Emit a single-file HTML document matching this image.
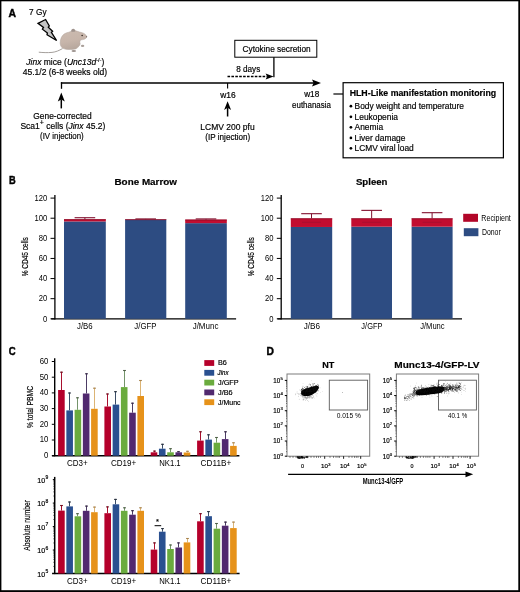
<!DOCTYPE html>
<html><head><meta charset="utf-8"><style>
html,body{margin:0;padding:0;background:#fff;width:520px;height:592px;overflow:hidden;}
svg{display:block;will-change:transform;}
text{stroke:#000;stroke-width:0.18px;font-family:"Liberation Sans", sans-serif;}
</style></head><body>
<svg width="520" height="592" viewBox="0 0 520 592">
<rect width="520" height="592" fill="#fff"/>
<rect x="0.00" y="0.00" width="520.00" height="1.30" fill="#000" />
<rect x="0.00" y="0.00" width="1.40" height="592.00" fill="#000" />
<rect x="518.30" y="0.00" width="1.70" height="592.00" fill="#000" />
<rect x="0.00" y="590.20" width="520.00" height="1.80" fill="#000" />
<text x="8.40" y="17.40" font-size="11.5" font-weight="bold" font-style="normal" fill="#000" textLength="7.50" lengthAdjust="spacingAndGlyphs" style="stroke-width:0.45px">A</text>
<text x="29.10" y="14.60" font-size="8.7" font-weight="normal" font-style="normal" fill="#000" textLength="17.45" lengthAdjust="spacingAndGlyphs" >7 Gy</text>
<polygon points="38,23.3 45.6,19.5 49.3,26 48.3,27.1 52.6,31.3 51.4,32.3 56.6,40.5 47,34.8 47.4,33 42.4,29.2 43.5,27.4" fill="#c4c4c4" stroke="#000" stroke-width="1.3" stroke-linejoin="miter"/>
<defs><linearGradient id="mg" x1="0" y1="0" x2="0.3" y2="1"><stop offset="0" stop-color="#cbbbb0"/><stop offset="0.6" stop-color="#c7b5aa"/><stop offset="1" stop-color="#b8a89e"/></linearGradient></defs>
<path d="M62.5,48.6 C59,50.5 56,52 52,52.4 C47,52.8 43,52.6 38.8,52.2" fill="none" stroke="#9a9490" stroke-width="0.9"/>
<path d="M69,32.2 C71,31 73.5,30.5 75,30.6 C78,31.5 81,32.5 83.5,33.2 C85.2,34 86.3,35.3 86.8,36.6 C86.5,37.8 85.8,38.7 84.8,39.1 C83.5,39.6 82,39.8 80.8,39.9 C79.8,41 79.6,42.3 80.2,43.6 C80,45 79.5,45.8 78.9,46.3 C77.8,47.6 76.8,48.4 75.6,48.9 C72,49.6 68.5,49.6 65.8,49.2 C64,48.8 62.6,48.3 61.9,47.6 C60.6,46 60,44 60.2,42.3 C60.3,40.6 60.6,39.2 61.2,37.8 C62,36 63,34.8 64.5,33.8 C66,32.9 67.5,32.4 69,32.2 Z" fill="url(#mg)" stroke="#b0a39b" stroke-width="0.5"/>
<ellipse cx="82.6" cy="45.9" rx="1.7" ry="1.1" fill="#aaa09a"/>
<ellipse cx="73.8" cy="51.0" rx="2.3" ry="1.1" fill="#9e9490"/>
<path d="M71.2,31.6 C71,29.8 72,28.8 73.3,28.8 C74.6,28.9 75.3,30 75.2,31.4 C74,31.9 72.4,32 71.2,31.6 Z" fill="#9f938d"/>
<circle cx="82.1" cy="35.5" r="0.75" fill="#2a1f1a"/>
<circle cx="86.5" cy="36.8" r="0.55" fill="#5a4a45"/>
<text x="26.3" y="65" font-size="8.4" textLength="78" lengthAdjust="spacingAndGlyphs"><tspan font-style="italic">Jinx</tspan> mice (<tspan font-style="italic">Unc13d</tspan><tspan font-size="5.5" dy="-3">-/-</tspan><tspan dy="3">)</tspan></text>
<text x="22.65" y="75.40" font-size="8.5" font-weight="normal" font-style="normal" fill="#000" textLength="84.50" lengthAdjust="spacingAndGlyphs" >45.1/2 (6-8 weeks old)</text>
<line x1="60.9" y1="83.0" x2="314" y2="83.0" stroke="#000" stroke-width="1.6" />
<polygon points="312,79.4 321,83.0 312,86.6 313.6,83.0" fill="#000"/>
<line x1="61.5" y1="82.2" x2="61.5" y2="88.8" stroke="#000" stroke-width="1.3" />
<line x1="227.6" y1="83.0" x2="227.6" y2="88.6" stroke="#000" stroke-width="1.1" />
<line x1="61.3" y1="99.3" x2="61.3" y2="108.4" stroke="#000" stroke-width="1.5" />
<polygon points="61.3,92.5 64.8,101.5 61.3,99.39999999999999 57.8,101.5" fill="#000"/>
<line x1="227.6" y1="107.7" x2="227.6" y2="116.5" stroke="#000" stroke-width="1.5" />
<polygon points="227.6,101.2 231.1,109.9 227.6,107.8 224.1,109.9" fill="#000"/>
<text x="33.35" y="118.70" font-size="8.5" font-weight="normal" font-style="normal" fill="#000" textLength="58.30" lengthAdjust="spacingAndGlyphs" >Gene-corrected</text>
<text x="20.4" y="128.5" font-size="8.5" textLength="85" lengthAdjust="spacingAndGlyphs">Sca1<tspan font-size="7" dy="-3.2">+</tspan><tspan dy="3.2"> cells (</tspan><tspan font-style="italic">Jinx</tspan> 45.2)</text>
<text x="40.05" y="139.00" font-size="8.7" font-weight="normal" font-style="normal" fill="#000" textLength="43.70" lengthAdjust="spacingAndGlyphs" >(IV injection)</text>
<text x="220.17" y="98.40" font-size="8.5" font-weight="normal" font-style="normal" fill="#000" textLength="15.49" lengthAdjust="spacingAndGlyphs" >w16</text>
<text x="200.35" y="129.60" font-size="8.5" font-weight="normal" font-style="normal" fill="#000" textLength="54.30" lengthAdjust="spacingAndGlyphs" >LCMV 200 pfu</text>
<text x="205.35" y="139.80" font-size="8.5" font-weight="normal" font-style="normal" fill="#000" textLength="44.90" lengthAdjust="spacingAndGlyphs" >(IP injection)</text>
<rect x="234.8" y="40.3" width="82" height="16.9" fill="none" stroke="#000" stroke-width="1"/>
<text x="242.55" y="52.40" font-size="8.4" font-weight="normal" font-style="normal" fill="#000" textLength="68.10" lengthAdjust="spacingAndGlyphs" >Cytokine secretion</text>
<line x1="273.9" y1="57.2" x2="273.9" y2="77.2" stroke="#000" stroke-width="1.3" />
<line x1="227.5" y1="76.6" x2="267" y2="76.6" stroke="#000" stroke-width="1.5" stroke-dasharray="2.6,1.3"/>
<polygon points="265.6,73.6 273.6,76.6 265.6,79.6 267.2,76.6" fill="#000"/>
<text x="236.25" y="71.80" font-size="8.4" font-weight="normal" font-style="normal" fill="#000" textLength="24.00" lengthAdjust="spacingAndGlyphs" >8 days</text>
<text x="304.17" y="96.80" font-size="8.5" font-weight="normal" font-style="normal" fill="#000" textLength="15.09" lengthAdjust="spacingAndGlyphs" >w18</text>
<text x="292.05" y="108.10" font-size="8.5" font-weight="normal" font-style="normal" fill="#000" textLength="38.89" lengthAdjust="spacingAndGlyphs" >euthanasia</text>
<line x1="333.4" y1="94" x2="343" y2="94" stroke="#000" stroke-width="1.2" />
<rect x="343.1" y="82.7" width="160.3" height="75.1" fill="none" stroke="#000" stroke-width="1.2"/>
<text x="349.65" y="95.80" font-size="8.9" font-weight="bold" font-style="normal" fill="#000" textLength="146.50" lengthAdjust="spacingAndGlyphs" >HLH-Like manifestation monitoring</text>
<circle cx="350.9" cy="106.20" r="1.35" fill="#000"/>
<text x="354.55" y="108.90" font-size="8.4" font-weight="normal" font-style="normal" fill="#000" textLength="109.30" lengthAdjust="spacingAndGlyphs" >Body weight and temperature</text>
<circle cx="350.9" cy="116.80" r="1.35" fill="#000"/>
<text x="354.55" y="119.50" font-size="8.4" font-weight="normal" font-style="normal" fill="#000" textLength="43.45" lengthAdjust="spacingAndGlyphs" >Leukopenia</text>
<circle cx="350.9" cy="127.30" r="1.35" fill="#000"/>
<text x="354.55" y="130.00" font-size="8.4" font-weight="normal" font-style="normal" fill="#000" textLength="28.59" lengthAdjust="spacingAndGlyphs" >Anemia</text>
<circle cx="350.9" cy="137.90" r="1.35" fill="#000"/>
<text x="354.55" y="140.60" font-size="8.4" font-weight="normal" font-style="normal" fill="#000" textLength="50.85" lengthAdjust="spacingAndGlyphs" >Liver damage</text>
<circle cx="350.9" cy="148.30" r="1.35" fill="#000"/>
<text x="354.55" y="151.00" font-size="8.4" font-weight="normal" font-style="normal" fill="#000" textLength="59.19" lengthAdjust="spacingAndGlyphs" >LCMV viral load</text>
<text x="9.00" y="184.20" font-size="11.5" font-weight="bold" font-style="normal" fill="#000" textLength="6.70" lengthAdjust="spacingAndGlyphs" style="stroke-width:0.45px">B</text>
<text x="114.50" y="184.90" font-size="9.4" font-weight="bold" font-style="normal" fill="#000" textLength="62.48" lengthAdjust="spacingAndGlyphs" >Bone Marrow</text>
<text x="355.90" y="184.70" font-size="9.4" font-weight="bold" font-style="normal" fill="#000" textLength="31.60" lengthAdjust="spacingAndGlyphs" >Spleen</text>
<line x1="54.9" y1="195.1" x2="54.9" y2="319.40000000000003" stroke="#000" stroke-width="1.3" />
<line x1="51.199999999999996" y1="318.8" x2="236.1" y2="318.8" stroke="#000" stroke-width="1.2" />
<line x1="50.5" y1="318.8" x2="54.9" y2="318.8" stroke="#000" stroke-width="1.0" />
<text x="43.05" y="321.55" font-size="8.3" font-weight="normal" font-style="normal" fill="#000" textLength="4.25" lengthAdjust="spacingAndGlyphs" style="stroke-width:0">0</text>
<line x1="50.5" y1="298.68333333333334" x2="54.9" y2="298.68333333333334" stroke="#000" stroke-width="1.0" />
<text x="38.81" y="301.43" font-size="8.3" font-weight="normal" font-style="normal" fill="#000" textLength="8.49" lengthAdjust="spacingAndGlyphs" style="stroke-width:0">20</text>
<line x1="50.5" y1="278.56666666666666" x2="54.9" y2="278.56666666666666" stroke="#000" stroke-width="1.0" />
<text x="38.81" y="281.32" font-size="8.3" font-weight="normal" font-style="normal" fill="#000" textLength="8.49" lengthAdjust="spacingAndGlyphs" style="stroke-width:0">40</text>
<line x1="50.5" y1="258.45" x2="54.9" y2="258.45" stroke="#000" stroke-width="1.0" />
<text x="38.81" y="261.20" font-size="8.3" font-weight="normal" font-style="normal" fill="#000" textLength="8.49" lengthAdjust="spacingAndGlyphs" style="stroke-width:0">60</text>
<line x1="50.5" y1="238.33333333333331" x2="54.9" y2="238.33333333333331" stroke="#000" stroke-width="1.0" />
<text x="38.81" y="241.08" font-size="8.3" font-weight="normal" font-style="normal" fill="#000" textLength="8.49" lengthAdjust="spacingAndGlyphs" style="stroke-width:0">80</text>
<line x1="50.5" y1="218.21666666666664" x2="54.9" y2="218.21666666666664" stroke="#000" stroke-width="1.0" />
<text x="34.56" y="220.97" font-size="8.3" font-weight="normal" font-style="normal" fill="#000" textLength="12.74" lengthAdjust="spacingAndGlyphs" style="stroke-width:0">100</text>
<line x1="50.5" y1="198.09999999999997" x2="54.9" y2="198.09999999999997" stroke="#000" stroke-width="1.0" />
<text x="34.56" y="200.85" font-size="8.3" font-weight="normal" font-style="normal" fill="#000" textLength="12.74" lengthAdjust="spacingAndGlyphs" style="stroke-width:0">120</text>
<g transform="translate(27.90,256.75) rotate(-90)"><text x="-19.60" y="0" font-size="8.2" textLength="39.20" lengthAdjust="spacingAndGlyphs">% CD45 cells</text></g>
<rect x="64.00" y="221.44" width="41.80" height="97.36" fill="#2d4c82" />
<rect x="64.00" y="219.32" width="41.80" height="2.11" fill="#c20d30" />
<rect x="64.00" y="219.32" width="41.80" height="0.80" fill="#8a0a25" />
<line x1="84.9" y1="217.71375" x2="84.9" y2="219.32308333333333" stroke="#80102e" stroke-width="1.0" />
<line x1="74.60000000000001" y1="217.71375" x2="95.2" y2="217.71375" stroke="#80102e" stroke-width="1.1" />
<text x="77.05" y="329.00" font-size="8.7" font-weight="normal" font-style="normal" fill="#000" textLength="15.60" lengthAdjust="spacingAndGlyphs" style="stroke-width:0">J/B6</text>
<rect x="125.10" y="219.62" width="41.20" height="99.18" fill="#2d4c82" />
<rect x="125.10" y="219.32" width="41.20" height="0.30" fill="#c20d30" />
<rect x="125.10" y="219.32" width="41.20" height="0.80" fill="#8a0a25" />
<line x1="145.7" y1="218.92075" x2="145.7" y2="219.32308333333333" stroke="#80102e" stroke-width="1.0" />
<line x1="135.39999999999998" y1="218.92075" x2="156.0" y2="218.92075" stroke="#80102e" stroke-width="1.1" />
<text x="134.35" y="329.00" font-size="8.7" font-weight="normal" font-style="normal" fill="#000" textLength="22.10" lengthAdjust="spacingAndGlyphs" style="stroke-width:0">J/GFP</text>
<rect x="185.20" y="223.15" width="41.60" height="95.65" fill="#2d4c82" />
<rect x="185.20" y="219.62" width="41.60" height="3.52" fill="#c20d30" />
<rect x="185.20" y="219.62" width="41.60" height="0.80" fill="#8a0a25" />
<line x1="206.0" y1="218.92075" x2="206.0" y2="219.62483333333333" stroke="#80102e" stroke-width="1.0" />
<line x1="195.7" y1="218.92075" x2="216.3" y2="218.92075" stroke="#80102e" stroke-width="1.1" />
<text x="192.65" y="329.00" font-size="8.7" font-weight="normal" font-style="normal" fill="#000" textLength="25.80" lengthAdjust="spacingAndGlyphs" style="stroke-width:0">J/Munc</text>
<line x1="281.2" y1="195.1" x2="281.2" y2="319.40000000000003" stroke="#000" stroke-width="1.3" />
<line x1="277.5" y1="318.8" x2="462" y2="318.8" stroke="#000" stroke-width="1.2" />
<line x1="276.8" y1="318.8" x2="281.2" y2="318.8" stroke="#000" stroke-width="1.0" />
<text x="269.35" y="321.55" font-size="8.3" font-weight="normal" font-style="normal" fill="#000" textLength="4.25" lengthAdjust="spacingAndGlyphs" style="stroke-width:0">0</text>
<line x1="276.8" y1="298.68333333333334" x2="281.2" y2="298.68333333333334" stroke="#000" stroke-width="1.0" />
<text x="265.11" y="301.43" font-size="8.3" font-weight="normal" font-style="normal" fill="#000" textLength="8.49" lengthAdjust="spacingAndGlyphs" style="stroke-width:0">20</text>
<line x1="276.8" y1="278.56666666666666" x2="281.2" y2="278.56666666666666" stroke="#000" stroke-width="1.0" />
<text x="265.11" y="281.32" font-size="8.3" font-weight="normal" font-style="normal" fill="#000" textLength="8.49" lengthAdjust="spacingAndGlyphs" style="stroke-width:0">40</text>
<line x1="276.8" y1="258.45" x2="281.2" y2="258.45" stroke="#000" stroke-width="1.0" />
<text x="265.11" y="261.20" font-size="8.3" font-weight="normal" font-style="normal" fill="#000" textLength="8.49" lengthAdjust="spacingAndGlyphs" style="stroke-width:0">60</text>
<line x1="276.8" y1="238.33333333333331" x2="281.2" y2="238.33333333333331" stroke="#000" stroke-width="1.0" />
<text x="265.11" y="241.08" font-size="8.3" font-weight="normal" font-style="normal" fill="#000" textLength="8.49" lengthAdjust="spacingAndGlyphs" style="stroke-width:0">80</text>
<line x1="276.8" y1="218.21666666666664" x2="281.2" y2="218.21666666666664" stroke="#000" stroke-width="1.0" />
<text x="260.86" y="220.97" font-size="8.3" font-weight="normal" font-style="normal" fill="#000" textLength="12.74" lengthAdjust="spacingAndGlyphs" style="stroke-width:0">100</text>
<line x1="276.8" y1="198.09999999999997" x2="281.2" y2="198.09999999999997" stroke="#000" stroke-width="1.0" />
<text x="260.86" y="200.85" font-size="8.3" font-weight="normal" font-style="normal" fill="#000" textLength="12.74" lengthAdjust="spacingAndGlyphs" style="stroke-width:0">120</text>
<g transform="translate(254.20,256.75) rotate(-90)"><text x="-19.60" y="0" font-size="8.2" textLength="39.20" lengthAdjust="spacingAndGlyphs">% CD45 cells</text></g>
<rect x="290.80" y="226.97" width="41.40" height="91.83" fill="#2d4c82" />
<rect x="290.80" y="218.42" width="41.40" height="8.55" fill="#c20d30" />
<rect x="290.80" y="218.42" width="41.40" height="0.80" fill="#8a0a25" />
<line x1="311.5" y1="213.69041666666664" x2="311.5" y2="218.4178333333333" stroke="#80102e" stroke-width="1.0" />
<line x1="301.2" y1="213.69041666666664" x2="321.8" y2="213.69041666666664" stroke="#80102e" stroke-width="1.1" />
<text x="303.75" y="329.00" font-size="8.7" font-weight="normal" font-style="normal" fill="#000" textLength="16.40" lengthAdjust="spacingAndGlyphs" style="stroke-width:0">J/B6</text>
<rect x="351.30" y="226.67" width="40.70" height="92.13" fill="#2d4c82" />
<rect x="351.30" y="218.42" width="40.70" height="8.25" fill="#c20d30" />
<rect x="351.30" y="218.42" width="40.70" height="0.80" fill="#8a0a25" />
<line x1="371.65" y1="210.37116666666665" x2="371.65" y2="218.4178333333333" stroke="#80102e" stroke-width="1.0" />
<line x1="361.34999999999997" y1="210.37116666666665" x2="381.95" y2="210.37116666666665" stroke="#80102e" stroke-width="1.1" />
<text x="361.35" y="329.00" font-size="8.7" font-weight="normal" font-style="normal" fill="#000" textLength="21.10" lengthAdjust="spacingAndGlyphs" style="stroke-width:0">J/GFP</text>
<rect x="411.60" y="226.67" width="41.00" height="92.13" fill="#2d4c82" />
<rect x="411.60" y="218.42" width="41.00" height="8.25" fill="#c20d30" />
<rect x="411.60" y="218.42" width="41.00" height="0.80" fill="#8a0a25" />
<line x1="432.1" y1="212.6845833333333" x2="432.1" y2="218.4178333333333" stroke="#80102e" stroke-width="1.0" />
<line x1="421.8" y1="212.6845833333333" x2="442.40000000000003" y2="212.6845833333333" stroke="#80102e" stroke-width="1.1" />
<text x="420.15" y="329.00" font-size="8.7" font-weight="normal" font-style="normal" fill="#000" textLength="24.50" lengthAdjust="spacingAndGlyphs" style="stroke-width:0">J/Munc</text>
<line x1="302.0" y1="222.3" x2="321.0" y2="222.3" stroke="#8e1030" stroke-width="0.8" opacity="0.6"/>
<line x1="362.2" y1="222.3" x2="381.2" y2="222.3" stroke="#8e1030" stroke-width="0.8" opacity="0.6"/>
<line x1="422.6" y1="222.3" x2="441.6" y2="222.3" stroke="#8e1030" stroke-width="0.8" opacity="0.6"/>
<rect x="463.20" y="213.80" width="14.80" height="8.00" fill="#b20628" />
<rect x="463.80" y="228.20" width="14.60" height="8.00" fill="#2d4c82" />
<text x="481.35" y="220.70" font-size="8.8" font-weight="normal" font-style="normal" fill="#000" textLength="29.50" lengthAdjust="spacingAndGlyphs" style="stroke-width:0">Recipient</text>
<text x="481.95" y="234.70" font-size="8.8" font-weight="normal" font-style="normal" fill="#000" textLength="18.80" lengthAdjust="spacingAndGlyphs" style="stroke-width:0">Donor</text>
<text x="8.70" y="355.30" font-size="11.5" font-weight="bold" font-style="normal" fill="#000" textLength="6.90" lengthAdjust="spacingAndGlyphs" style="stroke-width:0.45px">C</text>
<line x1="54.7" y1="358.3" x2="54.7" y2="456.3" stroke="#000" stroke-width="1.4" />
<line x1="52.1" y1="455.7" x2="239.4" y2="455.7" stroke="#000" stroke-width="1.4" />
<line x1="51.8" y1="455.7" x2="54.7" y2="455.7" stroke="#000" stroke-width="1.0" />
<text x="44.07" y="458.00" font-size="8.2" font-weight="normal" font-style="normal" fill="#000" textLength="4.33" lengthAdjust="spacingAndGlyphs" style="stroke-width:0">0</text>
<line x1="51.8" y1="440.0" x2="54.7" y2="440.0" stroke="#000" stroke-width="1.0" />
<text x="39.74" y="442.30" font-size="8.2" font-weight="normal" font-style="normal" fill="#000" textLength="8.66" lengthAdjust="spacingAndGlyphs" style="stroke-width:0">10</text>
<line x1="51.8" y1="424.3" x2="54.7" y2="424.3" stroke="#000" stroke-width="1.0" />
<text x="39.74" y="426.60" font-size="8.2" font-weight="normal" font-style="normal" fill="#000" textLength="8.66" lengthAdjust="spacingAndGlyphs" style="stroke-width:0">20</text>
<line x1="51.8" y1="408.6" x2="54.7" y2="408.6" stroke="#000" stroke-width="1.0" />
<text x="39.74" y="410.90" font-size="8.2" font-weight="normal" font-style="normal" fill="#000" textLength="8.66" lengthAdjust="spacingAndGlyphs" style="stroke-width:0">30</text>
<line x1="51.8" y1="392.9" x2="54.7" y2="392.9" stroke="#000" stroke-width="1.0" />
<text x="39.74" y="395.20" font-size="8.2" font-weight="normal" font-style="normal" fill="#000" textLength="8.66" lengthAdjust="spacingAndGlyphs" style="stroke-width:0">40</text>
<line x1="51.8" y1="377.2" x2="54.7" y2="377.2" stroke="#000" stroke-width="1.0" />
<text x="39.74" y="379.50" font-size="8.2" font-weight="normal" font-style="normal" fill="#000" textLength="8.66" lengthAdjust="spacingAndGlyphs" style="stroke-width:0">50</text>
<line x1="51.8" y1="361.5" x2="54.7" y2="361.5" stroke="#000" stroke-width="1.0" />
<text x="39.74" y="363.80" font-size="8.2" font-weight="normal" font-style="normal" fill="#000" textLength="8.66" lengthAdjust="spacingAndGlyphs" style="stroke-width:0">60</text>
<line x1="61.5" y1="371.7" x2="61.5" y2="390.0" stroke="#a8102e" stroke-width="1.0" />
<line x1="60.1" y1="372.2" x2="62.9" y2="372.2" stroke="#701020" stroke-width="1.1" />
<rect x="58.10" y="390.00" width="6.60" height="65.70" fill="#b5002b" />
<line x1="69.5" y1="392.5" x2="69.5" y2="410.4" stroke="#3a4c66" stroke-width="1.0" />
<line x1="68.1" y1="393.0" x2="70.9" y2="393.0" stroke="#28303e" stroke-width="1.1" />
<rect x="66.35" y="410.40" width="6.60" height="45.30" fill="#2a5090" />
<line x1="77.5" y1="397.3" x2="77.5" y2="409.8" stroke="#74946a" stroke-width="1.0" />
<line x1="76.1" y1="397.8" x2="78.9" y2="397.8" stroke="#4e5e46" stroke-width="1.1" />
<rect x="74.60" y="409.80" width="6.60" height="45.90" fill="#6aab3e" />
<line x1="86.5" y1="373.3" x2="86.5" y2="393.5" stroke="#4c3c64" stroke-width="1.0" />
<line x1="85.1" y1="373.8" x2="87.9" y2="373.8" stroke="#342644" stroke-width="1.1" />
<rect x="82.85" y="393.50" width="6.60" height="62.20" fill="#51296f" />
<line x1="94.5" y1="387.7" x2="94.5" y2="408.8" stroke="#dcb474" stroke-width="1.0" />
<line x1="93.1" y1="388.2" x2="95.9" y2="388.2" stroke="#a88450" stroke-width="1.1" />
<rect x="91.10" y="408.80" width="6.60" height="46.90" fill="#e6921a" />
<line x1="107.5" y1="393.5" x2="107.5" y2="406.5" stroke="#a8102e" stroke-width="1.0" />
<line x1="106.1" y1="394.0" x2="108.9" y2="394.0" stroke="#701020" stroke-width="1.1" />
<rect x="104.40" y="406.50" width="6.60" height="49.20" fill="#b5002b" />
<line x1="115.5" y1="391.2" x2="115.5" y2="404.6" stroke="#3a4c66" stroke-width="1.0" />
<line x1="114.1" y1="391.7" x2="116.9" y2="391.7" stroke="#28303e" stroke-width="1.1" />
<rect x="112.65" y="404.60" width="6.60" height="51.10" fill="#2a5090" />
<line x1="124.5" y1="370.0" x2="124.5" y2="387.1" stroke="#74946a" stroke-width="1.0" />
<line x1="123.1" y1="370.5" x2="125.9" y2="370.5" stroke="#4e5e46" stroke-width="1.1" />
<rect x="120.90" y="387.10" width="6.60" height="68.60" fill="#6aab3e" />
<line x1="132.5" y1="402.7" x2="132.5" y2="412.7" stroke="#4c3c64" stroke-width="1.0" />
<line x1="131.1" y1="403.2" x2="133.9" y2="403.2" stroke="#342644" stroke-width="1.1" />
<rect x="129.15" y="412.70" width="6.60" height="43.00" fill="#51296f" />
<line x1="140.5" y1="380.0" x2="140.5" y2="396.0" stroke="#dcb474" stroke-width="1.0" />
<line x1="139.1" y1="380.5" x2="141.9" y2="380.5" stroke="#a88450" stroke-width="1.1" />
<rect x="137.40" y="396.00" width="6.60" height="59.70" fill="#e6921a" />
<line x1="154.5" y1="450.6" x2="154.5" y2="452.3" stroke="#a8102e" stroke-width="1.0" />
<line x1="153.1" y1="451.1" x2="155.9" y2="451.1" stroke="#701020" stroke-width="1.1" />
<rect x="150.70" y="452.30" width="6.60" height="3.40" fill="#b5002b" />
<line x1="162.5" y1="443.8" x2="162.5" y2="448.7" stroke="#3a4c66" stroke-width="1.0" />
<line x1="161.1" y1="444.3" x2="163.9" y2="444.3" stroke="#28303e" stroke-width="1.1" />
<rect x="158.95" y="448.70" width="6.60" height="7.00" fill="#2a5090" />
<line x1="170.5" y1="448.2" x2="170.5" y2="452.3" stroke="#74946a" stroke-width="1.0" />
<line x1="169.1" y1="448.7" x2="171.9" y2="448.7" stroke="#4e5e46" stroke-width="1.1" />
<rect x="167.20" y="452.30" width="6.60" height="3.40" fill="#6aab3e" />
<line x1="178.5" y1="451.2" x2="178.5" y2="452.3" stroke="#4c3c64" stroke-width="1.0" />
<line x1="177.1" y1="451.7" x2="179.9" y2="451.7" stroke="#342644" stroke-width="1.1" />
<rect x="175.45" y="452.30" width="6.60" height="3.40" fill="#51296f" />
<line x1="187.5" y1="450.8" x2="187.5" y2="452.5" stroke="#dcb474" stroke-width="1.0" />
<line x1="186.1" y1="451.3" x2="188.9" y2="451.3" stroke="#a88450" stroke-width="1.1" />
<rect x="183.70" y="452.50" width="6.60" height="3.20" fill="#e6921a" />
<line x1="200.5" y1="431.3" x2="200.5" y2="440.6" stroke="#a8102e" stroke-width="1.0" />
<line x1="199.1" y1="431.8" x2="201.9" y2="431.8" stroke="#701020" stroke-width="1.1" />
<rect x="197.10" y="440.60" width="6.60" height="15.10" fill="#b5002b" />
<line x1="208.5" y1="434.3" x2="208.5" y2="439.6" stroke="#3a4c66" stroke-width="1.0" />
<line x1="207.1" y1="434.8" x2="209.9" y2="434.8" stroke="#28303e" stroke-width="1.1" />
<rect x="205.35" y="439.60" width="6.60" height="16.10" fill="#2a5090" />
<line x1="216.5" y1="437.0" x2="216.5" y2="442.7" stroke="#74946a" stroke-width="1.0" />
<line x1="215.1" y1="437.5" x2="217.9" y2="437.5" stroke="#4e5e46" stroke-width="1.1" />
<rect x="213.60" y="442.70" width="6.60" height="13.00" fill="#6aab3e" />
<line x1="225.5" y1="431.3" x2="225.5" y2="439.1" stroke="#4c3c64" stroke-width="1.0" />
<line x1="224.1" y1="431.8" x2="226.9" y2="431.8" stroke="#342644" stroke-width="1.1" />
<rect x="221.85" y="439.10" width="6.60" height="16.60" fill="#51296f" />
<line x1="233.5" y1="442.3" x2="233.5" y2="445.9" stroke="#dcb474" stroke-width="1.0" />
<line x1="232.1" y1="442.8" x2="234.9" y2="442.8" stroke="#a88450" stroke-width="1.1" />
<rect x="230.10" y="445.90" width="6.60" height="9.80" fill="#e6921a" />
<g transform="translate(33.10,407.00) rotate(-90)"><text x="-21.05" y="0" font-size="8.6" textLength="42.10" lengthAdjust="spacingAndGlyphs">% total PBMC</text></g>
<text x="67.05" y="466.00" font-size="9.2" font-weight="normal" font-style="normal" fill="#000" textLength="20.70" lengthAdjust="spacingAndGlyphs" style="stroke-width:0">CD3+</text>
<text x="110.95" y="466.00" font-size="9.2" font-weight="normal" font-style="normal" fill="#000" textLength="25.30" lengthAdjust="spacingAndGlyphs" style="stroke-width:0">CD19+</text>
<text x="159.15" y="466.00" font-size="9.2" font-weight="normal" font-style="normal" fill="#000" textLength="21.50" lengthAdjust="spacingAndGlyphs" style="stroke-width:0">NK1.1</text>
<text x="200.55" y="466.00" font-size="9.2" font-weight="normal" font-style="normal" fill="#000" textLength="30.70" lengthAdjust="spacingAndGlyphs" style="stroke-width:0">CD11B+</text>
<rect x="204.30" y="360.10" width="9.90" height="5.80" fill="#b5002b" />
<text x="218.00" y="365.30" font-size="7.0" font-weight="normal" font-style="normal" fill="#000" textLength="8.90" lengthAdjust="spacingAndGlyphs" >B6</text>
<rect x="204.30" y="369.90" width="9.90" height="5.80" fill="#2a5090" />
<text x="217.62" y="375.10" font-size="7.0" font-weight="normal" font-style="italic" fill="#000" textLength="10.90" lengthAdjust="spacingAndGlyphs" >Jinx</text>
<rect x="204.30" y="379.70" width="9.90" height="5.80" fill="#6aab3e" />
<text x="218.00" y="384.90" font-size="7.0" font-weight="normal" font-style="normal" fill="#000" textLength="20.70" lengthAdjust="spacingAndGlyphs" >J/GFP</text>
<rect x="204.30" y="389.50" width="9.90" height="5.80" fill="#51296f" />
<text x="218.00" y="394.70" font-size="7.0" font-weight="normal" font-style="normal" fill="#000" textLength="14.60" lengthAdjust="spacingAndGlyphs" >J/B6</text>
<rect x="204.30" y="399.30" width="9.90" height="5.80" fill="#e6921a" />
<text x="218.00" y="404.50" font-size="7.0" font-weight="normal" font-style="normal" fill="#000" textLength="22.50" lengthAdjust="spacingAndGlyphs" >J/Munc</text>
<line x1="54.7" y1="476.9" x2="54.7" y2="574.1" stroke="#000" stroke-width="1.5" />
<line x1="52.1" y1="573.5" x2="239.6" y2="573.5" stroke="#000" stroke-width="1.4" />
<line x1="52.8" y1="573.5" x2="54.7" y2="573.5" stroke="#000" stroke-width="1.0" />
<text x="37.3" y="576.60" font-size="7.3" textLength="7.9" lengthAdjust="spacingAndGlyphs">10</text>
<text x="45.6" y="573.10" font-size="5">5</text>
<line x1="53.4" y1="566.433320851788" x2="54.7" y2="566.433320851788" stroke="#000" stroke-width="0.7" />
<line x1="53.4" y1="562.2995785454559" x2="54.7" y2="562.2995785454559" stroke="#000" stroke-width="0.7" />
<line x1="53.4" y1="559.3666417035761" x2="54.7" y2="559.3666417035761" stroke="#000" stroke-width="0.7" />
<line x1="53.4" y1="557.0916791482119" x2="54.7" y2="557.0916791482119" stroke="#000" stroke-width="0.7" />
<line x1="53.4" y1="555.232899397244" x2="54.7" y2="555.232899397244" stroke="#000" stroke-width="0.7" />
<line x1="53.4" y1="553.6613235106653" x2="54.7" y2="553.6613235106653" stroke="#000" stroke-width="0.7" />
<line x1="53.4" y1="552.2999625553641" x2="54.7" y2="552.2999625553641" stroke="#000" stroke-width="0.7" />
<line x1="53.4" y1="551.0991570909118" x2="54.7" y2="551.0991570909118" stroke="#000" stroke-width="0.7" />
<line x1="52.8" y1="550.025" x2="54.7" y2="550.025" stroke="#000" stroke-width="1.0" />
<text x="37.3" y="553.12" font-size="7.3" textLength="7.9" lengthAdjust="spacingAndGlyphs">10</text>
<text x="45.6" y="549.62" font-size="5">6</text>
<line x1="53.4" y1="542.958320851788" x2="54.7" y2="542.958320851788" stroke="#000" stroke-width="0.7" />
<line x1="53.4" y1="538.8245785454559" x2="54.7" y2="538.8245785454559" stroke="#000" stroke-width="0.7" />
<line x1="53.4" y1="535.891641703576" x2="54.7" y2="535.891641703576" stroke="#000" stroke-width="0.7" />
<line x1="53.4" y1="533.6166791482119" x2="54.7" y2="533.6166791482119" stroke="#000" stroke-width="0.7" />
<line x1="53.4" y1="531.7578993972439" x2="54.7" y2="531.7578993972439" stroke="#000" stroke-width="0.7" />
<line x1="53.4" y1="530.1863235106653" x2="54.7" y2="530.1863235106653" stroke="#000" stroke-width="0.7" />
<line x1="53.4" y1="528.8249625553641" x2="54.7" y2="528.8249625553641" stroke="#000" stroke-width="0.7" />
<line x1="53.4" y1="527.6241570909118" x2="54.7" y2="527.6241570909118" stroke="#000" stroke-width="0.7" />
<line x1="52.8" y1="526.55" x2="54.7" y2="526.55" stroke="#000" stroke-width="1.0" />
<text x="37.3" y="529.65" font-size="7.3" textLength="7.9" lengthAdjust="spacingAndGlyphs">10</text>
<text x="45.6" y="526.15" font-size="5">7</text>
<line x1="53.4" y1="519.483320851788" x2="54.7" y2="519.483320851788" stroke="#000" stroke-width="0.7" />
<line x1="53.4" y1="515.3495785454559" x2="54.7" y2="515.3495785454559" stroke="#000" stroke-width="0.7" />
<line x1="53.4" y1="512.416641703576" x2="54.7" y2="512.416641703576" stroke="#000" stroke-width="0.7" />
<line x1="53.4" y1="510.1416791482119" x2="54.7" y2="510.1416791482119" stroke="#000" stroke-width="0.7" />
<line x1="53.4" y1="508.2828993972439" x2="54.7" y2="508.2828993972439" stroke="#000" stroke-width="0.7" />
<line x1="53.4" y1="506.7113235106653" x2="54.7" y2="506.7113235106653" stroke="#000" stroke-width="0.7" />
<line x1="53.4" y1="505.3499625553641" x2="54.7" y2="505.3499625553641" stroke="#000" stroke-width="0.7" />
<line x1="53.4" y1="504.1491570909118" x2="54.7" y2="504.1491570909118" stroke="#000" stroke-width="0.7" />
<line x1="52.8" y1="503.07500000000005" x2="54.7" y2="503.07500000000005" stroke="#000" stroke-width="1.0" />
<text x="37.3" y="506.18" font-size="7.3" textLength="7.9" lengthAdjust="spacingAndGlyphs">10</text>
<text x="45.6" y="502.68" font-size="5">8</text>
<line x1="53.4" y1="496.0083208517881" x2="54.7" y2="496.0083208517881" stroke="#000" stroke-width="0.7" />
<line x1="53.4" y1="491.87457854545596" x2="54.7" y2="491.87457854545596" stroke="#000" stroke-width="0.7" />
<line x1="53.4" y1="488.9416417035761" x2="54.7" y2="488.9416417035761" stroke="#000" stroke-width="0.7" />
<line x1="53.4" y1="486.666679148212" x2="54.7" y2="486.666679148212" stroke="#000" stroke-width="0.7" />
<line x1="53.4" y1="484.807899397244" x2="54.7" y2="484.807899397244" stroke="#000" stroke-width="0.7" />
<line x1="53.4" y1="483.2363235106654" x2="54.7" y2="483.2363235106654" stroke="#000" stroke-width="0.7" />
<line x1="53.4" y1="481.87496255536416" x2="54.7" y2="481.87496255536416" stroke="#000" stroke-width="0.7" />
<line x1="53.4" y1="480.6741570909119" x2="54.7" y2="480.6741570909119" stroke="#000" stroke-width="0.7" />
<line x1="52.8" y1="479.6" x2="54.7" y2="479.6" stroke="#000" stroke-width="1.0" />
<text x="37.3" y="482.70" font-size="7.3" textLength="7.9" lengthAdjust="spacingAndGlyphs">10</text>
<text x="45.6" y="479.20" font-size="5">9</text>
<line x1="61.5" y1="505.0" x2="61.5" y2="510.6" stroke="#a8102e" stroke-width="1.0" />
<line x1="60.1" y1="505.5" x2="62.9" y2="505.5" stroke="#701020" stroke-width="1.1" />
<rect x="58.10" y="510.60" width="6.60" height="62.90" fill="#b5002b" />
<line x1="69.5" y1="501.5" x2="69.5" y2="506.4" stroke="#3a4c66" stroke-width="1.0" />
<line x1="68.1" y1="502.0" x2="70.9" y2="502.0" stroke="#28303e" stroke-width="1.1" />
<rect x="66.35" y="506.40" width="6.60" height="67.10" fill="#2a5090" />
<line x1="77.5" y1="513.2" x2="77.5" y2="516.3" stroke="#74946a" stroke-width="1.0" />
<line x1="76.1" y1="513.7" x2="78.9" y2="513.7" stroke="#4e5e46" stroke-width="1.1" />
<rect x="74.60" y="516.30" width="6.60" height="57.20" fill="#6aab3e" />
<line x1="86.5" y1="505.6" x2="86.5" y2="510.8" stroke="#4c3c64" stroke-width="1.0" />
<line x1="85.1" y1="506.1" x2="87.9" y2="506.1" stroke="#342644" stroke-width="1.1" />
<rect x="82.85" y="510.80" width="6.60" height="62.70" fill="#51296f" />
<line x1="94.5" y1="506.6" x2="94.5" y2="512.2" stroke="#dcb474" stroke-width="1.0" />
<line x1="93.1" y1="507.1" x2="95.9" y2="507.1" stroke="#a88450" stroke-width="1.1" />
<rect x="91.10" y="512.20" width="6.60" height="61.30" fill="#e6921a" />
<line x1="107.5" y1="506.4" x2="107.5" y2="513.2" stroke="#a8102e" stroke-width="1.0" />
<line x1="106.1" y1="506.9" x2="108.9" y2="506.9" stroke="#701020" stroke-width="1.1" />
<rect x="104.40" y="513.20" width="6.60" height="60.30" fill="#b5002b" />
<line x1="115.5" y1="498.9" x2="115.5" y2="504.3" stroke="#3a4c66" stroke-width="1.0" />
<line x1="114.1" y1="499.4" x2="116.9" y2="499.4" stroke="#28303e" stroke-width="1.1" />
<rect x="112.65" y="504.30" width="6.60" height="69.20" fill="#2a5090" />
<line x1="124.5" y1="507.3" x2="124.5" y2="510.8" stroke="#74946a" stroke-width="1.0" />
<line x1="123.1" y1="507.8" x2="125.9" y2="507.8" stroke="#4e5e46" stroke-width="1.1" />
<rect x="120.90" y="510.80" width="6.60" height="62.70" fill="#6aab3e" />
<line x1="132.5" y1="510.2" x2="132.5" y2="514.7" stroke="#4c3c64" stroke-width="1.0" />
<line x1="131.1" y1="510.7" x2="133.9" y2="510.7" stroke="#342644" stroke-width="1.1" />
<rect x="129.15" y="514.70" width="6.60" height="58.80" fill="#51296f" />
<line x1="140.5" y1="507.3" x2="140.5" y2="510.8" stroke="#dcb474" stroke-width="1.0" />
<line x1="139.1" y1="507.8" x2="141.9" y2="507.8" stroke="#a88450" stroke-width="1.1" />
<rect x="137.40" y="510.80" width="6.60" height="62.70" fill="#e6921a" />
<line x1="154.5" y1="542.4" x2="154.5" y2="549.6" stroke="#a8102e" stroke-width="1.0" />
<line x1="153.1" y1="542.9" x2="155.9" y2="542.9" stroke="#701020" stroke-width="1.1" />
<rect x="150.70" y="549.60" width="6.60" height="23.90" fill="#b5002b" />
<line x1="162.5" y1="528.1" x2="162.5" y2="531.7" stroke="#3a4c66" stroke-width="1.0" />
<line x1="161.1" y1="528.6" x2="163.9" y2="528.6" stroke="#28303e" stroke-width="1.1" />
<rect x="158.95" y="531.70" width="6.60" height="41.80" fill="#2a5090" />
<line x1="170.5" y1="544.5" x2="170.5" y2="549.0" stroke="#74946a" stroke-width="1.0" />
<line x1="169.1" y1="545.0" x2="171.9" y2="545.0" stroke="#4e5e46" stroke-width="1.1" />
<rect x="167.20" y="549.00" width="6.60" height="24.50" fill="#6aab3e" />
<line x1="178.5" y1="542.4" x2="178.5" y2="547.5" stroke="#4c3c64" stroke-width="1.0" />
<line x1="177.1" y1="542.9" x2="179.9" y2="542.9" stroke="#342644" stroke-width="1.1" />
<rect x="175.45" y="547.50" width="6.60" height="26.00" fill="#51296f" />
<line x1="187.5" y1="538.0" x2="187.5" y2="542.4" stroke="#dcb474" stroke-width="1.0" />
<line x1="186.1" y1="538.5" x2="188.9" y2="538.5" stroke="#a88450" stroke-width="1.1" />
<rect x="183.70" y="542.40" width="6.60" height="31.10" fill="#e6921a" />
<line x1="200.5" y1="513.2" x2="200.5" y2="521.3" stroke="#a8102e" stroke-width="1.0" />
<line x1="199.1" y1="513.7" x2="201.9" y2="513.7" stroke="#701020" stroke-width="1.1" />
<rect x="197.10" y="521.30" width="6.60" height="52.20" fill="#b5002b" />
<line x1="208.5" y1="511.1" x2="208.5" y2="516.2" stroke="#3a4c66" stroke-width="1.0" />
<line x1="207.1" y1="511.6" x2="209.9" y2="511.6" stroke="#28303e" stroke-width="1.1" />
<rect x="205.35" y="516.20" width="6.60" height="57.30" fill="#2a5090" />
<line x1="216.5" y1="523.0" x2="216.5" y2="528.7" stroke="#74946a" stroke-width="1.0" />
<line x1="215.1" y1="523.5" x2="217.9" y2="523.5" stroke="#4e5e46" stroke-width="1.1" />
<rect x="213.60" y="528.70" width="6.60" height="44.80" fill="#6aab3e" />
<line x1="225.5" y1="521.6" x2="225.5" y2="525.7" stroke="#4c3c64" stroke-width="1.0" />
<line x1="224.1" y1="522.1" x2="226.9" y2="522.1" stroke="#342644" stroke-width="1.1" />
<rect x="221.85" y="525.70" width="6.60" height="47.80" fill="#51296f" />
<line x1="233.5" y1="521.6" x2="233.5" y2="528.1" stroke="#dcb474" stroke-width="1.0" />
<line x1="232.1" y1="522.1" x2="234.9" y2="522.1" stroke="#a88450" stroke-width="1.1" />
<rect x="230.10" y="528.10" width="6.60" height="45.40" fill="#e6921a" />
<line x1="154.6" y1="525.7" x2="161.2" y2="525.7" stroke="#000" stroke-width="1.0" />
<text x="155.9" y="523.6" font-size="7.5">*</text>
<g transform="translate(30.00,525.40) rotate(-90)"><text x="-25.45" y="0" font-size="8.9" textLength="50.90" lengthAdjust="spacingAndGlyphs">Absolute number</text></g>
<text x="67.05" y="583.80" font-size="9.2" font-weight="normal" font-style="normal" fill="#000" textLength="20.70" lengthAdjust="spacingAndGlyphs" style="stroke-width:0">CD3+</text>
<text x="110.95" y="583.80" font-size="9.2" font-weight="normal" font-style="normal" fill="#000" textLength="25.30" lengthAdjust="spacingAndGlyphs" style="stroke-width:0">CD19+</text>
<text x="159.15" y="583.80" font-size="9.2" font-weight="normal" font-style="normal" fill="#000" textLength="21.50" lengthAdjust="spacingAndGlyphs" style="stroke-width:0">NK1.1</text>
<text x="200.55" y="583.80" font-size="9.2" font-weight="normal" font-style="normal" fill="#000" textLength="30.70" lengthAdjust="spacingAndGlyphs" style="stroke-width:0">CD11B+</text>
<text x="266.40" y="355.10" font-size="11.5" font-weight="bold" font-style="normal" fill="#000" textLength="7.40" lengthAdjust="spacingAndGlyphs" style="stroke-width:0.45px">D</text>
<text x="322.15" y="367.80" font-size="9.5" font-weight="bold" font-style="normal" fill="#000" textLength="12.10" lengthAdjust="spacingAndGlyphs" >NT</text>
<text x="394.35" y="368.40" font-size="9.5" font-weight="bold" font-style="normal" fill="#000" textLength="85.20" lengthAdjust="spacingAndGlyphs" >Munc13-4/GFP-LV</text>
<rect x="287.00" y="374.00" width="82.70" height="82.20" fill="none" stroke="#7c7c7c" stroke-width="1"/>
<line x1="284.8" y1="456.2" x2="287.0" y2="456.2" stroke="#000" stroke-width="1.0" />
<text x="273.30" y="458.60" font-size="6.3" textLength="6.9" lengthAdjust="spacingAndGlyphs">10</text>
<text x="280.40" y="455.60" font-size="4.3">0</text>
<line x1="286.0" y1="451.636385265734" x2="287.0" y2="451.636385265734" stroke="#333" stroke-width="0.6" />
<line x1="286.0" y1="448.9668417784499" x2="287.0" y2="448.9668417784499" stroke="#333" stroke-width="0.6" />
<line x1="286.0" y1="447.07277053146805" x2="287.0" y2="447.07277053146805" stroke="#333" stroke-width="0.6" />
<line x1="286.0" y1="445.60361473426593" x2="287.0" y2="445.60361473426593" stroke="#333" stroke-width="0.6" />
<line x1="286.0" y1="444.40322704418395" x2="287.0" y2="444.40322704418395" stroke="#333" stroke-width="0.6" />
<line x1="286.0" y1="443.38831371338387" x2="287.0" y2="443.38831371338387" stroke="#333" stroke-width="0.6" />
<line x1="286.0" y1="442.50915579720214" x2="287.0" y2="442.50915579720214" stroke="#333" stroke-width="0.6" />
<line x1="286.0" y1="441.73368355689985" x2="287.0" y2="441.73368355689985" stroke="#333" stroke-width="0.6" />
<line x1="284.8" y1="441.03999999999996" x2="287.0" y2="441.03999999999996" stroke="#000" stroke-width="1.0" />
<text x="273.30" y="443.44" font-size="6.3" textLength="6.9" lengthAdjust="spacingAndGlyphs">10</text>
<text x="280.40" y="440.44" font-size="4.3">1</text>
<line x1="286.0" y1="436.476385265734" x2="287.0" y2="436.476385265734" stroke="#333" stroke-width="0.6" />
<line x1="286.0" y1="433.8068417784499" x2="287.0" y2="433.8068417784499" stroke="#333" stroke-width="0.6" />
<line x1="286.0" y1="431.912770531468" x2="287.0" y2="431.912770531468" stroke="#333" stroke-width="0.6" />
<line x1="286.0" y1="430.4436147342659" x2="287.0" y2="430.4436147342659" stroke="#333" stroke-width="0.6" />
<line x1="286.0" y1="429.2432270441839" x2="287.0" y2="429.2432270441839" stroke="#333" stroke-width="0.6" />
<line x1="286.0" y1="428.22831371338384" x2="287.0" y2="428.22831371338384" stroke="#333" stroke-width="0.6" />
<line x1="286.0" y1="427.3491557972021" x2="287.0" y2="427.3491557972021" stroke="#333" stroke-width="0.6" />
<line x1="286.0" y1="426.5736835568998" x2="287.0" y2="426.5736835568998" stroke="#333" stroke-width="0.6" />
<line x1="284.8" y1="425.88" x2="287.0" y2="425.88" stroke="#000" stroke-width="1.0" />
<text x="273.30" y="428.28" font-size="6.3" textLength="6.9" lengthAdjust="spacingAndGlyphs">10</text>
<text x="280.40" y="425.28" font-size="4.3">2</text>
<line x1="286.0" y1="421.316385265734" x2="287.0" y2="421.316385265734" stroke="#333" stroke-width="0.6" />
<line x1="286.0" y1="418.6468417784499" x2="287.0" y2="418.6468417784499" stroke="#333" stroke-width="0.6" />
<line x1="286.0" y1="416.75277053146806" x2="287.0" y2="416.75277053146806" stroke="#333" stroke-width="0.6" />
<line x1="286.0" y1="415.28361473426594" x2="287.0" y2="415.28361473426594" stroke="#333" stroke-width="0.6" />
<line x1="286.0" y1="414.08322704418396" x2="287.0" y2="414.08322704418396" stroke="#333" stroke-width="0.6" />
<line x1="286.0" y1="413.0683137133839" x2="287.0" y2="413.0683137133839" stroke="#333" stroke-width="0.6" />
<line x1="286.0" y1="412.18915579720215" x2="287.0" y2="412.18915579720215" stroke="#333" stroke-width="0.6" />
<line x1="286.0" y1="411.41368355689985" x2="287.0" y2="411.41368355689985" stroke="#333" stroke-width="0.6" />
<line x1="284.8" y1="410.71999999999997" x2="287.0" y2="410.71999999999997" stroke="#000" stroke-width="1.0" />
<text x="273.30" y="413.12" font-size="6.3" textLength="6.9" lengthAdjust="spacingAndGlyphs">10</text>
<text x="280.40" y="410.12" font-size="4.3">3</text>
<line x1="286.0" y1="406.156385265734" x2="287.0" y2="406.156385265734" stroke="#333" stroke-width="0.6" />
<line x1="286.0" y1="403.4868417784499" x2="287.0" y2="403.4868417784499" stroke="#333" stroke-width="0.6" />
<line x1="286.0" y1="401.59277053146803" x2="287.0" y2="401.59277053146803" stroke="#333" stroke-width="0.6" />
<line x1="286.0" y1="400.1236147342659" x2="287.0" y2="400.1236147342659" stroke="#333" stroke-width="0.6" />
<line x1="286.0" y1="398.92322704418393" x2="287.0" y2="398.92322704418393" stroke="#333" stroke-width="0.6" />
<line x1="286.0" y1="397.90831371338385" x2="287.0" y2="397.90831371338385" stroke="#333" stroke-width="0.6" />
<line x1="286.0" y1="397.0291557972021" x2="287.0" y2="397.0291557972021" stroke="#333" stroke-width="0.6" />
<line x1="286.0" y1="396.25368355689983" x2="287.0" y2="396.25368355689983" stroke="#333" stroke-width="0.6" />
<line x1="284.8" y1="395.56" x2="287.0" y2="395.56" stroke="#000" stroke-width="1.0" />
<text x="273.30" y="397.96" font-size="6.3" textLength="6.9" lengthAdjust="spacingAndGlyphs">10</text>
<text x="280.40" y="394.96" font-size="4.3">4</text>
<line x1="286.0" y1="390.99638526573403" x2="287.0" y2="390.99638526573403" stroke="#333" stroke-width="0.6" />
<line x1="286.0" y1="388.32684177844993" x2="287.0" y2="388.32684177844993" stroke="#333" stroke-width="0.6" />
<line x1="286.0" y1="386.43277053146807" x2="287.0" y2="386.43277053146807" stroke="#333" stroke-width="0.6" />
<line x1="286.0" y1="384.96361473426595" x2="287.0" y2="384.96361473426595" stroke="#333" stroke-width="0.6" />
<line x1="286.0" y1="383.76322704418396" x2="287.0" y2="383.76322704418396" stroke="#333" stroke-width="0.6" />
<line x1="286.0" y1="382.7483137133839" x2="287.0" y2="382.7483137133839" stroke="#333" stroke-width="0.6" />
<line x1="286.0" y1="381.86915579720215" x2="287.0" y2="381.86915579720215" stroke="#333" stroke-width="0.6" />
<line x1="286.0" y1="381.09368355689986" x2="287.0" y2="381.09368355689986" stroke="#333" stroke-width="0.6" />
<line x1="284.8" y1="380.4" x2="287.0" y2="380.4" stroke="#000" stroke-width="1.0" />
<text x="273.30" y="382.80" font-size="6.3" textLength="6.9" lengthAdjust="spacingAndGlyphs">10</text>
<text x="280.40" y="379.80" font-size="4.3">5</text>
<rect x="329.30" y="380.20" width="38.30" height="29.80" fill="none" stroke="#5a5a5a" stroke-width="0.9"/>
<text x="336.65" y="417.80" font-size="7.0" font-weight="normal" font-style="normal" fill="#000" textLength="24.30" lengthAdjust="spacingAndGlyphs" style="stroke-width:0">0.015 %</text>
<text x="301.00" y="467.9" font-size="5.9" textLength="3.0" lengthAdjust="spacingAndGlyphs">0</text>
<text x="321.05" y="467.9" font-size="5.9" textLength="6.9" lengthAdjust="spacingAndGlyphs">10</text>
<text x="328.30" y="465.6" font-size="4.0">3</text>
<line x1="324.7" y1="456.2" x2="324.7" y2="458.8" stroke="#000" stroke-width="0.9" />
<text x="339.95" y="467.9" font-size="5.9" textLength="6.9" lengthAdjust="spacingAndGlyphs">10</text>
<text x="347.20" y="465.6" font-size="4.0">4</text>
<line x1="343.6" y1="456.2" x2="343.6" y2="458.8" stroke="#000" stroke-width="0.9" />
<text x="357.05" y="467.9" font-size="5.9" textLength="6.9" lengthAdjust="spacingAndGlyphs">10</text>
<text x="364.30" y="465.6" font-size="4.0">5</text>
<line x1="360.7" y1="456.2" x2="360.7" y2="458.8" stroke="#000" stroke-width="0.9" />
<line x1="302.6" y1="456.2" x2="302.6" y2="458.59999999999997" stroke="#000" stroke-width="0.9" />
<line x1="290.0" y1="456.2" x2="290.0" y2="457.8" stroke="#333" stroke-width="0.7" />
<line x1="293.0" y1="456.2" x2="293.0" y2="457.8" stroke="#333" stroke-width="0.7" />
<line x1="296.0" y1="456.2" x2="296.0" y2="457.8" stroke="#333" stroke-width="0.7" />
<line x1="308.0" y1="456.2" x2="308.0" y2="457.8" stroke="#333" stroke-width="0.7" />
<line x1="311.0" y1="456.2" x2="311.0" y2="457.8" stroke="#333" stroke-width="0.7" />
<line x1="314.0" y1="456.2" x2="314.0" y2="457.8" stroke="#333" stroke-width="0.7" />
<line x1="316.5" y1="456.2" x2="316.5" y2="457.8" stroke="#333" stroke-width="0.7" />
<line x1="318.5" y1="456.2" x2="318.5" y2="457.8" stroke="#333" stroke-width="0.7" />
<line x1="320.5" y1="456.2" x2="320.5" y2="457.8" stroke="#333" stroke-width="0.7" />
<line x1="330.0" y1="456.2" x2="330.0" y2="457.8" stroke="#333" stroke-width="0.7" />
<line x1="333.5" y1="456.2" x2="333.5" y2="457.8" stroke="#333" stroke-width="0.7" />
<line x1="336.0" y1="456.2" x2="336.0" y2="457.8" stroke="#333" stroke-width="0.7" />
<line x1="338.0" y1="456.2" x2="338.0" y2="457.8" stroke="#333" stroke-width="0.7" />
<line x1="339.5" y1="456.2" x2="339.5" y2="457.8" stroke="#333" stroke-width="0.7" />
<line x1="349.0" y1="456.2" x2="349.0" y2="457.8" stroke="#333" stroke-width="0.7" />
<line x1="352.0" y1="456.2" x2="352.0" y2="457.8" stroke="#333" stroke-width="0.7" />
<line x1="354.5" y1="456.2" x2="354.5" y2="457.8" stroke="#333" stroke-width="0.7" />
<line x1="356.3" y1="456.2" x2="356.3" y2="457.8" stroke="#333" stroke-width="0.7" />
<line x1="358.0" y1="456.2" x2="358.0" y2="457.8" stroke="#333" stroke-width="0.7" />
<circle cx="299.38" cy="458.23" r="0.45" fill="#000"/>
<circle cx="298.33" cy="457.77" r="0.45" fill="#000"/>
<circle cx="297.89" cy="456.95" r="0.45" fill="#000"/>
<circle cx="307.49" cy="456.88" r="0.45" fill="#000"/>
<circle cx="303.74" cy="457.33" r="0.45" fill="#000"/>
<circle cx="301.76" cy="457.39" r="0.45" fill="#000"/>
<circle cx="299.02" cy="457.99" r="0.45" fill="#000"/>
<circle cx="297.94" cy="456.92" r="0.45" fill="#000"/>
<circle cx="297.21" cy="456.98" r="0.45" fill="#000"/>
<circle cx="301.28" cy="458.12" r="0.45" fill="#000"/>
<circle cx="300.98" cy="456.70" r="0.45" fill="#000"/>
<circle cx="299.71" cy="458.28" r="0.45" fill="#000"/>
<circle cx="297.66" cy="457.62" r="0.45" fill="#000"/>
<circle cx="300.96" cy="457.69" r="0.45" fill="#000"/>
<circle cx="300.55" cy="457.74" r="0.45" fill="#000"/>
<circle cx="302.22" cy="457.67" r="0.45" fill="#000"/>
<circle cx="306.46" cy="457.55" r="0.45" fill="#000"/>
<circle cx="298.49" cy="456.62" r="0.45" fill="#000"/>
<circle cx="306.93" cy="457.38" r="0.45" fill="#000"/>
<circle cx="299.04" cy="458.20" r="0.45" fill="#000"/>
<circle cx="303.08" cy="457.81" r="0.45" fill="#000"/>
<circle cx="306.25" cy="457.01" r="0.45" fill="#000"/>
<circle cx="300.75" cy="458.08" r="0.45" fill="#000"/>
<circle cx="298.42" cy="457.88" r="0.45" fill="#000"/>
<circle cx="298.02" cy="457.74" r="0.45" fill="#000"/>
<circle cx="304.37" cy="458.21" r="0.45" fill="#000"/>
<circle cx="305.86" cy="457.41" r="0.45" fill="#000"/>
<circle cx="299.08" cy="456.77" r="0.45" fill="#000"/>
<circle cx="302.55" cy="457.42" r="0.45" fill="#000"/>
<circle cx="297.75" cy="458.13" r="0.45" fill="#000"/>
<circle cx="302.33" cy="457.76" r="0.45" fill="#000"/>
<circle cx="299.31" cy="456.94" r="0.45" fill="#000"/>
<circle cx="297.13" cy="457.12" r="0.45" fill="#000"/>
<circle cx="299.80" cy="457.26" r="0.45" fill="#000"/>
<circle cx="300.96" cy="458.00" r="0.45" fill="#000"/>
<circle cx="306.36" cy="456.82" r="0.45" fill="#000"/>
<circle cx="301.16" cy="456.80" r="0.45" fill="#000"/>
<circle cx="303.96" cy="458.25" r="0.45" fill="#000"/>
<circle cx="299.12" cy="457.88" r="0.45" fill="#000"/>
<circle cx="300.15" cy="456.52" r="0.45" fill="#000"/>
<circle cx="305.03" cy="457.12" r="0.45" fill="#000"/>
<circle cx="298.79" cy="457.28" r="0.45" fill="#000"/>
<circle cx="299.43" cy="457.24" r="0.45" fill="#000"/>
<circle cx="301.68" cy="457.25" r="0.45" fill="#000"/>
<circle cx="303.18" cy="457.02" r="0.45" fill="#000"/>
<circle cx="298.00" cy="456.65" r="0.45" fill="#000"/>
<circle cx="298.12" cy="457.44" r="0.45" fill="#000"/>
<circle cx="300.78" cy="457.95" r="0.45" fill="#000"/>
<circle cx="302.30" cy="457.77" r="0.45" fill="#000"/>
<circle cx="307.29" cy="456.61" r="0.45" fill="#000"/>
<circle cx="297.18" cy="456.75" r="0.45" fill="#000"/>
<circle cx="301.06" cy="457.53" r="0.45" fill="#000"/>
<circle cx="304.81" cy="457.13" r="0.45" fill="#000"/>
<circle cx="307.13" cy="456.51" r="0.45" fill="#000"/>
<circle cx="305.77" cy="456.88" r="0.45" fill="#000"/>
<circle cx="306.19" cy="456.56" r="0.45" fill="#000"/>
<circle cx="307.13" cy="457.87" r="0.45" fill="#000"/>
<circle cx="307.40" cy="457.54" r="0.45" fill="#000"/>
<circle cx="298.87" cy="458.25" r="0.45" fill="#000"/>
<circle cx="301.64" cy="456.65" r="0.45" fill="#000"/>
<circle cx="303.36" cy="457.39" r="0.45" fill="#000"/>
<circle cx="301.97" cy="456.78" r="0.45" fill="#000"/>
<circle cx="298.28" cy="457.55" r="0.45" fill="#000"/>
<circle cx="301.75" cy="456.73" r="0.45" fill="#000"/>
<circle cx="301.61" cy="457.81" r="0.45" fill="#000"/>
<circle cx="304.51" cy="457.35" r="0.45" fill="#000"/>
<circle cx="301.13" cy="457.15" r="0.45" fill="#000"/>
<circle cx="299.37" cy="456.86" r="0.45" fill="#000"/>
<circle cx="301.69" cy="456.69" r="0.45" fill="#000"/>
<circle cx="304.61" cy="457.77" r="0.45" fill="#000"/>
<circle cx="311.40" cy="398.06" r="0.35" fill="#666" opacity="0.7"/>
<circle cx="306.75" cy="391.86" r="0.35" fill="#666" opacity="0.7"/>
<circle cx="302.35" cy="394.09" r="0.35" fill="#666" opacity="0.7"/>
<circle cx="302.62" cy="389.98" r="0.35" fill="#666" opacity="0.7"/>
<circle cx="307.26" cy="394.37" r="0.35" fill="#666" opacity="0.7"/>
<circle cx="308.58" cy="391.44" r="0.35" fill="#666" opacity="0.7"/>
<circle cx="306.52" cy="393.82" r="0.35" fill="#666" opacity="0.7"/>
<circle cx="300.78" cy="395.51" r="0.35" fill="#666" opacity="0.7"/>
<circle cx="307.72" cy="400.69" r="0.35" fill="#666" opacity="0.7"/>
<circle cx="307.27" cy="393.59" r="0.35" fill="#666" opacity="0.7"/>
<circle cx="311.18" cy="394.56" r="0.35" fill="#666" opacity="0.7"/>
<circle cx="309.95" cy="392.98" r="0.35" fill="#666" opacity="0.7"/>
<circle cx="307.33" cy="396.87" r="0.35" fill="#666" opacity="0.7"/>
<circle cx="309.15" cy="394.36" r="0.35" fill="#666" opacity="0.7"/>
<circle cx="302.39" cy="395.25" r="0.35" fill="#666" opacity="0.7"/>
<circle cx="306.79" cy="396.02" r="0.35" fill="#666" opacity="0.7"/>
<circle cx="307.32" cy="397.05" r="0.35" fill="#666" opacity="0.7"/>
<circle cx="306.30" cy="394.57" r="0.35" fill="#666" opacity="0.7"/>
<circle cx="309.03" cy="390.96" r="0.35" fill="#666" opacity="0.7"/>
<circle cx="304.97" cy="392.60" r="0.35" fill="#666" opacity="0.7"/>
<circle cx="314.03" cy="393.74" r="0.35" fill="#666" opacity="0.7"/>
<circle cx="308.98" cy="395.73" r="0.35" fill="#666" opacity="0.7"/>
<circle cx="305.43" cy="389.66" r="0.35" fill="#666" opacity="0.7"/>
<circle cx="310.17" cy="392.86" r="0.35" fill="#666" opacity="0.7"/>
<circle cx="309.23" cy="390.35" r="0.35" fill="#666" opacity="0.7"/>
<circle cx="304.84" cy="397.52" r="0.35" fill="#666" opacity="0.7"/>
<circle cx="311.94" cy="390.35" r="0.35" fill="#666" opacity="0.7"/>
<circle cx="301.44" cy="393.88" r="0.35" fill="#666" opacity="0.7"/>
<circle cx="309.27" cy="394.45" r="0.35" fill="#666" opacity="0.7"/>
<circle cx="307.65" cy="391.23" r="0.35" fill="#666" opacity="0.7"/>
<circle cx="308.73" cy="397.13" r="0.35" fill="#666" opacity="0.7"/>
<circle cx="304.84" cy="389.99" r="0.35" fill="#666" opacity="0.7"/>
<circle cx="303.62" cy="396.13" r="0.35" fill="#666" opacity="0.7"/>
<circle cx="299.91" cy="393.74" r="0.35" fill="#666" opacity="0.7"/>
<circle cx="302.73" cy="393.63" r="0.35" fill="#666" opacity="0.7"/>
<circle cx="305.57" cy="394.04" r="0.35" fill="#666" opacity="0.7"/>
<circle cx="312.20" cy="395.18" r="0.35" fill="#666" opacity="0.7"/>
<circle cx="311.57" cy="393.60" r="0.35" fill="#666" opacity="0.7"/>
<circle cx="304.68" cy="395.06" r="0.35" fill="#666" opacity="0.7"/>
<circle cx="295.72" cy="393.89" r="0.35" fill="#666" opacity="0.7"/>
<circle cx="307.11" cy="390.54" r="0.35" fill="#666" opacity="0.7"/>
<circle cx="308.26" cy="392.43" r="0.35" fill="#666" opacity="0.7"/>
<circle cx="297.16" cy="393.40" r="0.35" fill="#666" opacity="0.7"/>
<circle cx="302.78" cy="392.54" r="0.35" fill="#666" opacity="0.7"/>
<circle cx="305.92" cy="397.50" r="0.35" fill="#666" opacity="0.7"/>
<circle cx="306.89" cy="393.92" r="0.35" fill="#666" opacity="0.7"/>
<circle cx="307.98" cy="388.93" r="0.35" fill="#666" opacity="0.7"/>
<circle cx="311.21" cy="390.98" r="0.35" fill="#666" opacity="0.7"/>
<circle cx="308.17" cy="390.85" r="0.35" fill="#666" opacity="0.7"/>
<circle cx="302.79" cy="392.89" r="0.35" fill="#666" opacity="0.7"/>
<circle cx="313.70" cy="395.95" r="0.35" fill="#666" opacity="0.7"/>
<circle cx="304.20" cy="393.20" r="0.35" fill="#666" opacity="0.7"/>
<circle cx="302.12" cy="393.90" r="0.35" fill="#666" opacity="0.7"/>
<circle cx="304.32" cy="396.02" r="0.35" fill="#666" opacity="0.7"/>
<circle cx="301.34" cy="393.06" r="0.35" fill="#666" opacity="0.7"/>
<circle cx="303.30" cy="391.99" r="0.35" fill="#666" opacity="0.7"/>
<circle cx="309.20" cy="394.35" r="0.35" fill="#666" opacity="0.7"/>
<circle cx="308.72" cy="397.33" r="0.35" fill="#666" opacity="0.7"/>
<circle cx="310.87" cy="390.16" r="0.35" fill="#666" opacity="0.7"/>
<circle cx="308.54" cy="389.07" r="0.35" fill="#666" opacity="0.7"/>
<circle cx="306.26" cy="399.37" r="0.35" fill="#666" opacity="0.7"/>
<circle cx="305.76" cy="392.97" r="0.35" fill="#666" opacity="0.7"/>
<circle cx="307.15" cy="394.05" r="0.35" fill="#666" opacity="0.7"/>
<circle cx="306.60" cy="391.88" r="0.35" fill="#666" opacity="0.7"/>
<circle cx="310.61" cy="396.49" r="0.35" fill="#666" opacity="0.7"/>
<circle cx="305.69" cy="394.88" r="0.35" fill="#666" opacity="0.7"/>
<circle cx="309.00" cy="396.89" r="0.35" fill="#666" opacity="0.7"/>
<circle cx="307.99" cy="395.95" r="0.35" fill="#666" opacity="0.7"/>
<circle cx="305.50" cy="391.01" r="0.35" fill="#666" opacity="0.7"/>
<circle cx="304.62" cy="396.85" r="0.35" fill="#666" opacity="0.7"/>
<circle cx="310.22" cy="394.41" r="0.35" fill="#666" opacity="0.7"/>
<circle cx="304.34" cy="394.86" r="0.35" fill="#666" opacity="0.7"/>
<circle cx="312.82" cy="397.79" r="0.35" fill="#666" opacity="0.7"/>
<circle cx="303.90" cy="393.88" r="0.35" fill="#666" opacity="0.7"/>
<circle cx="300.98" cy="390.82" r="0.35" fill="#666" opacity="0.7"/>
<circle cx="307.22" cy="394.07" r="0.35" fill="#666" opacity="0.7"/>
<circle cx="310.17" cy="397.55" r="0.35" fill="#666" opacity="0.7"/>
<circle cx="309.67" cy="397.70" r="0.35" fill="#666" opacity="0.7"/>
<circle cx="304.42" cy="390.84" r="0.35" fill="#666" opacity="0.7"/>
<circle cx="308.40" cy="401.50" r="0.35" fill="#666" opacity="0.7"/>
<circle cx="307.86" cy="390.78" r="0.35" fill="#666" opacity="0.7"/>
<circle cx="307.42" cy="397.99" r="0.35" fill="#666" opacity="0.7"/>
<circle cx="302.57" cy="396.25" r="0.35" fill="#666" opacity="0.7"/>
<circle cx="304.18" cy="397.56" r="0.35" fill="#666" opacity="0.7"/>
<circle cx="309.48" cy="394.85" r="0.35" fill="#666" opacity="0.7"/>
<circle cx="314.10" cy="392.86" r="0.35" fill="#666" opacity="0.7"/>
<circle cx="303.89" cy="399.19" r="0.35" fill="#666" opacity="0.7"/>
<circle cx="303.17" cy="400.16" r="0.35" fill="#666" opacity="0.7"/>
<circle cx="306.35" cy="391.10" r="0.35" fill="#666" opacity="0.7"/>
<circle cx="306.49" cy="394.37" r="0.35" fill="#666" opacity="0.7"/>
<circle cx="307.26" cy="393.46" r="0.35" fill="#666" opacity="0.7"/>
<circle cx="310.61" cy="387.50" r="0.35" fill="#666" opacity="0.7"/>
<circle cx="304.39" cy="393.27" r="0.35" fill="#666" opacity="0.7"/>
<circle cx="313.41" cy="388.42" r="0.35" fill="#666" opacity="0.7"/>
<circle cx="305.21" cy="390.80" r="0.35" fill="#666" opacity="0.7"/>
<circle cx="303.97" cy="395.79" r="0.35" fill="#666" opacity="0.7"/>
<circle cx="308.06" cy="398.03" r="0.35" fill="#666" opacity="0.7"/>
<circle cx="304.22" cy="394.75" r="0.35" fill="#666" opacity="0.7"/>
<circle cx="310.96" cy="396.53" r="0.35" fill="#666" opacity="0.7"/>
<circle cx="305.22" cy="397.16" r="0.35" fill="#666" opacity="0.7"/>
<circle cx="302.99" cy="399.05" r="0.35" fill="#666" opacity="0.7"/>
<circle cx="307.09" cy="393.68" r="0.35" fill="#666" opacity="0.7"/>
<circle cx="307.53" cy="396.38" r="0.35" fill="#666" opacity="0.7"/>
<circle cx="313.12" cy="393.60" r="0.35" fill="#666" opacity="0.7"/>
<circle cx="305.10" cy="395.64" r="0.35" fill="#666" opacity="0.7"/>
<circle cx="303.19" cy="389.25" r="0.35" fill="#666" opacity="0.7"/>
<circle cx="309.68" cy="392.94" r="0.35" fill="#666" opacity="0.7"/>
<circle cx="310.78" cy="391.13" r="0.35" fill="#666" opacity="0.7"/>
<circle cx="295.49" cy="394.79" r="0.35" fill="#666" opacity="0.7"/>
<circle cx="307.09" cy="398.48" r="0.35" fill="#666" opacity="0.7"/>
<circle cx="308.50" cy="394.87" r="0.35" fill="#666" opacity="0.7"/>
<circle cx="308.73" cy="392.97" r="0.35" fill="#666" opacity="0.7"/>
<circle cx="306.79" cy="390.21" r="0.35" fill="#666" opacity="0.7"/>
<circle cx="308.47" cy="391.75" r="0.35" fill="#666" opacity="0.7"/>
<circle cx="304.81" cy="395.96" r="0.35" fill="#666" opacity="0.7"/>
<circle cx="309.98" cy="391.18" r="0.35" fill="#666" opacity="0.7"/>
<circle cx="314.11" cy="392.34" r="0.35" fill="#666" opacity="0.7"/>
<circle cx="309.67" cy="396.66" r="0.35" fill="#666" opacity="0.7"/>
<circle cx="307.35" cy="394.48" r="0.35" fill="#666" opacity="0.7"/>
<circle cx="313.33" cy="396.49" r="0.35" fill="#666" opacity="0.7"/>
<circle cx="308.19" cy="388.89" r="0.35" fill="#666" opacity="0.7"/>
<circle cx="303.66" cy="397.26" r="0.35" fill="#666" opacity="0.7"/>
<circle cx="307.24" cy="391.33" r="0.35" fill="#666" opacity="0.7"/>
<circle cx="304.06" cy="393.14" r="0.35" fill="#666" opacity="0.7"/>
<circle cx="309.11" cy="395.08" r="0.35" fill="#666" opacity="0.7"/>
<circle cx="310.29" cy="391.71" r="0.35" fill="#666" opacity="0.7"/>
<circle cx="310.25" cy="392.59" r="0.35" fill="#666" opacity="0.7"/>
<circle cx="305.36" cy="398.85" r="0.35" fill="#666" opacity="0.7"/>
<circle cx="306.78" cy="393.61" r="0.35" fill="#666" opacity="0.7"/>
<circle cx="305.70" cy="392.92" r="0.35" fill="#666" opacity="0.7"/>
<circle cx="312.43" cy="397.85" r="0.35" fill="#666" opacity="0.7"/>
<circle cx="309.22" cy="394.52" r="0.35" fill="#666" opacity="0.7"/>
<circle cx="310.46" cy="393.78" r="0.35" fill="#666" opacity="0.7"/>
<circle cx="308.22" cy="395.13" r="0.35" fill="#666" opacity="0.7"/>
<circle cx="306.84" cy="398.62" r="0.35" fill="#666" opacity="0.7"/>
<circle cx="313.17" cy="397.71" r="0.35" fill="#666" opacity="0.7"/>
<circle cx="299.23" cy="399.14" r="0.35" fill="#666" opacity="0.7"/>
<circle cx="309.17" cy="392.74" r="0.35" fill="#666" opacity="0.7"/>
<circle cx="306.41" cy="397.19" r="0.35" fill="#666" opacity="0.7"/>
<circle cx="310.96" cy="396.39" r="0.35" fill="#666" opacity="0.7"/>
<circle cx="307.04" cy="394.10" r="0.35" fill="#666" opacity="0.7"/>
<circle cx="309.66" cy="393.74" r="0.35" fill="#666" opacity="0.7"/>
<circle cx="303.09" cy="392.25" r="0.35" fill="#666" opacity="0.7"/>
<circle cx="305.97" cy="394.93" r="0.35" fill="#666" opacity="0.7"/>
<circle cx="315.10" cy="390.16" r="0.35" fill="#666" opacity="0.7"/>
<circle cx="308.31" cy="393.74" r="0.35" fill="#666" opacity="0.7"/>
<circle cx="307.64" cy="397.79" r="0.35" fill="#666" opacity="0.7"/>
<circle cx="311.22" cy="393.56" r="0.35" fill="#666" opacity="0.7"/>
<circle cx="304.38" cy="390.18" r="0.35" fill="#666" opacity="0.7"/>
<circle cx="306.23" cy="397.49" r="0.35" fill="#666" opacity="0.7"/>
<circle cx="305.49" cy="395.97" r="0.35" fill="#666" opacity="0.7"/>
<circle cx="309.19" cy="395.11" r="0.35" fill="#666" opacity="0.7"/>
<circle cx="310.62" cy="393.68" r="0.35" fill="#666" opacity="0.7"/>
<circle cx="303.35" cy="390.72" r="0.35" fill="#666" opacity="0.7"/>
<circle cx="310.02" cy="392.99" r="0.35" fill="#666" opacity="0.7"/>
<circle cx="305.32" cy="396.34" r="0.35" fill="#666" opacity="0.7"/>
<circle cx="303.50" cy="398.96" r="0.35" fill="#666" opacity="0.7"/>
<circle cx="309.03" cy="392.52" r="0.35" fill="#666" opacity="0.7"/>
<circle cx="304.09" cy="397.03" r="0.35" fill="#666" opacity="0.7"/>
<circle cx="302.00" cy="392.21" r="0.35" fill="#666" opacity="0.7"/>
<circle cx="306.52" cy="394.57" r="0.35" fill="#666" opacity="0.7"/>
<circle cx="306.56" cy="395.08" r="0.35" fill="#666" opacity="0.7"/>
<circle cx="305.12" cy="393.66" r="0.35" fill="#666" opacity="0.7"/>
<circle cx="311.31" cy="395.81" r="0.35" fill="#666" opacity="0.7"/>
<circle cx="304.79" cy="398.80" r="0.35" fill="#666" opacity="0.7"/>
<circle cx="298.93" cy="394.24" r="0.35" fill="#666" opacity="0.7"/>
<circle cx="309.04" cy="396.72" r="0.35" fill="#666" opacity="0.7"/>
<circle cx="306.92" cy="392.92" r="0.35" fill="#666" opacity="0.7"/>
<circle cx="308.73" cy="393.46" r="0.35" fill="#666" opacity="0.7"/>
<circle cx="308.30" cy="386.00" r="0.35" fill="#666" opacity="0.7"/>
<circle cx="307.95" cy="391.79" r="0.35" fill="#666" opacity="0.7"/>
<circle cx="310.08" cy="396.09" r="0.35" fill="#666" opacity="0.7"/>
<circle cx="309.27" cy="392.87" r="0.35" fill="#666" opacity="0.7"/>
<circle cx="308.15" cy="393.04" r="0.35" fill="#666" opacity="0.7"/>
<circle cx="307.32" cy="393.62" r="0.35" fill="#666" opacity="0.7"/>
<circle cx="303.19" cy="399.54" r="0.35" fill="#666" opacity="0.7"/>
<circle cx="309.25" cy="388.24" r="0.35" fill="#666" opacity="0.7"/>
<circle cx="309.90" cy="390.10" r="0.35" fill="#666" opacity="0.7"/>
<circle cx="305.62" cy="392.37" r="0.35" fill="#666" opacity="0.7"/>
<circle cx="304.47" cy="394.67" r="0.35" fill="#666" opacity="0.7"/>
<circle cx="305.26" cy="389.94" r="0.35" fill="#666" opacity="0.7"/>
<circle cx="306.48" cy="395.02" r="0.35" fill="#666" opacity="0.7"/>
<circle cx="313.22" cy="392.84" r="0.35" fill="#666" opacity="0.7"/>
<circle cx="301.98" cy="392.93" r="0.35" fill="#666" opacity="0.7"/>
<circle cx="308.98" cy="391.53" r="0.35" fill="#666" opacity="0.7"/>
<circle cx="303.76" cy="395.55" r="0.35" fill="#666" opacity="0.7"/>
<circle cx="306.46" cy="394.62" r="0.35" fill="#666" opacity="0.7"/>
<circle cx="304.11" cy="391.69" r="0.35" fill="#666" opacity="0.7"/>
<circle cx="305.27" cy="393.57" r="0.35" fill="#666" opacity="0.7"/>
<circle cx="305.23" cy="395.21" r="0.35" fill="#666" opacity="0.7"/>
<circle cx="308.58" cy="395.53" r="0.35" fill="#666" opacity="0.7"/>
<circle cx="308.32" cy="391.52" r="0.35" fill="#666" opacity="0.7"/>
<circle cx="302.25" cy="396.24" r="0.35" fill="#666" opacity="0.7"/>
<circle cx="306.55" cy="394.34" r="0.35" fill="#666" opacity="0.7"/>
<circle cx="302.09" cy="393.41" r="0.35" fill="#666" opacity="0.7"/>
<circle cx="304.08" cy="391.58" r="0.35" fill="#666" opacity="0.7"/>
<circle cx="304.11" cy="389.82" r="0.35" fill="#666" opacity="0.7"/>
<circle cx="306.82" cy="397.26" r="0.35" fill="#666" opacity="0.7"/>
<circle cx="303.81" cy="394.27" r="0.35" fill="#666" opacity="0.7"/>
<circle cx="302.35" cy="395.88" r="0.35" fill="#666" opacity="0.7"/>
<circle cx="313.58" cy="390.55" r="0.35" fill="#666" opacity="0.7"/>
<circle cx="305.64" cy="397.99" r="0.35" fill="#666" opacity="0.7"/>
<circle cx="307.90" cy="394.32" r="0.35" fill="#666" opacity="0.7"/>
<circle cx="298.74" cy="393.58" r="0.35" fill="#666" opacity="0.7"/>
<circle cx="309.99" cy="398.02" r="0.35" fill="#666" opacity="0.7"/>
<circle cx="308.94" cy="392.38" r="0.35" fill="#666" opacity="0.7"/>
<circle cx="303.89" cy="388.91" r="0.35" fill="#666" opacity="0.7"/>
<circle cx="302.41" cy="397.14" r="0.35" fill="#666" opacity="0.7"/>
<circle cx="306.06" cy="390.25" r="0.35" fill="#666" opacity="0.7"/>
<circle cx="311.51" cy="389.32" r="0.35" fill="#666" opacity="0.7"/>
<circle cx="311.29" cy="393.10" r="0.35" fill="#666" opacity="0.7"/>
<circle cx="307.79" cy="395.90" r="0.35" fill="#666" opacity="0.7"/>
<circle cx="307.50" cy="397.56" r="0.35" fill="#666" opacity="0.7"/>
<circle cx="306.56" cy="393.08" r="0.35" fill="#666" opacity="0.7"/>
<circle cx="303.98" cy="389.95" r="0.35" fill="#666" opacity="0.7"/>
<circle cx="303.86" cy="396.75" r="0.35" fill="#666" opacity="0.7"/>
<circle cx="309.64" cy="397.90" r="0.35" fill="#666" opacity="0.7"/>
<circle cx="316.87" cy="396.00" r="0.35" fill="#666" opacity="0.7"/>
<circle cx="308.40" cy="390.32" r="0.35" fill="#666" opacity="0.7"/>
<circle cx="305.58" cy="400.15" r="0.35" fill="#666" opacity="0.7"/>
<circle cx="308.51" cy="393.61" r="0.35" fill="#666" opacity="0.7"/>
<circle cx="307.68" cy="388.69" r="0.35" fill="#666" opacity="0.7"/>
<circle cx="303.33" cy="390.33" r="0.35" fill="#666" opacity="0.7"/>
<circle cx="298.38" cy="396.15" r="0.35" fill="#666" opacity="0.7"/>
<circle cx="310.17" cy="393.51" r="0.35" fill="#666" opacity="0.7"/>
<circle cx="307.82" cy="391.18" r="0.35" fill="#666" opacity="0.7"/>
<circle cx="308.22" cy="396.14" r="0.35" fill="#666" opacity="0.7"/>
<circle cx="312.33" cy="398.37" r="0.35" fill="#666" opacity="0.7"/>
<circle cx="308.35" cy="393.64" r="0.35" fill="#666" opacity="0.7"/>
<circle cx="303.36" cy="392.30" r="0.35" fill="#666" opacity="0.7"/>
<circle cx="308.84" cy="395.58" r="0.35" fill="#666" opacity="0.7"/>
<circle cx="306.57" cy="398.66" r="0.35" fill="#666" opacity="0.7"/>
<circle cx="308.96" cy="394.05" r="0.35" fill="#666" opacity="0.7"/>
<circle cx="305.77" cy="394.22" r="0.35" fill="#666" opacity="0.7"/>
<circle cx="302.89" cy="391.26" r="0.35" fill="#666" opacity="0.7"/>
<circle cx="307.82" cy="392.36" r="0.35" fill="#666" opacity="0.7"/>
<circle cx="305.47" cy="397.42" r="0.35" fill="#666" opacity="0.7"/>
<circle cx="305.77" cy="397.68" r="0.35" fill="#666" opacity="0.7"/>
<circle cx="306.47" cy="398.25" r="0.35" fill="#666" opacity="0.7"/>
<circle cx="308.26" cy="389.08" r="0.35" fill="#666" opacity="0.7"/>
<circle cx="311.21" cy="393.42" r="0.35" fill="#666" opacity="0.7"/>
<circle cx="299.04" cy="394.32" r="0.35" fill="#666" opacity="0.7"/>
<circle cx="307.09" cy="390.39" r="0.35" fill="#666" opacity="0.7"/>
<circle cx="304.19" cy="395.53" r="0.35" fill="#666" opacity="0.7"/>
<circle cx="311.87" cy="397.19" r="0.35" fill="#666" opacity="0.7"/>
<circle cx="311.15" cy="397.14" r="0.35" fill="#666" opacity="0.7"/>
<circle cx="297.06" cy="391.97" r="0.35" fill="#666" opacity="0.7"/>
<circle cx="307.21" cy="386.47" r="0.35" fill="#666" opacity="0.7"/>
<circle cx="309.43" cy="396.50" r="0.35" fill="#666" opacity="0.7"/>
<circle cx="303.55" cy="392.94" r="0.35" fill="#666" opacity="0.7"/>
<circle cx="302.93" cy="393.95" r="0.35" fill="#666" opacity="0.7"/>
<circle cx="306.35" cy="393.98" r="0.35" fill="#666" opacity="0.7"/>
<circle cx="302.62" cy="395.08" r="0.35" fill="#666" opacity="0.7"/>
<circle cx="305.20" cy="396.66" r="0.35" fill="#666" opacity="0.7"/>
<circle cx="307.69" cy="389.84" r="0.35" fill="#666" opacity="0.7"/>
<circle cx="301.02" cy="394.20" r="0.35" fill="#666" opacity="0.7"/>
<circle cx="304.66" cy="395.32" r="0.35" fill="#666" opacity="0.7"/>
<circle cx="309.56" cy="394.05" r="0.35" fill="#666" opacity="0.7"/>
<circle cx="300.10" cy="390.65" r="0.35" fill="#666" opacity="0.7"/>
<circle cx="308.68" cy="391.06" r="0.35" fill="#666" opacity="0.7"/>
<circle cx="317.55" cy="389.71" r="0.3" fill="#888" opacity="0.7"/>
<circle cx="314.60" cy="387.17" r="0.3" fill="#888" opacity="0.7"/>
<circle cx="311.50" cy="380.52" r="0.3" fill="#888" opacity="0.7"/>
<circle cx="310.96" cy="391.84" r="0.3" fill="#888" opacity="0.7"/>
<circle cx="307.52" cy="387.30" r="0.3" fill="#888" opacity="0.7"/>
<circle cx="311.73" cy="390.21" r="0.3" fill="#888" opacity="0.7"/>
<circle cx="307.96" cy="392.16" r="0.3" fill="#888" opacity="0.7"/>
<circle cx="303.77" cy="393.57" r="0.3" fill="#888" opacity="0.7"/>
<circle cx="304.98" cy="387.37" r="0.3" fill="#888" opacity="0.7"/>
<circle cx="318.66" cy="386.82" r="0.3" fill="#888" opacity="0.7"/>
<circle cx="303.73" cy="390.24" r="0.3" fill="#888" opacity="0.7"/>
<circle cx="307.40" cy="386.43" r="0.3" fill="#888" opacity="0.7"/>
<circle cx="308.49" cy="387.62" r="0.3" fill="#888" opacity="0.7"/>
<circle cx="307.13" cy="386.71" r="0.3" fill="#888" opacity="0.7"/>
<circle cx="320.06" cy="387.85" r="0.3" fill="#888" opacity="0.7"/>
<circle cx="316.86" cy="385.50" r="0.3" fill="#888" opacity="0.7"/>
<circle cx="314.72" cy="386.00" r="0.3" fill="#888" opacity="0.7"/>
<circle cx="309.71" cy="392.03" r="0.3" fill="#888" opacity="0.7"/>
<circle cx="309.35" cy="383.71" r="0.3" fill="#888" opacity="0.7"/>
<circle cx="309.24" cy="389.50" r="0.3" fill="#888" opacity="0.7"/>
<circle cx="314.87" cy="386.81" r="0.3" fill="#888" opacity="0.7"/>
<circle cx="310.51" cy="390.20" r="0.3" fill="#888" opacity="0.7"/>
<circle cx="303.75" cy="389.66" r="0.3" fill="#888" opacity="0.7"/>
<circle cx="307.86" cy="391.40" r="0.3" fill="#888" opacity="0.7"/>
<circle cx="311.45" cy="389.47" r="0.3" fill="#888" opacity="0.7"/>
<circle cx="299.93" cy="389.65" r="0.3" fill="#888" opacity="0.7"/>
<circle cx="310.15" cy="386.98" r="0.3" fill="#888" opacity="0.7"/>
<circle cx="309.45" cy="385.96" r="0.3" fill="#888" opacity="0.7"/>
<circle cx="312.87" cy="392.11" r="0.3" fill="#888" opacity="0.7"/>
<circle cx="314.99" cy="388.34" r="0.3" fill="#888" opacity="0.7"/>
<circle cx="320.40" cy="392.73" r="0.3" fill="#888" opacity="0.7"/>
<circle cx="307.26" cy="389.55" r="0.3" fill="#888" opacity="0.7"/>
<circle cx="303.85" cy="389.62" r="0.3" fill="#888" opacity="0.7"/>
<circle cx="315.56" cy="394.06" r="0.3" fill="#888" opacity="0.7"/>
<circle cx="309.91" cy="384.28" r="0.3" fill="#888" opacity="0.7"/>
<circle cx="311.15" cy="394.36" r="0.3" fill="#888" opacity="0.7"/>
<circle cx="312.72" cy="394.08" r="0.3" fill="#888" opacity="0.7"/>
<circle cx="316.14" cy="394.99" r="0.3" fill="#888" opacity="0.7"/>
<circle cx="314.99" cy="387.87" r="0.3" fill="#888" opacity="0.7"/>
<circle cx="314.23" cy="398.12" r="0.3" fill="#888" opacity="0.7"/>
<circle cx="309.41" cy="384.06" r="0.3" fill="#888" opacity="0.7"/>
<circle cx="322.52" cy="391.31" r="0.3" fill="#888" opacity="0.7"/>
<circle cx="308.87" cy="388.06" r="0.3" fill="#888" opacity="0.7"/>
<circle cx="304.30" cy="392.25" r="0.3" fill="#888" opacity="0.7"/>
<circle cx="312.72" cy="387.97" r="0.3" fill="#888" opacity="0.7"/>
<circle cx="309.88" cy="388.63" r="0.3" fill="#888" opacity="0.7"/>
<circle cx="317.34" cy="389.42" r="0.3" fill="#888" opacity="0.7"/>
<circle cx="318.90" cy="387.32" r="0.3" fill="#888" opacity="0.7"/>
<circle cx="308.94" cy="388.46" r="0.3" fill="#888" opacity="0.7"/>
<circle cx="309.31" cy="389.71" r="0.3" fill="#888" opacity="0.7"/>
<circle cx="317.13" cy="393.87" r="0.3" fill="#888" opacity="0.7"/>
<circle cx="306.64" cy="394.09" r="0.3" fill="#888" opacity="0.7"/>
<circle cx="312.48" cy="395.08" r="0.3" fill="#888" opacity="0.7"/>
<circle cx="311.16" cy="387.32" r="0.3" fill="#888" opacity="0.7"/>
<circle cx="315.95" cy="391.99" r="0.3" fill="#888" opacity="0.7"/>
<circle cx="309.71" cy="390.07" r="0.3" fill="#888" opacity="0.7"/>
<circle cx="312.65" cy="391.00" r="0.3" fill="#888" opacity="0.7"/>
<circle cx="303.43" cy="386.14" r="0.3" fill="#888" opacity="0.7"/>
<circle cx="312.28" cy="390.83" r="0.3" fill="#888" opacity="0.7"/>
<circle cx="309.38" cy="384.37" r="0.3" fill="#888" opacity="0.7"/>
<circle cx="318.72" cy="389.01" r="0.3" fill="#888" opacity="0.7"/>
<circle cx="306.77" cy="395.10" r="0.3" fill="#888" opacity="0.7"/>
<circle cx="317.66" cy="393.32" r="0.3" fill="#888" opacity="0.7"/>
<circle cx="316.17" cy="391.82" r="0.3" fill="#888" opacity="0.7"/>
<circle cx="307.13" cy="390.10" r="0.3" fill="#888" opacity="0.7"/>
<circle cx="313.78" cy="392.03" r="0.3" fill="#888" opacity="0.7"/>
<circle cx="314.38" cy="386.77" r="0.3" fill="#888" opacity="0.7"/>
<circle cx="308.98" cy="388.94" r="0.3" fill="#888" opacity="0.7"/>
<circle cx="311.02" cy="387.20" r="0.3" fill="#888" opacity="0.7"/>
<circle cx="302.88" cy="386.11" r="0.3" fill="#888" opacity="0.7"/>
<circle cx="313.54" cy="389.97" r="0.3" fill="#888" opacity="0.7"/>
<circle cx="314.90" cy="383.96" r="0.3" fill="#888" opacity="0.7"/>
<circle cx="309.92" cy="392.85" r="0.3" fill="#888" opacity="0.7"/>
<circle cx="302.19" cy="386.54" r="0.3" fill="#888" opacity="0.7"/>
<circle cx="303.67" cy="393.88" r="0.3" fill="#888" opacity="0.7"/>
<circle cx="312.15" cy="388.16" r="0.3" fill="#888" opacity="0.7"/>
<circle cx="312.75" cy="389.71" r="0.3" fill="#888" opacity="0.7"/>
<circle cx="316.52" cy="393.74" r="0.3" fill="#888" opacity="0.7"/>
<circle cx="316.57" cy="391.10" r="0.3" fill="#888" opacity="0.7"/>
<circle cx="315.82" cy="392.60" r="0.3" fill="#888" opacity="0.7"/>
<circle cx="317.83" cy="384.12" r="0.3" fill="#888" opacity="0.7"/>
<circle cx="313.73" cy="390.25" r="0.3" fill="#888" opacity="0.7"/>
<circle cx="312.80" cy="389.20" r="0.3" fill="#888" opacity="0.7"/>
<circle cx="311.63" cy="391.58" r="0.3" fill="#888" opacity="0.7"/>
<circle cx="313.00" cy="390.41" r="0.3" fill="#888" opacity="0.7"/>
<circle cx="306.64" cy="385.98" r="0.3" fill="#888" opacity="0.7"/>
<circle cx="308.26" cy="384.30" r="0.3" fill="#888" opacity="0.7"/>
<circle cx="309.42" cy="387.28" r="0.3" fill="#888" opacity="0.7"/>
<circle cx="303.02" cy="383.80" r="0.3" fill="#888" opacity="0.7"/>
<circle cx="309.65" cy="388.14" r="0.3" fill="#888" opacity="0.7"/>
<path d="M301.8,391 C304,389.3 307,388.2 310.5,387.3 C313.5,386.5 316,385.8 317.8,386.1 C319.2,386.8 318.8,388.8 317.3,390.6 C315.5,392.8 313.5,394.4 310.5,395.4 C307.5,396.2 304.5,396.3 302.6,395.4 C301,394.5 300.8,392.3 301.8,391 Z" fill="#000"/>
<circle cx="302.05" cy="393.90" r="0.4" fill="#111"/>
<circle cx="307.12" cy="389.45" r="0.4" fill="#111"/>
<circle cx="311.59" cy="387.32" r="0.4" fill="#111"/>
<circle cx="302.06" cy="390.71" r="0.4" fill="#111"/>
<circle cx="307.18" cy="389.36" r="0.4" fill="#111"/>
<circle cx="316.40" cy="389.07" r="0.4" fill="#111"/>
<circle cx="308.42" cy="388.60" r="0.4" fill="#111"/>
<circle cx="314.01" cy="386.38" r="0.4" fill="#111"/>
<circle cx="313.62" cy="389.04" r="0.4" fill="#111"/>
<circle cx="318.09" cy="386.59" r="0.4" fill="#111"/>
<circle cx="303.64" cy="394.47" r="0.4" fill="#111"/>
<circle cx="315.91" cy="386.69" r="0.4" fill="#111"/>
<circle cx="301.92" cy="394.52" r="0.4" fill="#111"/>
<circle cx="309.21" cy="391.88" r="0.4" fill="#111"/>
<circle cx="307.48" cy="390.92" r="0.4" fill="#111"/>
<circle cx="310.30" cy="389.70" r="0.4" fill="#111"/>
<circle cx="308.76" cy="391.41" r="0.4" fill="#111"/>
<circle cx="313.38" cy="390.45" r="0.4" fill="#111"/>
<circle cx="316.44" cy="390.69" r="0.4" fill="#111"/>
<circle cx="302.58" cy="391.81" r="0.4" fill="#111"/>
<circle cx="315.01" cy="389.15" r="0.4" fill="#111"/>
<circle cx="307.72" cy="390.58" r="0.4" fill="#111"/>
<circle cx="313.82" cy="388.59" r="0.4" fill="#111"/>
<circle cx="314.91" cy="389.67" r="0.4" fill="#111"/>
<circle cx="315.12" cy="389.69" r="0.4" fill="#111"/>
<circle cx="308.43" cy="388.89" r="0.4" fill="#111"/>
<circle cx="305.29" cy="389.26" r="0.4" fill="#111"/>
<circle cx="306.93" cy="389.90" r="0.4" fill="#111"/>
<circle cx="314.71" cy="391.21" r="0.4" fill="#111"/>
<circle cx="302.83" cy="390.71" r="0.4" fill="#111"/>
<circle cx="312.42" cy="383.93" r="0.4" fill="#111"/>
<circle cx="313.59" cy="390.82" r="0.4" fill="#111"/>
<circle cx="315.61" cy="387.88" r="0.4" fill="#111"/>
<circle cx="316.69" cy="386.10" r="0.4" fill="#111"/>
<circle cx="315.55" cy="388.31" r="0.4" fill="#111"/>
<circle cx="307.48" cy="391.45" r="0.4" fill="#111"/>
<circle cx="310.12" cy="391.23" r="0.4" fill="#111"/>
<circle cx="311.06" cy="390.59" r="0.4" fill="#111"/>
<circle cx="301.76" cy="392.73" r="0.4" fill="#111"/>
<circle cx="306.49" cy="388.06" r="0.4" fill="#111"/>
<circle cx="306.22" cy="389.64" r="0.4" fill="#111"/>
<circle cx="314.10" cy="390.27" r="0.4" fill="#111"/>
<circle cx="309.77" cy="388.81" r="0.4" fill="#111"/>
<circle cx="317.00" cy="388.10" r="0.4" fill="#111"/>
<circle cx="306.70" cy="390.21" r="0.4" fill="#111"/>
<circle cx="318.14" cy="388.66" r="0.4" fill="#111"/>
<circle cx="309.39" cy="393.67" r="0.4" fill="#111"/>
<circle cx="317.97" cy="385.80" r="0.4" fill="#111"/>
<circle cx="315.27" cy="392.49" r="0.4" fill="#111"/>
<circle cx="315.02" cy="386.78" r="0.4" fill="#111"/>
<circle cx="303.36" cy="388.82" r="0.4" fill="#111"/>
<circle cx="318.37" cy="387.61" r="0.4" fill="#111"/>
<circle cx="314.72" cy="387.86" r="0.4" fill="#111"/>
<circle cx="307.33" cy="387.40" r="0.4" fill="#111"/>
<circle cx="317.49" cy="386.98" r="0.4" fill="#111"/>
<circle cx="309.13" cy="388.50" r="0.4" fill="#111"/>
<circle cx="318.15" cy="386.90" r="0.4" fill="#111"/>
<circle cx="303.60" cy="391.00" r="0.4" fill="#111"/>
<circle cx="313.03" cy="385.33" r="0.4" fill="#111"/>
<circle cx="304.23" cy="389.50" r="0.4" fill="#111"/>
<circle cx="308.19" cy="390.13" r="0.4" fill="#111"/>
<circle cx="302.74" cy="390.81" r="0.4" fill="#111"/>
<circle cx="310.55" cy="389.61" r="0.4" fill="#111"/>
<circle cx="305.58" cy="391.69" r="0.4" fill="#111"/>
<circle cx="312.06" cy="388.61" r="0.4" fill="#111"/>
<circle cx="302.27" cy="391.39" r="0.4" fill="#111"/>
<circle cx="315.89" cy="387.80" r="0.4" fill="#111"/>
<circle cx="316.08" cy="387.56" r="0.4" fill="#111"/>
<circle cx="301.38" cy="389.23" r="0.4" fill="#111"/>
<circle cx="313.43" cy="391.78" r="0.4" fill="#111"/>
<circle cx="305.97" cy="392.70" r="0.4" fill="#111"/>
<circle cx="316.15" cy="386.85" r="0.4" fill="#111"/>
<circle cx="316.62" cy="385.82" r="0.4" fill="#111"/>
<circle cx="310.53" cy="390.99" r="0.4" fill="#111"/>
<circle cx="317.53" cy="389.07" r="0.4" fill="#111"/>
<circle cx="315.25" cy="385.75" r="0.4" fill="#111"/>
<circle cx="318.47" cy="387.90" r="0.4" fill="#111"/>
<circle cx="314.07" cy="390.20" r="0.4" fill="#111"/>
<circle cx="314.48" cy="386.65" r="0.4" fill="#111"/>
<circle cx="308.07" cy="390.05" r="0.4" fill="#111"/>
<circle cx="316.45" cy="389.12" r="0.4" fill="#111"/>
<circle cx="301.70" cy="389.23" r="0.4" fill="#111"/>
<circle cx="315.89" cy="387.33" r="0.4" fill="#111"/>
<circle cx="306.24" cy="390.97" r="0.4" fill="#111"/>
<circle cx="313.10" cy="390.10" r="0.4" fill="#111"/>
<circle cx="306.30" cy="390.67" r="0.4" fill="#111"/>
<circle cx="316.53" cy="388.28" r="0.4" fill="#111"/>
<circle cx="310.50" cy="384.66" r="0.4" fill="#111"/>
<circle cx="311.01" cy="387.40" r="0.4" fill="#111"/>
<circle cx="310.49" cy="388.98" r="0.4" fill="#111"/>
<circle cx="315.32" cy="390.51" r="0.4" fill="#111"/>
<circle cx="312.02" cy="388.81" r="0.4" fill="#111"/>
<circle cx="306.39" cy="389.89" r="0.4" fill="#111"/>
<circle cx="311.26" cy="391.68" r="0.4" fill="#111"/>
<circle cx="310.62" cy="390.80" r="0.4" fill="#111"/>
<circle cx="312.14" cy="389.18" r="0.4" fill="#111"/>
<circle cx="318.40" cy="387.76" r="0.4" fill="#111"/>
<circle cx="307.45" cy="387.94" r="0.4" fill="#111"/>
<circle cx="308.04" cy="393.97" r="0.4" fill="#111"/>
<circle cx="312.72" cy="387.65" r="0.4" fill="#111"/>
<circle cx="316.73" cy="391.62" r="0.4" fill="#111"/>
<circle cx="307.71" cy="388.66" r="0.4" fill="#111"/>
<circle cx="309.13" cy="390.53" r="0.4" fill="#111"/>
<circle cx="314.11" cy="387.16" r="0.4" fill="#111"/>
<circle cx="309.42" cy="388.86" r="0.4" fill="#111"/>
<circle cx="303.04" cy="393.15" r="0.4" fill="#111"/>
<circle cx="307.20" cy="390.12" r="0.4" fill="#111"/>
<circle cx="304.01" cy="391.32" r="0.4" fill="#111"/>
<circle cx="305.55" cy="392.39" r="0.4" fill="#111"/>
<circle cx="306.03" cy="388.72" r="0.4" fill="#111"/>
<circle cx="318.46" cy="387.85" r="0.4" fill="#111"/>
<circle cx="313.94" cy="391.23" r="0.4" fill="#111"/>
<circle cx="313.10" cy="386.13" r="0.4" fill="#111"/>
<circle cx="309.50" cy="391.27" r="0.4" fill="#111"/>
<circle cx="313.52" cy="383.98" r="0.4" fill="#111"/>
<circle cx="313.53" cy="389.32" r="0.4" fill="#111"/>
<circle cx="302.60" cy="394.85" r="0.4" fill="#111"/>
<circle cx="305.01" cy="394.52" r="0.4" fill="#111"/>
<circle cx="301.46" cy="391.66" r="0.4" fill="#111"/>
<circle cx="317.66" cy="390.31" r="0.4" fill="#111"/>
<circle cx="307.98" cy="389.67" r="0.4" fill="#111"/>
<circle cx="302.56" cy="387.90" r="0.4" fill="#111"/>
<circle cx="311.71" cy="391.84" r="0.4" fill="#111"/>
<circle cx="310.35" cy="389.68" r="0.4" fill="#111"/>
<circle cx="307.07" cy="395.20" r="0.4" fill="#111"/>
<circle cx="302.81" cy="389.73" r="0.4" fill="#111"/>
<circle cx="310.67" cy="387.19" r="0.4" fill="#111"/>
<circle cx="303.08" cy="392.72" r="0.4" fill="#111"/>
<circle cx="305.64" cy="390.39" r="0.4" fill="#111"/>
<circle cx="314.88" cy="390.88" r="0.4" fill="#111"/>
<circle cx="316.01" cy="389.15" r="0.4" fill="#111"/>
<circle cx="302.53" cy="388.68" r="0.4" fill="#111"/>
<circle cx="307.82" cy="389.52" r="0.4" fill="#111"/>
<circle cx="309.89" cy="388.46" r="0.4" fill="#111"/>
<circle cx="316.84" cy="391.09" r="0.4" fill="#111"/>
<circle cx="302.85" cy="393.88" r="0.4" fill="#111"/>
<circle cx="307.76" cy="391.37" r="0.4" fill="#111"/>
<circle cx="310.11" cy="389.08" r="0.4" fill="#111"/>
<circle cx="308.29" cy="394.70" r="0.4" fill="#111"/>
<circle cx="306.05" cy="386.86" r="0.4" fill="#111"/>
<circle cx="309.62" cy="391.79" r="0.4" fill="#111"/>
<circle cx="304.76" cy="389.51" r="0.4" fill="#111"/>
<circle cx="314.29" cy="387.73" r="0.4" fill="#111"/>
<circle cx="301.15" cy="393.64" r="0.4" fill="#111"/>
<circle cx="318.31" cy="385.61" r="0.4" fill="#111"/>
<circle cx="317.95" cy="384.45" r="0.4" fill="#111"/>
<circle cx="305.68" cy="388.79" r="0.4" fill="#111"/>
<circle cx="314.30" cy="388.36" r="0.4" fill="#111"/>
<circle cx="315.74" cy="388.76" r="0.4" fill="#111"/>
<circle cx="313.36" cy="390.59" r="0.4" fill="#111"/>
<circle cx="308.20" cy="391.07" r="0.4" fill="#111"/>
<circle cx="310.81" cy="390.55" r="0.4" fill="#111"/>
<circle cx="311.47" cy="391.77" r="0.4" fill="#111"/>
<circle cx="311.66" cy="388.87" r="0.4" fill="#111"/>
<circle cx="303.60" cy="389.91" r="0.4" fill="#111"/>
<circle cx="313.17" cy="389.92" r="0.4" fill="#111"/>
<circle cx="305.67" cy="391.18" r="0.4" fill="#111"/>
<circle cx="309.23" cy="391.76" r="0.4" fill="#111"/>
<circle cx="306.92" cy="389.55" r="0.4" fill="#111"/>
<circle cx="316.40" cy="387.67" r="0.4" fill="#111"/>
<circle cx="313.15" cy="388.49" r="0.4" fill="#111"/>
<circle cx="306.71" cy="390.40" r="0.4" fill="#111"/>
<circle cx="313.08" cy="387.02" r="0.4" fill="#111"/>
<circle cx="316.60" cy="385.62" r="0.4" fill="#111"/>
<circle cx="306.52" cy="388.89" r="0.4" fill="#111"/>
<circle cx="303.24" cy="391.37" r="0.4" fill="#111"/>
<circle cx="303.45" cy="391.23" r="0.4" fill="#111"/>
<circle cx="310.43" cy="390.54" r="0.4" fill="#111"/>
<circle cx="313.30" cy="386.43" r="0.4" fill="#111"/>
<circle cx="304.96" cy="389.81" r="0.4" fill="#111"/>
<circle cx="304.49" cy="387.44" r="0.4" fill="#111"/>
<circle cx="308.39" cy="388.55" r="0.4" fill="#111"/>
<circle cx="301.07" cy="393.39" r="0.4" fill="#111"/>
<circle cx="311.77" cy="389.63" r="0.4" fill="#111"/>
<circle cx="302.48" cy="391.93" r="0.4" fill="#111"/>
<circle cx="318.24" cy="390.84" r="0.4" fill="#111"/>
<circle cx="306.97" cy="388.64" r="0.4" fill="#111"/>
<circle cx="301.40" cy="390.35" r="0.4" fill="#111"/>
<circle cx="306.77" cy="391.45" r="0.4" fill="#111"/>
<circle cx="314.47" cy="389.94" r="0.4" fill="#111"/>
<circle cx="312.92" cy="389.91" r="0.4" fill="#111"/>
<circle cx="313.69" cy="389.20" r="0.4" fill="#111"/>
<circle cx="302.81" cy="390.79" r="0.4" fill="#111"/>
<circle cx="301.87" cy="392.98" r="0.4" fill="#111"/>
<circle cx="301.55" cy="392.91" r="0.4" fill="#111"/>
<circle cx="317.34" cy="389.68" r="0.4" fill="#111"/>
<circle cx="312.17" cy="389.49" r="0.4" fill="#111"/>
<circle cx="305.79" cy="393.61" r="0.4" fill="#111"/>
<circle cx="310.02" cy="387.80" r="0.4" fill="#111"/>
<circle cx="307.17" cy="394.61" r="0.4" fill="#111"/>
<circle cx="315.06" cy="386.40" r="0.4" fill="#111"/>
<circle cx="311.61" cy="386.63" r="0.4" fill="#111"/>
<circle cx="316.23" cy="386.08" r="0.4" fill="#111"/>
<circle cx="311.86" cy="391.02" r="0.4" fill="#111"/>
<circle cx="310.24" cy="387.60" r="0.4" fill="#111"/>
<circle cx="307.89" cy="389.36" r="0.4" fill="#111"/>
<circle cx="316.72" cy="386.73" r="0.4" fill="#111"/>
<circle cx="301.94" cy="389.82" r="0.4" fill="#111"/>
<circle cx="309.90" cy="390.44" r="0.4" fill="#111"/>
<circle cx="308.61" cy="391.31" r="0.4" fill="#111"/>
<circle cx="310.55" cy="389.69" r="0.4" fill="#111"/>
<circle cx="310.28" cy="391.27" r="0.4" fill="#111"/>
<circle cx="309.28" cy="389.25" r="0.4" fill="#111"/>
<circle cx="307.54" cy="390.87" r="0.4" fill="#111"/>
<circle cx="312.45" cy="386.99" r="0.4" fill="#111"/>
<circle cx="315.77" cy="387.90" r="0.4" fill="#111"/>
<circle cx="313.66" cy="388.83" r="0.4" fill="#111"/>
<circle cx="306.39" cy="390.18" r="0.4" fill="#111"/>
<circle cx="312.94" cy="391.52" r="0.4" fill="#111"/>
<circle cx="303.48" cy="394.74" r="0.4" fill="#111"/>
<circle cx="316.38" cy="389.18" r="0.4" fill="#111"/>
<circle cx="315.84" cy="392.10" r="0.4" fill="#111"/>
<circle cx="306.87" cy="391.37" r="0.4" fill="#111"/>
<circle cx="315.86" cy="387.81" r="0.4" fill="#111"/>
<circle cx="307.68" cy="389.45" r="0.4" fill="#111"/>
<circle cx="311.52" cy="389.84" r="0.4" fill="#111"/>
<circle cx="305.72" cy="389.06" r="0.4" fill="#111"/>
<circle cx="311.56" cy="386.52" r="0.4" fill="#111"/>
<circle cx="301.14" cy="395.85" r="0.4" fill="#111"/>
<circle cx="312.25" cy="388.07" r="0.4" fill="#111"/>
<circle cx="307.64" cy="386.70" r="0.4" fill="#111"/>
<circle cx="309.04" cy="388.54" r="0.4" fill="#111"/>
<circle cx="314.64" cy="387.18" r="0.4" fill="#111"/>
<circle cx="317.34" cy="387.05" r="0.4" fill="#111"/>
<circle cx="308.15" cy="389.73" r="0.4" fill="#111"/>
<circle cx="309.24" cy="389.60" r="0.4" fill="#111"/>
<circle cx="301.65" cy="391.64" r="0.4" fill="#111"/>
<circle cx="301.74" cy="391.58" r="0.4" fill="#111"/>
<circle cx="302.94" cy="392.82" r="0.4" fill="#111"/>
<circle cx="307.24" cy="392.17" r="0.4" fill="#111"/>
<circle cx="305.74" cy="394.90" r="0.4" fill="#111"/>
<circle cx="312.46" cy="388.85" r="0.4" fill="#111"/>
<circle cx="315.04" cy="389.32" r="0.4" fill="#111"/>
<circle cx="315.15" cy="387.40" r="0.4" fill="#111"/>
<circle cx="305.20" cy="389.22" r="0.4" fill="#111"/>
<circle cx="303.78" cy="390.51" r="0.4" fill="#111"/>
<circle cx="314.59" cy="390.24" r="0.4" fill="#111"/>
<circle cx="316.40" cy="387.59" r="0.4" fill="#111"/>
<circle cx="307.06" cy="387.02" r="0.4" fill="#111"/>
<circle cx="314.51" cy="383.57" r="0.4" fill="#111"/>
<circle cx="301.97" cy="389.89" r="0.4" fill="#111"/>
<circle cx="306.14" cy="391.40" r="0.4" fill="#111"/>
<circle cx="315.28" cy="385.91" r="0.4" fill="#111"/>
<circle cx="312.11" cy="390.42" r="0.4" fill="#111"/>
<circle cx="310.08" cy="392.47" r="0.4" fill="#111"/>
<circle cx="316.60" cy="389.35" r="0.4" fill="#111"/>
<circle cx="304.01" cy="389.77" r="0.4" fill="#111"/>
<circle cx="306.97" cy="388.77" r="0.4" fill="#111"/>
<circle cx="313.43" cy="389.46" r="0.4" fill="#111"/>
<circle cx="316.70" cy="388.28" r="0.4" fill="#111"/>
<circle cx="307.71" cy="390.92" r="0.4" fill="#111"/>
<circle cx="313.54" cy="388.02" r="0.4" fill="#111"/>
<circle cx="302.74" cy="388.84" r="0.4" fill="#111"/>
<circle cx="312.49" cy="393.59" r="0.4" fill="#111"/>
<circle cx="314.73" cy="386.70" r="0.4" fill="#111"/>
<circle cx="309.62" cy="390.42" r="0.4" fill="#111"/>
<circle cx="314.53" cy="388.61" r="0.4" fill="#111"/>
<circle cx="308.71" cy="388.87" r="0.4" fill="#111"/>
<circle cx="310.49" cy="385.80" r="0.4" fill="#111"/>
<circle cx="315.70" cy="386.68" r="0.4" fill="#111"/>
<rect x="396.40" y="374.00" width="82.20" height="82.20" fill="none" stroke="#7c7c7c" stroke-width="1"/>
<line x1="394.2" y1="456.2" x2="396.4" y2="456.2" stroke="#000" stroke-width="1.0" />
<text x="382.70" y="458.60" font-size="6.3" textLength="6.9" lengthAdjust="spacingAndGlyphs">10</text>
<text x="389.80" y="455.60" font-size="4.3">0</text>
<line x1="395.4" y1="451.636385265734" x2="396.4" y2="451.636385265734" stroke="#333" stroke-width="0.6" />
<line x1="395.4" y1="448.9668417784499" x2="396.4" y2="448.9668417784499" stroke="#333" stroke-width="0.6" />
<line x1="395.4" y1="447.07277053146805" x2="396.4" y2="447.07277053146805" stroke="#333" stroke-width="0.6" />
<line x1="395.4" y1="445.60361473426593" x2="396.4" y2="445.60361473426593" stroke="#333" stroke-width="0.6" />
<line x1="395.4" y1="444.40322704418395" x2="396.4" y2="444.40322704418395" stroke="#333" stroke-width="0.6" />
<line x1="395.4" y1="443.38831371338387" x2="396.4" y2="443.38831371338387" stroke="#333" stroke-width="0.6" />
<line x1="395.4" y1="442.50915579720214" x2="396.4" y2="442.50915579720214" stroke="#333" stroke-width="0.6" />
<line x1="395.4" y1="441.73368355689985" x2="396.4" y2="441.73368355689985" stroke="#333" stroke-width="0.6" />
<line x1="394.2" y1="441.03999999999996" x2="396.4" y2="441.03999999999996" stroke="#000" stroke-width="1.0" />
<text x="382.70" y="443.44" font-size="6.3" textLength="6.9" lengthAdjust="spacingAndGlyphs">10</text>
<text x="389.80" y="440.44" font-size="4.3">1</text>
<line x1="395.4" y1="436.476385265734" x2="396.4" y2="436.476385265734" stroke="#333" stroke-width="0.6" />
<line x1="395.4" y1="433.8068417784499" x2="396.4" y2="433.8068417784499" stroke="#333" stroke-width="0.6" />
<line x1="395.4" y1="431.912770531468" x2="396.4" y2="431.912770531468" stroke="#333" stroke-width="0.6" />
<line x1="395.4" y1="430.4436147342659" x2="396.4" y2="430.4436147342659" stroke="#333" stroke-width="0.6" />
<line x1="395.4" y1="429.2432270441839" x2="396.4" y2="429.2432270441839" stroke="#333" stroke-width="0.6" />
<line x1="395.4" y1="428.22831371338384" x2="396.4" y2="428.22831371338384" stroke="#333" stroke-width="0.6" />
<line x1="395.4" y1="427.3491557972021" x2="396.4" y2="427.3491557972021" stroke="#333" stroke-width="0.6" />
<line x1="395.4" y1="426.5736835568998" x2="396.4" y2="426.5736835568998" stroke="#333" stroke-width="0.6" />
<line x1="394.2" y1="425.88" x2="396.4" y2="425.88" stroke="#000" stroke-width="1.0" />
<text x="382.70" y="428.28" font-size="6.3" textLength="6.9" lengthAdjust="spacingAndGlyphs">10</text>
<text x="389.80" y="425.28" font-size="4.3">2</text>
<line x1="395.4" y1="421.316385265734" x2="396.4" y2="421.316385265734" stroke="#333" stroke-width="0.6" />
<line x1="395.4" y1="418.6468417784499" x2="396.4" y2="418.6468417784499" stroke="#333" stroke-width="0.6" />
<line x1="395.4" y1="416.75277053146806" x2="396.4" y2="416.75277053146806" stroke="#333" stroke-width="0.6" />
<line x1="395.4" y1="415.28361473426594" x2="396.4" y2="415.28361473426594" stroke="#333" stroke-width="0.6" />
<line x1="395.4" y1="414.08322704418396" x2="396.4" y2="414.08322704418396" stroke="#333" stroke-width="0.6" />
<line x1="395.4" y1="413.0683137133839" x2="396.4" y2="413.0683137133839" stroke="#333" stroke-width="0.6" />
<line x1="395.4" y1="412.18915579720215" x2="396.4" y2="412.18915579720215" stroke="#333" stroke-width="0.6" />
<line x1="395.4" y1="411.41368355689985" x2="396.4" y2="411.41368355689985" stroke="#333" stroke-width="0.6" />
<line x1="394.2" y1="410.71999999999997" x2="396.4" y2="410.71999999999997" stroke="#000" stroke-width="1.0" />
<text x="382.70" y="413.12" font-size="6.3" textLength="6.9" lengthAdjust="spacingAndGlyphs">10</text>
<text x="389.80" y="410.12" font-size="4.3">3</text>
<line x1="395.4" y1="406.156385265734" x2="396.4" y2="406.156385265734" stroke="#333" stroke-width="0.6" />
<line x1="395.4" y1="403.4868417784499" x2="396.4" y2="403.4868417784499" stroke="#333" stroke-width="0.6" />
<line x1="395.4" y1="401.59277053146803" x2="396.4" y2="401.59277053146803" stroke="#333" stroke-width="0.6" />
<line x1="395.4" y1="400.1236147342659" x2="396.4" y2="400.1236147342659" stroke="#333" stroke-width="0.6" />
<line x1="395.4" y1="398.92322704418393" x2="396.4" y2="398.92322704418393" stroke="#333" stroke-width="0.6" />
<line x1="395.4" y1="397.90831371338385" x2="396.4" y2="397.90831371338385" stroke="#333" stroke-width="0.6" />
<line x1="395.4" y1="397.0291557972021" x2="396.4" y2="397.0291557972021" stroke="#333" stroke-width="0.6" />
<line x1="395.4" y1="396.25368355689983" x2="396.4" y2="396.25368355689983" stroke="#333" stroke-width="0.6" />
<line x1="394.2" y1="395.56" x2="396.4" y2="395.56" stroke="#000" stroke-width="1.0" />
<text x="382.70" y="397.96" font-size="6.3" textLength="6.9" lengthAdjust="spacingAndGlyphs">10</text>
<text x="389.80" y="394.96" font-size="4.3">4</text>
<line x1="395.4" y1="390.99638526573403" x2="396.4" y2="390.99638526573403" stroke="#333" stroke-width="0.6" />
<line x1="395.4" y1="388.32684177844993" x2="396.4" y2="388.32684177844993" stroke="#333" stroke-width="0.6" />
<line x1="395.4" y1="386.43277053146807" x2="396.4" y2="386.43277053146807" stroke="#333" stroke-width="0.6" />
<line x1="395.4" y1="384.96361473426595" x2="396.4" y2="384.96361473426595" stroke="#333" stroke-width="0.6" />
<line x1="395.4" y1="383.76322704418396" x2="396.4" y2="383.76322704418396" stroke="#333" stroke-width="0.6" />
<line x1="395.4" y1="382.7483137133839" x2="396.4" y2="382.7483137133839" stroke="#333" stroke-width="0.6" />
<line x1="395.4" y1="381.86915579720215" x2="396.4" y2="381.86915579720215" stroke="#333" stroke-width="0.6" />
<line x1="395.4" y1="381.09368355689986" x2="396.4" y2="381.09368355689986" stroke="#333" stroke-width="0.6" />
<line x1="394.2" y1="380.4" x2="396.4" y2="380.4" stroke="#000" stroke-width="1.0" />
<text x="382.70" y="382.80" font-size="6.3" textLength="6.9" lengthAdjust="spacingAndGlyphs">10</text>
<text x="389.80" y="379.80" font-size="4.3">5</text>
<rect x="438.50" y="380.20" width="37.90" height="29.80" fill="none" stroke="#5a5a5a" stroke-width="0.9"/>
<text x="447.95" y="417.80" font-size="7.0" font-weight="normal" font-style="normal" fill="#000" textLength="19.40" lengthAdjust="spacingAndGlyphs" style="stroke-width:0">40.1 %</text>
<text x="410.40" y="467.9" font-size="5.9" textLength="3.0" lengthAdjust="spacingAndGlyphs">0</text>
<text x="430.45" y="467.9" font-size="5.9" textLength="6.9" lengthAdjust="spacingAndGlyphs">10</text>
<text x="437.70" y="465.6" font-size="4.0">3</text>
<line x1="434.09999999999997" y1="456.2" x2="434.09999999999997" y2="458.8" stroke="#000" stroke-width="0.9" />
<text x="449.35" y="467.9" font-size="5.9" textLength="6.9" lengthAdjust="spacingAndGlyphs">10</text>
<text x="456.60" y="465.6" font-size="4.0">4</text>
<line x1="453.0" y1="456.2" x2="453.0" y2="458.8" stroke="#000" stroke-width="0.9" />
<text x="466.45" y="467.9" font-size="5.9" textLength="6.9" lengthAdjust="spacingAndGlyphs">10</text>
<text x="473.70" y="465.6" font-size="4.0">5</text>
<line x1="470.09999999999997" y1="456.2" x2="470.09999999999997" y2="458.8" stroke="#000" stroke-width="0.9" />
<line x1="412.0" y1="456.2" x2="412.0" y2="458.59999999999997" stroke="#000" stroke-width="0.9" />
<line x1="399.4" y1="456.2" x2="399.4" y2="457.8" stroke="#333" stroke-width="0.7" />
<line x1="402.4" y1="456.2" x2="402.4" y2="457.8" stroke="#333" stroke-width="0.7" />
<line x1="405.4" y1="456.2" x2="405.4" y2="457.8" stroke="#333" stroke-width="0.7" />
<line x1="417.4" y1="456.2" x2="417.4" y2="457.8" stroke="#333" stroke-width="0.7" />
<line x1="420.4" y1="456.2" x2="420.4" y2="457.8" stroke="#333" stroke-width="0.7" />
<line x1="423.4" y1="456.2" x2="423.4" y2="457.8" stroke="#333" stroke-width="0.7" />
<line x1="425.9" y1="456.2" x2="425.9" y2="457.8" stroke="#333" stroke-width="0.7" />
<line x1="427.9" y1="456.2" x2="427.9" y2="457.8" stroke="#333" stroke-width="0.7" />
<line x1="429.9" y1="456.2" x2="429.9" y2="457.8" stroke="#333" stroke-width="0.7" />
<line x1="439.4" y1="456.2" x2="439.4" y2="457.8" stroke="#333" stroke-width="0.7" />
<line x1="442.9" y1="456.2" x2="442.9" y2="457.8" stroke="#333" stroke-width="0.7" />
<line x1="445.4" y1="456.2" x2="445.4" y2="457.8" stroke="#333" stroke-width="0.7" />
<line x1="447.4" y1="456.2" x2="447.4" y2="457.8" stroke="#333" stroke-width="0.7" />
<line x1="448.9" y1="456.2" x2="448.9" y2="457.8" stroke="#333" stroke-width="0.7" />
<line x1="458.4" y1="456.2" x2="458.4" y2="457.8" stroke="#333" stroke-width="0.7" />
<line x1="461.4" y1="456.2" x2="461.4" y2="457.8" stroke="#333" stroke-width="0.7" />
<line x1="463.9" y1="456.2" x2="463.9" y2="457.8" stroke="#333" stroke-width="0.7" />
<line x1="465.7" y1="456.2" x2="465.7" y2="457.8" stroke="#333" stroke-width="0.7" />
<line x1="467.4" y1="456.2" x2="467.4" y2="457.8" stroke="#333" stroke-width="0.7" />
<circle cx="411.26" cy="457.17" r="0.45" fill="#000"/>
<circle cx="407.85" cy="458.06" r="0.45" fill="#000"/>
<circle cx="406.47" cy="457.41" r="0.45" fill="#000"/>
<circle cx="415.83" cy="456.65" r="0.45" fill="#000"/>
<circle cx="412.22" cy="457.61" r="0.45" fill="#000"/>
<circle cx="406.83" cy="457.18" r="0.45" fill="#000"/>
<circle cx="413.79" cy="457.31" r="0.45" fill="#000"/>
<circle cx="414.01" cy="456.78" r="0.45" fill="#000"/>
<circle cx="408.90" cy="456.70" r="0.45" fill="#000"/>
<circle cx="411.72" cy="458.16" r="0.45" fill="#000"/>
<circle cx="412.60" cy="457.89" r="0.45" fill="#000"/>
<circle cx="410.43" cy="457.84" r="0.45" fill="#000"/>
<circle cx="407.47" cy="457.02" r="0.45" fill="#000"/>
<circle cx="413.48" cy="457.81" r="0.45" fill="#000"/>
<circle cx="410.83" cy="456.66" r="0.45" fill="#000"/>
<circle cx="409.20" cy="456.88" r="0.45" fill="#000"/>
<circle cx="409.35" cy="457.96" r="0.45" fill="#000"/>
<circle cx="408.49" cy="458.10" r="0.45" fill="#000"/>
<circle cx="415.63" cy="456.60" r="0.45" fill="#000"/>
<circle cx="410.38" cy="457.39" r="0.45" fill="#000"/>
<circle cx="406.65" cy="457.26" r="0.45" fill="#000"/>
<circle cx="415.92" cy="456.70" r="0.45" fill="#000"/>
<circle cx="412.67" cy="456.72" r="0.45" fill="#000"/>
<circle cx="412.48" cy="458.11" r="0.45" fill="#000"/>
<circle cx="408.53" cy="456.51" r="0.45" fill="#000"/>
<circle cx="407.28" cy="457.47" r="0.45" fill="#000"/>
<circle cx="406.58" cy="456.65" r="0.45" fill="#000"/>
<circle cx="411.62" cy="458.16" r="0.45" fill="#000"/>
<circle cx="410.81" cy="457.22" r="0.45" fill="#000"/>
<circle cx="413.11" cy="456.67" r="0.45" fill="#000"/>
<circle cx="412.49" cy="456.81" r="0.45" fill="#000"/>
<circle cx="412.79" cy="458.22" r="0.45" fill="#000"/>
<circle cx="406.97" cy="457.50" r="0.45" fill="#000"/>
<circle cx="412.77" cy="456.77" r="0.45" fill="#000"/>
<circle cx="409.22" cy="458.29" r="0.45" fill="#000"/>
<circle cx="416.88" cy="456.72" r="0.45" fill="#000"/>
<circle cx="413.81" cy="458.21" r="0.45" fill="#000"/>
<circle cx="408.89" cy="457.60" r="0.45" fill="#000"/>
<circle cx="406.85" cy="457.16" r="0.45" fill="#000"/>
<circle cx="413.48" cy="457.56" r="0.45" fill="#000"/>
<circle cx="414.53" cy="456.66" r="0.45" fill="#000"/>
<circle cx="410.05" cy="458.06" r="0.45" fill="#000"/>
<circle cx="412.53" cy="457.31" r="0.45" fill="#000"/>
<circle cx="410.62" cy="458.27" r="0.45" fill="#000"/>
<circle cx="412.43" cy="456.53" r="0.45" fill="#000"/>
<circle cx="414.79" cy="457.09" r="0.45" fill="#000"/>
<circle cx="410.95" cy="456.88" r="0.45" fill="#000"/>
<circle cx="411.06" cy="457.08" r="0.45" fill="#000"/>
<circle cx="407.33" cy="457.63" r="0.45" fill="#000"/>
<circle cx="407.48" cy="457.91" r="0.45" fill="#000"/>
<circle cx="406.67" cy="457.91" r="0.45" fill="#000"/>
<circle cx="414.88" cy="457.40" r="0.45" fill="#000"/>
<circle cx="413.85" cy="456.95" r="0.45" fill="#000"/>
<circle cx="414.14" cy="457.27" r="0.45" fill="#000"/>
<circle cx="408.83" cy="458.24" r="0.45" fill="#000"/>
<circle cx="410.61" cy="457.17" r="0.45" fill="#000"/>
<circle cx="415.43" cy="457.16" r="0.45" fill="#000"/>
<circle cx="413.41" cy="456.81" r="0.45" fill="#000"/>
<circle cx="415.25" cy="456.97" r="0.45" fill="#000"/>
<circle cx="406.93" cy="458.26" r="0.45" fill="#000"/>
<circle cx="408.21" cy="458.20" r="0.45" fill="#000"/>
<circle cx="416.75" cy="457.59" r="0.45" fill="#000"/>
<circle cx="406.52" cy="456.61" r="0.45" fill="#000"/>
<circle cx="408.59" cy="457.20" r="0.45" fill="#000"/>
<circle cx="412.82" cy="458.24" r="0.45" fill="#000"/>
<circle cx="410.12" cy="456.75" r="0.45" fill="#000"/>
<circle cx="412.30" cy="456.75" r="0.45" fill="#000"/>
<circle cx="407.31" cy="457.50" r="0.45" fill="#000"/>
<circle cx="413.71" cy="456.62" r="0.45" fill="#000"/>
<circle cx="411.14" cy="457.77" r="0.45" fill="#000"/>
<circle cx="417.38" cy="393.73" r="0.35" fill="#555"/>
<circle cx="405.19" cy="397.87" r="0.35" fill="#555"/>
<circle cx="415.70" cy="393.71" r="0.35" fill="#555"/>
<circle cx="408.31" cy="394.58" r="0.35" fill="#555"/>
<circle cx="412.48" cy="393.62" r="0.35" fill="#555"/>
<circle cx="406.22" cy="396.40" r="0.35" fill="#555"/>
<circle cx="410.03" cy="394.25" r="0.35" fill="#555"/>
<circle cx="417.93" cy="394.52" r="0.35" fill="#555"/>
<circle cx="417.29" cy="391.71" r="0.35" fill="#555"/>
<circle cx="407.76" cy="396.58" r="0.35" fill="#555"/>
<circle cx="404.50" cy="399.95" r="0.35" fill="#555"/>
<circle cx="408.46" cy="397.04" r="0.35" fill="#555"/>
<circle cx="409.32" cy="397.83" r="0.35" fill="#555"/>
<circle cx="411.85" cy="394.27" r="0.35" fill="#555"/>
<circle cx="407.31" cy="398.52" r="0.35" fill="#555"/>
<circle cx="405.91" cy="397.95" r="0.35" fill="#555"/>
<circle cx="411.14" cy="397.94" r="0.35" fill="#555"/>
<circle cx="406.55" cy="397.48" r="0.35" fill="#555"/>
<circle cx="416.51" cy="394.29" r="0.35" fill="#555"/>
<circle cx="416.69" cy="391.18" r="0.35" fill="#555"/>
<circle cx="414.68" cy="394.65" r="0.35" fill="#555"/>
<circle cx="417.73" cy="391.75" r="0.35" fill="#555"/>
<circle cx="417.47" cy="394.54" r="0.35" fill="#555"/>
<circle cx="414.01" cy="396.70" r="0.35" fill="#555"/>
<circle cx="410.46" cy="394.25" r="0.35" fill="#555"/>
<circle cx="416.95" cy="393.08" r="0.35" fill="#555"/>
<circle cx="411.01" cy="396.43" r="0.35" fill="#555"/>
<circle cx="416.36" cy="392.42" r="0.35" fill="#555"/>
<circle cx="416.60" cy="391.67" r="0.35" fill="#555"/>
<circle cx="416.88" cy="393.91" r="0.35" fill="#555"/>
<circle cx="414.13" cy="393.46" r="0.35" fill="#555"/>
<circle cx="408.55" cy="396.80" r="0.35" fill="#555"/>
<circle cx="413.79" cy="396.30" r="0.35" fill="#555"/>
<circle cx="407.75" cy="399.86" r="0.35" fill="#555"/>
<circle cx="416.76" cy="392.11" r="0.35" fill="#555"/>
<circle cx="413.89" cy="398.12" r="0.35" fill="#555"/>
<circle cx="411.06" cy="393.56" r="0.35" fill="#555"/>
<circle cx="412.23" cy="395.02" r="0.35" fill="#555"/>
<circle cx="408.37" cy="397.26" r="0.35" fill="#555"/>
<circle cx="417.08" cy="395.10" r="0.35" fill="#555"/>
<circle cx="412.73" cy="397.55" r="0.35" fill="#555"/>
<circle cx="414.16" cy="395.78" r="0.35" fill="#555"/>
<circle cx="416.71" cy="394.40" r="0.35" fill="#555"/>
<circle cx="404.82" cy="400.49" r="0.35" fill="#555"/>
<circle cx="413.14" cy="394.75" r="0.35" fill="#555"/>
<circle cx="416.26" cy="394.75" r="0.35" fill="#555"/>
<circle cx="405.49" cy="395.00" r="0.35" fill="#555"/>
<circle cx="407.43" cy="396.74" r="0.35" fill="#555"/>
<circle cx="406.95" cy="398.49" r="0.35" fill="#555"/>
<circle cx="414.04" cy="393.48" r="0.35" fill="#555"/>
<circle cx="404.45" cy="397.73" r="0.35" fill="#555"/>
<circle cx="413.42" cy="395.50" r="0.35" fill="#555"/>
<circle cx="405.16" cy="398.37" r="0.35" fill="#555"/>
<circle cx="414.21" cy="394.39" r="0.35" fill="#555"/>
<circle cx="404.30" cy="398.29" r="0.35" fill="#555"/>
<circle cx="406.20" cy="400.38" r="0.35" fill="#555"/>
<circle cx="406.57" cy="396.96" r="0.35" fill="#555"/>
<circle cx="404.60" cy="396.88" r="0.35" fill="#555"/>
<circle cx="417.86" cy="393.29" r="0.35" fill="#555"/>
<circle cx="408.82" cy="396.94" r="0.35" fill="#555"/>
<circle cx="412.61" cy="395.08" r="0.35" fill="#555"/>
<circle cx="408.72" cy="395.91" r="0.35" fill="#555"/>
<circle cx="404.43" cy="395.91" r="0.35" fill="#555"/>
<circle cx="414.36" cy="395.24" r="0.35" fill="#555"/>
<circle cx="416.63" cy="393.65" r="0.35" fill="#555"/>
<circle cx="413.87" cy="391.63" r="0.35" fill="#555"/>
<circle cx="410.62" cy="396.24" r="0.35" fill="#555"/>
<circle cx="408.43" cy="398.94" r="0.35" fill="#555"/>
<circle cx="405.43" cy="395.04" r="0.35" fill="#555"/>
<circle cx="405.79" cy="398.78" r="0.35" fill="#555"/>
<circle cx="412.19" cy="393.87" r="0.35" fill="#555"/>
<circle cx="406.01" cy="398.83" r="0.35" fill="#555"/>
<circle cx="417.44" cy="393.10" r="0.35" fill="#555"/>
<circle cx="409.88" cy="398.24" r="0.35" fill="#555"/>
<circle cx="404.25" cy="397.63" r="0.35" fill="#555"/>
<circle cx="404.79" cy="397.89" r="0.35" fill="#555"/>
<circle cx="404.47" cy="398.67" r="0.35" fill="#555"/>
<circle cx="412.89" cy="395.58" r="0.35" fill="#555"/>
<circle cx="411.12" cy="399.18" r="0.35" fill="#555"/>
<circle cx="417.92" cy="392.67" r="0.35" fill="#555"/>
<circle cx="407.25" cy="396.15" r="0.35" fill="#555"/>
<circle cx="412.28" cy="395.64" r="0.35" fill="#555"/>
<circle cx="412.74" cy="395.80" r="0.35" fill="#555"/>
<circle cx="407.59" cy="394.85" r="0.35" fill="#555"/>
<circle cx="409.92" cy="396.03" r="0.35" fill="#555"/>
<circle cx="404.50" cy="398.28" r="0.35" fill="#555"/>
<circle cx="409.72" cy="398.09" r="0.35" fill="#555"/>
<circle cx="407.37" cy="398.72" r="0.35" fill="#555"/>
<circle cx="405.40" cy="398.40" r="0.35" fill="#555"/>
<circle cx="407.04" cy="398.29" r="0.35" fill="#555"/>
<circle cx="411.29" cy="394.38" r="0.35" fill="#555"/>
<circle cx="412.98" cy="395.26" r="0.35" fill="#555"/>
<circle cx="406.97" cy="400.54" r="0.35" fill="#555"/>
<circle cx="414.21" cy="392.36" r="0.35" fill="#555"/>
<circle cx="410.07" cy="394.14" r="0.35" fill="#555"/>
<circle cx="404.72" cy="398.08" r="0.35" fill="#555"/>
<circle cx="409.85" cy="395.26" r="0.35" fill="#555"/>
<circle cx="405.31" cy="397.84" r="0.35" fill="#555"/>
<circle cx="415.24" cy="392.87" r="0.35" fill="#555"/>
<circle cx="416.90" cy="394.78" r="0.35" fill="#555"/>
<circle cx="412.55" cy="394.08" r="0.35" fill="#555"/>
<circle cx="409.21" cy="400.62" r="0.35" fill="#555"/>
<circle cx="404.27" cy="398.12" r="0.35" fill="#555"/>
<circle cx="408.28" cy="396.18" r="0.35" fill="#555"/>
<circle cx="415.77" cy="393.75" r="0.35" fill="#555"/>
<circle cx="410.32" cy="395.78" r="0.35" fill="#555"/>
<circle cx="409.75" cy="395.22" r="0.35" fill="#555"/>
<circle cx="412.24" cy="395.35" r="0.35" fill="#555"/>
<circle cx="405.03" cy="397.78" r="0.35" fill="#555"/>
<circle cx="417.09" cy="394.77" r="0.35" fill="#555"/>
<circle cx="405.07" cy="398.11" r="0.35" fill="#555"/>
<circle cx="412.00" cy="394.38" r="0.35" fill="#555"/>
<circle cx="409.48" cy="393.90" r="0.35" fill="#555"/>
<circle cx="409.53" cy="396.90" r="0.35" fill="#555"/>
<circle cx="405.70" cy="398.27" r="0.35" fill="#555"/>
<circle cx="415.90" cy="394.25" r="0.35" fill="#555"/>
<circle cx="412.97" cy="397.21" r="0.35" fill="#555"/>
<circle cx="404.35" cy="397.79" r="0.35" fill="#555"/>
<circle cx="413.23" cy="395.28" r="0.35" fill="#555"/>
<circle cx="410.97" cy="393.39" r="0.35" fill="#555"/>
<circle cx="430.02" cy="384.28" r="0.3" fill="#777" opacity="0.8"/>
<circle cx="425.06" cy="391.62" r="0.3" fill="#777" opacity="0.8"/>
<circle cx="439.47" cy="381.35" r="0.3" fill="#777" opacity="0.8"/>
<circle cx="455.04" cy="389.42" r="0.3" fill="#777" opacity="0.8"/>
<circle cx="462.20" cy="389.25" r="0.3" fill="#777" opacity="0.8"/>
<circle cx="422.97" cy="387.92" r="0.3" fill="#777" opacity="0.8"/>
<circle cx="437.37" cy="389.16" r="0.3" fill="#777" opacity="0.8"/>
<circle cx="448.03" cy="392.09" r="0.3" fill="#777" opacity="0.8"/>
<circle cx="461.44" cy="382.85" r="0.3" fill="#777" opacity="0.8"/>
<circle cx="415.37" cy="387.64" r="0.3" fill="#777" opacity="0.8"/>
<circle cx="429.94" cy="391.60" r="0.3" fill="#777" opacity="0.8"/>
<circle cx="433.34" cy="389.57" r="0.3" fill="#777" opacity="0.8"/>
<circle cx="413.74" cy="396.60" r="0.3" fill="#777" opacity="0.8"/>
<circle cx="465.36" cy="391.18" r="0.3" fill="#777" opacity="0.8"/>
<circle cx="446.29" cy="390.68" r="0.3" fill="#777" opacity="0.8"/>
<circle cx="422.98" cy="392.16" r="0.3" fill="#777" opacity="0.8"/>
<circle cx="447.56" cy="387.30" r="0.3" fill="#777" opacity="0.8"/>
<circle cx="439.34" cy="386.12" r="0.3" fill="#777" opacity="0.8"/>
<circle cx="416.28" cy="383.05" r="0.3" fill="#777" opacity="0.8"/>
<circle cx="452.32" cy="386.47" r="0.3" fill="#777" opacity="0.8"/>
<circle cx="415.38" cy="385.63" r="0.3" fill="#777" opacity="0.8"/>
<circle cx="424.41" cy="389.61" r="0.3" fill="#777" opacity="0.8"/>
<circle cx="460.11" cy="383.15" r="0.3" fill="#777" opacity="0.8"/>
<circle cx="432.63" cy="390.85" r="0.3" fill="#777" opacity="0.8"/>
<circle cx="465.73" cy="388.51" r="0.3" fill="#777" opacity="0.8"/>
<circle cx="418.11" cy="386.42" r="0.3" fill="#777" opacity="0.8"/>
<circle cx="434.71" cy="393.75" r="0.3" fill="#777" opacity="0.8"/>
<circle cx="459.38" cy="388.83" r="0.3" fill="#777" opacity="0.8"/>
<circle cx="420.10" cy="386.73" r="0.3" fill="#777" opacity="0.8"/>
<circle cx="432.68" cy="389.40" r="0.3" fill="#777" opacity="0.8"/>
<circle cx="449.79" cy="393.22" r="0.3" fill="#777" opacity="0.8"/>
<circle cx="436.46" cy="387.47" r="0.3" fill="#777" opacity="0.8"/>
<circle cx="463.87" cy="385.20" r="0.3" fill="#777" opacity="0.8"/>
<circle cx="446.88" cy="393.42" r="0.3" fill="#777" opacity="0.8"/>
<circle cx="452.65" cy="389.81" r="0.3" fill="#777" opacity="0.8"/>
<circle cx="444.79" cy="387.08" r="0.3" fill="#777" opacity="0.8"/>
<circle cx="432.55" cy="385.26" r="0.3" fill="#777" opacity="0.8"/>
<circle cx="445.55" cy="381.24" r="0.3" fill="#777" opacity="0.8"/>
<circle cx="410.65" cy="386.04" r="0.3" fill="#777" opacity="0.8"/>
<circle cx="459.46" cy="389.15" r="0.3" fill="#777" opacity="0.8"/>
<circle cx="446.40" cy="389.06" r="0.3" fill="#777" opacity="0.8"/>
<circle cx="462.82" cy="387.29" r="0.3" fill="#777" opacity="0.8"/>
<circle cx="450.85" cy="383.10" r="0.3" fill="#777" opacity="0.8"/>
<circle cx="459.54" cy="383.72" r="0.3" fill="#777" opacity="0.8"/>
<circle cx="415.63" cy="392.85" r="0.3" fill="#777" opacity="0.8"/>
<circle cx="421.17" cy="385.33" r="0.3" fill="#777" opacity="0.8"/>
<circle cx="451.68" cy="386.71" r="0.3" fill="#777" opacity="0.8"/>
<circle cx="455.03" cy="387.22" r="0.3" fill="#777" opacity="0.8"/>
<circle cx="417.72" cy="387.94" r="0.3" fill="#777" opacity="0.8"/>
<circle cx="424.21" cy="387.93" r="0.3" fill="#777" opacity="0.8"/>
<circle cx="441.70" cy="386.98" r="0.3" fill="#777" opacity="0.8"/>
<circle cx="464.14" cy="388.20" r="0.3" fill="#777" opacity="0.8"/>
<circle cx="414.08" cy="394.44" r="0.3" fill="#777" opacity="0.8"/>
<circle cx="456.88" cy="388.26" r="0.3" fill="#777" opacity="0.8"/>
<circle cx="446.87" cy="388.90" r="0.3" fill="#777" opacity="0.8"/>
<circle cx="447.79" cy="385.05" r="0.3" fill="#777" opacity="0.8"/>
<circle cx="428.75" cy="389.47" r="0.3" fill="#777" opacity="0.8"/>
<circle cx="411.54" cy="394.67" r="0.3" fill="#777" opacity="0.8"/>
<circle cx="414.47" cy="390.78" r="0.3" fill="#777" opacity="0.8"/>
<circle cx="452.01" cy="386.50" r="0.3" fill="#777" opacity="0.8"/>
<circle cx="453.93" cy="384.41" r="0.3" fill="#777" opacity="0.8"/>
<circle cx="454.10" cy="391.06" r="0.3" fill="#777" opacity="0.8"/>
<circle cx="458.39" cy="389.36" r="0.3" fill="#777" opacity="0.8"/>
<circle cx="431.37" cy="391.15" r="0.3" fill="#777" opacity="0.8"/>
<circle cx="436.02" cy="389.31" r="0.3" fill="#777" opacity="0.8"/>
<circle cx="441.22" cy="389.57" r="0.3" fill="#777" opacity="0.8"/>
<circle cx="464.15" cy="385.09" r="0.3" fill="#777" opacity="0.8"/>
<circle cx="431.41" cy="392.67" r="0.3" fill="#777" opacity="0.8"/>
<circle cx="434.80" cy="391.40" r="0.3" fill="#777" opacity="0.8"/>
<circle cx="446.35" cy="386.82" r="0.3" fill="#777" opacity="0.8"/>
<circle cx="437.09" cy="382.48" r="0.3" fill="#777" opacity="0.8"/>
<circle cx="414.30" cy="389.04" r="0.3" fill="#777" opacity="0.8"/>
<circle cx="456.16" cy="386.69" r="0.3" fill="#777" opacity="0.8"/>
<circle cx="454.57" cy="392.67" r="0.3" fill="#777" opacity="0.8"/>
<circle cx="446.59" cy="384.01" r="0.3" fill="#777" opacity="0.8"/>
<circle cx="415.21" cy="394.51" r="0.3" fill="#777" opacity="0.8"/>
<circle cx="445.47" cy="385.82" r="0.3" fill="#777" opacity="0.8"/>
<circle cx="457.65" cy="390.63" r="0.3" fill="#777" opacity="0.8"/>
<circle cx="454.68" cy="386.42" r="0.3" fill="#777" opacity="0.8"/>
<circle cx="423.04" cy="388.23" r="0.3" fill="#777" opacity="0.8"/>
<circle cx="435.62" cy="389.75" r="0.3" fill="#777" opacity="0.8"/>
<circle cx="463.63" cy="390.35" r="0.3" fill="#777" opacity="0.8"/>
<circle cx="416.27" cy="391.93" r="0.3" fill="#777" opacity="0.8"/>
<circle cx="430.42" cy="386.94" r="0.3" fill="#777" opacity="0.8"/>
<circle cx="427.83" cy="393.06" r="0.3" fill="#777" opacity="0.8"/>
<circle cx="419.32" cy="392.09" r="0.3" fill="#777" opacity="0.8"/>
<circle cx="434.75" cy="387.74" r="0.3" fill="#777" opacity="0.8"/>
<circle cx="461.62" cy="394.46" r="0.3" fill="#777" opacity="0.8"/>
<circle cx="434.75" cy="384.80" r="0.3" fill="#777" opacity="0.8"/>
<circle cx="428.27" cy="384.23" r="0.3" fill="#777" opacity="0.8"/>
<circle cx="415.58" cy="390.82" r="0.3" fill="#777" opacity="0.8"/>
<circle cx="447.99" cy="390.79" r="0.3" fill="#777" opacity="0.8"/>
<circle cx="430.93" cy="386.22" r="0.3" fill="#777" opacity="0.8"/>
<circle cx="423.06" cy="394.69" r="0.3" fill="#777" opacity="0.8"/>
<circle cx="455.28" cy="386.11" r="0.3" fill="#777" opacity="0.8"/>
<circle cx="456.12" cy="385.83" r="0.3" fill="#777" opacity="0.8"/>
<circle cx="429.17" cy="395.13" r="0.3" fill="#777" opacity="0.8"/>
<circle cx="438.15" cy="384.27" r="0.3" fill="#777" opacity="0.8"/>
<circle cx="448.64" cy="393.68" r="0.3" fill="#777" opacity="0.8"/>
<circle cx="452.06" cy="386.81" r="0.3" fill="#777" opacity="0.8"/>
<circle cx="458.68" cy="393.00" r="0.3" fill="#777" opacity="0.8"/>
<circle cx="464.83" cy="385.60" r="0.3" fill="#777" opacity="0.8"/>
<circle cx="426.33" cy="386.59" r="0.3" fill="#777" opacity="0.8"/>
<circle cx="430.58" cy="386.45" r="0.3" fill="#777" opacity="0.8"/>
<circle cx="432.13" cy="393.34" r="0.3" fill="#777" opacity="0.8"/>
<circle cx="429.82" cy="396.98" r="0.3" fill="#777" opacity="0.8"/>
<circle cx="436.69" cy="391.01" r="0.3" fill="#777" opacity="0.8"/>
<circle cx="463.80" cy="386.50" r="0.3" fill="#777" opacity="0.8"/>
<circle cx="417.12" cy="393.50" r="0.3" fill="#777" opacity="0.8"/>
<circle cx="430.11" cy="390.31" r="0.3" fill="#777" opacity="0.8"/>
<circle cx="461.39" cy="391.94" r="0.3" fill="#777" opacity="0.8"/>
<circle cx="434.44" cy="385.90" r="0.3" fill="#777" opacity="0.8"/>
<circle cx="440.39" cy="389.68" r="0.3" fill="#777" opacity="0.8"/>
<circle cx="431.84" cy="395.73" r="0.3" fill="#777" opacity="0.8"/>
<circle cx="425.94" cy="388.86" r="0.3" fill="#777" opacity="0.8"/>
<circle cx="427.72" cy="388.54" r="0.3" fill="#777" opacity="0.8"/>
<circle cx="461.87" cy="389.35" r="0.3" fill="#777" opacity="0.8"/>
<circle cx="421.44" cy="391.31" r="0.3" fill="#777" opacity="0.8"/>
<circle cx="424.05" cy="388.03" r="0.3" fill="#777" opacity="0.8"/>
<circle cx="429.19" cy="391.01" r="0.3" fill="#777" opacity="0.8"/>
<circle cx="423.80" cy="390.45" r="0.3" fill="#777" opacity="0.8"/>
<circle cx="428.84" cy="394.26" r="0.3" fill="#777" opacity="0.8"/>
<circle cx="430.88" cy="389.87" r="0.3" fill="#777" opacity="0.8"/>
<circle cx="418.07" cy="389.38" r="0.3" fill="#777" opacity="0.8"/>
<circle cx="457.65" cy="383.11" r="0.3" fill="#777" opacity="0.8"/>
<circle cx="417.44" cy="392.93" r="0.3" fill="#777" opacity="0.8"/>
<circle cx="439.29" cy="390.88" r="0.3" fill="#777" opacity="0.8"/>
<circle cx="453.02" cy="386.02" r="0.3" fill="#777" opacity="0.8"/>
<circle cx="444.18" cy="380.26" r="0.3" fill="#777" opacity="0.8"/>
<circle cx="431.97" cy="396.46" r="0.3" fill="#777" opacity="0.8"/>
<circle cx="436.53" cy="387.37" r="0.3" fill="#777" opacity="0.8"/>
<circle cx="456.91" cy="386.28" r="0.3" fill="#777" opacity="0.8"/>
<circle cx="443.46" cy="385.61" r="0.3" fill="#777" opacity="0.8"/>
<circle cx="465.16" cy="385.60" r="0.3" fill="#777" opacity="0.8"/>
<circle cx="465.38" cy="389.58" r="0.3" fill="#777" opacity="0.8"/>
<circle cx="433.06" cy="386.65" r="0.3" fill="#777" opacity="0.8"/>
<circle cx="439.39" cy="390.70" r="0.3" fill="#777" opacity="0.8"/>
<circle cx="465.73" cy="388.09" r="0.3" fill="#777" opacity="0.8"/>
<circle cx="417.18" cy="395.03" r="0.3" fill="#777" opacity="0.8"/>
<circle cx="461.25" cy="386.07" r="0.3" fill="#777" opacity="0.8"/>
<circle cx="414.33" cy="388.77" r="0.3" fill="#777" opacity="0.8"/>
<circle cx="410.50" cy="396.34" r="0.3" fill="#777" opacity="0.8"/>
<circle cx="415.93" cy="389.48" r="0.3" fill="#777" opacity="0.8"/>
<circle cx="418.22" cy="392.10" r="0.3" fill="#777" opacity="0.8"/>
<circle cx="447.51" cy="395.90" r="0.3" fill="#777" opacity="0.8"/>
<circle cx="446.36" cy="393.48" r="0.3" fill="#777" opacity="0.8"/>
<circle cx="412.79" cy="392.75" r="0.3" fill="#777" opacity="0.8"/>
<circle cx="436.96" cy="387.97" r="0.3" fill="#777" opacity="0.8"/>
<circle cx="441.29" cy="391.56" r="0.3" fill="#777" opacity="0.8"/>
<circle cx="413.38" cy="393.69" r="0.3" fill="#777" opacity="0.8"/>
<circle cx="421.18" cy="395.51" r="0.3" fill="#777" opacity="0.8"/>
<circle cx="439.28" cy="386.33" r="0.3" fill="#777" opacity="0.8"/>
<circle cx="448.18" cy="389.96" r="0.3" fill="#777" opacity="0.8"/>
<circle cx="437.56" cy="388.11" r="0.3" fill="#777" opacity="0.8"/>
<circle cx="417.38" cy="391.70" r="0.3" fill="#777" opacity="0.8"/>
<circle cx="421.86" cy="391.31" r="0.3" fill="#777" opacity="0.8"/>
<circle cx="412.98" cy="391.50" r="0.3" fill="#777" opacity="0.8"/>
<circle cx="444.87" cy="391.96" r="0.3" fill="#777" opacity="0.8"/>
<circle cx="458.08" cy="392.31" r="0.3" fill="#777" opacity="0.8"/>
<circle cx="438.40" cy="386.41" r="0.3" fill="#777" opacity="0.8"/>
<circle cx="461.35" cy="388.70" r="0.3" fill="#777" opacity="0.8"/>
<circle cx="455.80" cy="389.54" r="0.3" fill="#777" opacity="0.8"/>
<circle cx="445.12" cy="389.66" r="0.3" fill="#777" opacity="0.8"/>
<circle cx="426.65" cy="393.02" r="0.3" fill="#777" opacity="0.8"/>
<circle cx="434.13" cy="386.65" r="0.3" fill="#777" opacity="0.8"/>
<circle cx="454.67" cy="389.73" r="0.3" fill="#777" opacity="0.8"/>
<circle cx="455.44" cy="384.93" r="0.3" fill="#777" opacity="0.8"/>
<circle cx="425.93" cy="388.66" r="0.3" fill="#777" opacity="0.8"/>
<circle cx="452.86" cy="390.73" r="0.3" fill="#777" opacity="0.8"/>
<circle cx="449.37" cy="388.45" r="0.3" fill="#777" opacity="0.8"/>
<circle cx="449.15" cy="388.22" r="0.3" fill="#777" opacity="0.8"/>
<circle cx="440.90" cy="388.48" r="0.3" fill="#777" opacity="0.8"/>
<circle cx="421.31" cy="391.76" r="0.3" fill="#777" opacity="0.8"/>
<circle cx="446.13" cy="392.79" r="0.3" fill="#777" opacity="0.8"/>
<circle cx="445.02" cy="388.65" r="0.3" fill="#777" opacity="0.8"/>
<circle cx="436.61" cy="384.43" r="0.3" fill="#777" opacity="0.8"/>
<circle cx="412.68" cy="391.67" r="0.3" fill="#777" opacity="0.8"/>
<circle cx="456.79" cy="382.29" r="0.3" fill="#777" opacity="0.8"/>
<circle cx="443.49" cy="391.04" r="0.3" fill="#777" opacity="0.8"/>
<circle cx="416.07" cy="391.14" r="0.3" fill="#777" opacity="0.8"/>
<circle cx="445.61" cy="386.89" r="0.3" fill="#777" opacity="0.8"/>
<circle cx="463.53" cy="387.22" r="0.3" fill="#777" opacity="0.8"/>
<circle cx="464.77" cy="390.60" r="0.3" fill="#777" opacity="0.8"/>
<circle cx="426.34" cy="387.91" r="0.3" fill="#777" opacity="0.8"/>
<circle cx="421.70" cy="392.53" r="0.3" fill="#777" opacity="0.8"/>
<circle cx="425.53" cy="385.63" r="0.3" fill="#777" opacity="0.8"/>
<circle cx="460.54" cy="384.97" r="0.3" fill="#777" opacity="0.8"/>
<circle cx="433.27" cy="388.22" r="0.3" fill="#777" opacity="0.8"/>
<circle cx="450.35" cy="384.07" r="0.3" fill="#777" opacity="0.8"/>
<circle cx="416.83" cy="391.89" r="0.3" fill="#777" opacity="0.8"/>
<circle cx="449.33" cy="387.66" r="0.3" fill="#777" opacity="0.8"/>
<circle cx="422.01" cy="397.24" r="0.3" fill="#777" opacity="0.8"/>
<circle cx="428.66" cy="386.78" r="0.3" fill="#777" opacity="0.8"/>
<circle cx="439.43" cy="388.48" r="0.3" fill="#777" opacity="0.8"/>
<circle cx="461.73" cy="389.56" r="0.3" fill="#777" opacity="0.8"/>
<circle cx="448.82" cy="393.92" r="0.3" fill="#777" opacity="0.8"/>
<circle cx="454.03" cy="385.02" r="0.3" fill="#777" opacity="0.8"/>
<circle cx="429.37" cy="390.98" r="0.3" fill="#777" opacity="0.8"/>
<circle cx="436.50" cy="389.35" r="0.3" fill="#777" opacity="0.8"/>
<circle cx="436.66" cy="391.48" r="0.3" fill="#777" opacity="0.8"/>
<path d="M416,391 C420,388.5 430,386.8 441,386.4 L444,387 C445,389.5 443.5,392.2 440,393 C432,394.4 422,395.4 418,395.3 C415.5,394.5 415,392.5 416,391 Z" fill="#000"/>
<circle cx="422.22" cy="388.21" r="0.38" fill="#111"/>
<circle cx="427.85" cy="390.76" r="0.38" fill="#111"/>
<circle cx="421.18" cy="387.73" r="0.38" fill="#111"/>
<circle cx="423.67" cy="388.21" r="0.38" fill="#111"/>
<circle cx="442.55" cy="386.68" r="0.38" fill="#111"/>
<circle cx="445.74" cy="385.86" r="0.38" fill="#111"/>
<circle cx="427.78" cy="391.28" r="0.38" fill="#111"/>
<circle cx="427.36" cy="393.98" r="0.38" fill="#111"/>
<circle cx="413.61" cy="392.46" r="0.38" fill="#111"/>
<circle cx="428.03" cy="389.28" r="0.38" fill="#111"/>
<circle cx="428.31" cy="390.10" r="0.38" fill="#111"/>
<circle cx="429.46" cy="393.33" r="0.38" fill="#111"/>
<circle cx="434.15" cy="386.39" r="0.38" fill="#111"/>
<circle cx="413.88" cy="393.36" r="0.38" fill="#111"/>
<circle cx="440.83" cy="389.87" r="0.38" fill="#111"/>
<circle cx="442.13" cy="389.82" r="0.38" fill="#111"/>
<circle cx="431.03" cy="392.42" r="0.38" fill="#111"/>
<circle cx="456.89" cy="388.49" r="0.38" fill="#111"/>
<circle cx="443.97" cy="385.22" r="0.38" fill="#111"/>
<circle cx="456.96" cy="387.72" r="0.38" fill="#111"/>
<circle cx="420.26" cy="389.37" r="0.38" fill="#111"/>
<circle cx="457.45" cy="391.54" r="0.38" fill="#111"/>
<circle cx="422.74" cy="389.55" r="0.38" fill="#111"/>
<circle cx="441.38" cy="385.14" r="0.38" fill="#111"/>
<circle cx="446.71" cy="387.41" r="0.38" fill="#111"/>
<circle cx="423.23" cy="390.46" r="0.38" fill="#111"/>
<circle cx="415.97" cy="390.78" r="0.38" fill="#111"/>
<circle cx="442.83" cy="387.97" r="0.38" fill="#111"/>
<circle cx="431.78" cy="385.02" r="0.38" fill="#111"/>
<circle cx="431.81" cy="391.98" r="0.38" fill="#111"/>
<circle cx="435.79" cy="388.53" r="0.38" fill="#111"/>
<circle cx="423.76" cy="391.59" r="0.38" fill="#111"/>
<circle cx="438.56" cy="389.66" r="0.38" fill="#111"/>
<circle cx="458.39" cy="386.88" r="0.38" fill="#111"/>
<circle cx="445.38" cy="391.05" r="0.38" fill="#111"/>
<circle cx="432.27" cy="390.91" r="0.38" fill="#111"/>
<circle cx="437.70" cy="391.30" r="0.38" fill="#111"/>
<circle cx="437.96" cy="390.77" r="0.38" fill="#111"/>
<circle cx="450.56" cy="386.04" r="0.38" fill="#111"/>
<circle cx="448.26" cy="387.21" r="0.38" fill="#111"/>
<circle cx="423.61" cy="392.90" r="0.38" fill="#111"/>
<circle cx="419.21" cy="391.39" r="0.38" fill="#111"/>
<circle cx="419.81" cy="389.91" r="0.38" fill="#111"/>
<circle cx="442.56" cy="391.18" r="0.38" fill="#111"/>
<circle cx="444.03" cy="389.68" r="0.38" fill="#111"/>
<circle cx="439.78" cy="388.86" r="0.38" fill="#111"/>
<circle cx="417.16" cy="390.19" r="0.38" fill="#111"/>
<circle cx="419.73" cy="389.11" r="0.38" fill="#111"/>
<circle cx="427.91" cy="389.05" r="0.38" fill="#111"/>
<circle cx="458.33" cy="385.99" r="0.38" fill="#111"/>
<circle cx="430.05" cy="387.64" r="0.38" fill="#111"/>
<circle cx="442.09" cy="392.80" r="0.38" fill="#111"/>
<circle cx="418.14" cy="391.54" r="0.38" fill="#111"/>
<circle cx="458.48" cy="386.02" r="0.38" fill="#111"/>
<circle cx="443.52" cy="390.29" r="0.38" fill="#111"/>
<circle cx="437.45" cy="385.40" r="0.38" fill="#111"/>
<circle cx="459.43" cy="388.86" r="0.38" fill="#111"/>
<circle cx="453.21" cy="388.21" r="0.38" fill="#111"/>
<circle cx="413.39" cy="388.03" r="0.38" fill="#111"/>
<circle cx="447.34" cy="383.18" r="0.38" fill="#111"/>
<circle cx="454.38" cy="389.64" r="0.38" fill="#111"/>
<circle cx="442.26" cy="390.12" r="0.38" fill="#111"/>
<circle cx="433.91" cy="386.63" r="0.38" fill="#111"/>
<circle cx="420.80" cy="392.61" r="0.38" fill="#111"/>
<circle cx="415.16" cy="387.06" r="0.38" fill="#111"/>
<circle cx="452.70" cy="385.73" r="0.38" fill="#111"/>
<circle cx="445.31" cy="387.73" r="0.38" fill="#111"/>
<circle cx="414.93" cy="395.59" r="0.38" fill="#111"/>
<circle cx="424.84" cy="391.54" r="0.38" fill="#111"/>
<circle cx="432.34" cy="385.74" r="0.38" fill="#111"/>
<circle cx="456.64" cy="389.33" r="0.38" fill="#111"/>
<circle cx="416.24" cy="393.04" r="0.38" fill="#111"/>
<circle cx="424.20" cy="390.67" r="0.38" fill="#111"/>
<circle cx="432.45" cy="390.06" r="0.38" fill="#111"/>
<circle cx="437.01" cy="388.88" r="0.38" fill="#111"/>
<circle cx="415.52" cy="394.22" r="0.38" fill="#111"/>
<circle cx="437.84" cy="387.36" r="0.38" fill="#111"/>
<circle cx="456.91" cy="387.37" r="0.38" fill="#111"/>
<circle cx="419.08" cy="389.06" r="0.38" fill="#111"/>
<circle cx="430.89" cy="390.97" r="0.38" fill="#111"/>
<circle cx="459.74" cy="385.66" r="0.38" fill="#111"/>
<circle cx="434.12" cy="388.65" r="0.38" fill="#111"/>
<circle cx="434.00" cy="393.13" r="0.38" fill="#111"/>
<circle cx="444.08" cy="387.72" r="0.38" fill="#111"/>
<circle cx="420.79" cy="390.03" r="0.38" fill="#111"/>
<circle cx="429.85" cy="389.50" r="0.38" fill="#111"/>
<circle cx="414.11" cy="389.97" r="0.38" fill="#111"/>
<circle cx="443.62" cy="383.55" r="0.38" fill="#111"/>
<circle cx="440.35" cy="389.13" r="0.38" fill="#111"/>
<circle cx="435.29" cy="391.76" r="0.38" fill="#111"/>
<circle cx="433.30" cy="389.60" r="0.38" fill="#111"/>
<circle cx="449.03" cy="389.47" r="0.38" fill="#111"/>
<circle cx="458.72" cy="388.45" r="0.38" fill="#111"/>
<circle cx="414.34" cy="388.97" r="0.38" fill="#111"/>
<circle cx="427.51" cy="393.17" r="0.38" fill="#111"/>
<circle cx="439.30" cy="384.70" r="0.38" fill="#111"/>
<circle cx="440.31" cy="388.56" r="0.38" fill="#111"/>
<circle cx="447.18" cy="387.41" r="0.38" fill="#111"/>
<circle cx="430.52" cy="391.30" r="0.38" fill="#111"/>
<circle cx="444.84" cy="386.91" r="0.38" fill="#111"/>
<circle cx="439.69" cy="387.03" r="0.38" fill="#111"/>
<circle cx="458.71" cy="387.10" r="0.38" fill="#111"/>
<circle cx="449.23" cy="386.68" r="0.38" fill="#111"/>
<circle cx="456.10" cy="388.64" r="0.38" fill="#111"/>
<circle cx="448.86" cy="386.06" r="0.38" fill="#111"/>
<circle cx="418.62" cy="386.95" r="0.38" fill="#111"/>
<circle cx="441.70" cy="387.45" r="0.38" fill="#111"/>
<circle cx="459.23" cy="386.20" r="0.38" fill="#111"/>
<circle cx="459.44" cy="385.71" r="0.38" fill="#111"/>
<circle cx="449.75" cy="389.70" r="0.38" fill="#111"/>
<circle cx="446.41" cy="386.73" r="0.38" fill="#111"/>
<circle cx="429.74" cy="392.81" r="0.38" fill="#111"/>
<circle cx="420.05" cy="389.48" r="0.38" fill="#111"/>
<circle cx="432.61" cy="387.35" r="0.38" fill="#111"/>
<circle cx="436.94" cy="393.07" r="0.38" fill="#111"/>
<circle cx="432.54" cy="389.57" r="0.38" fill="#111"/>
<circle cx="456.76" cy="386.19" r="0.38" fill="#111"/>
<circle cx="444.05" cy="387.93" r="0.38" fill="#111"/>
<circle cx="450.61" cy="390.11" r="0.38" fill="#111"/>
<circle cx="445.04" cy="387.27" r="0.38" fill="#111"/>
<circle cx="432.24" cy="392.00" r="0.38" fill="#111"/>
<circle cx="418.49" cy="391.66" r="0.38" fill="#111"/>
<circle cx="458.23" cy="386.11" r="0.38" fill="#111"/>
<circle cx="448.19" cy="390.09" r="0.38" fill="#111"/>
<circle cx="421.57" cy="391.72" r="0.38" fill="#111"/>
<circle cx="416.86" cy="389.72" r="0.38" fill="#111"/>
<circle cx="441.79" cy="385.34" r="0.38" fill="#111"/>
<circle cx="434.34" cy="392.26" r="0.38" fill="#111"/>
<circle cx="417.53" cy="391.69" r="0.38" fill="#111"/>
<circle cx="436.69" cy="389.53" r="0.38" fill="#111"/>
<circle cx="447.28" cy="389.87" r="0.38" fill="#111"/>
<circle cx="435.96" cy="390.10" r="0.38" fill="#111"/>
<circle cx="456.08" cy="390.93" r="0.38" fill="#111"/>
<circle cx="443.67" cy="388.09" r="0.38" fill="#111"/>
<circle cx="440.60" cy="389.58" r="0.38" fill="#111"/>
<circle cx="420.97" cy="393.60" r="0.38" fill="#111"/>
<circle cx="427.55" cy="391.54" r="0.38" fill="#111"/>
<circle cx="447.86" cy="386.65" r="0.38" fill="#111"/>
<circle cx="435.34" cy="389.15" r="0.38" fill="#111"/>
<circle cx="440.51" cy="391.45" r="0.38" fill="#111"/>
<circle cx="424.60" cy="393.74" r="0.38" fill="#111"/>
<circle cx="421.70" cy="386.16" r="0.38" fill="#111"/>
<circle cx="424.62" cy="391.76" r="0.38" fill="#111"/>
<circle cx="423.80" cy="387.66" r="0.38" fill="#111"/>
<circle cx="441.13" cy="389.37" r="0.38" fill="#111"/>
<circle cx="441.20" cy="393.04" r="0.38" fill="#111"/>
<circle cx="437.52" cy="390.47" r="0.38" fill="#111"/>
<circle cx="435.70" cy="391.29" r="0.38" fill="#111"/>
<circle cx="430.37" cy="390.60" r="0.38" fill="#111"/>
<circle cx="446.61" cy="389.54" r="0.38" fill="#111"/>
<circle cx="457.40" cy="388.84" r="0.38" fill="#111"/>
<circle cx="450.97" cy="386.35" r="0.38" fill="#111"/>
<circle cx="419.41" cy="391.80" r="0.38" fill="#111"/>
<circle cx="413.07" cy="394.62" r="0.38" fill="#111"/>
<circle cx="417.03" cy="391.48" r="0.38" fill="#111"/>
<circle cx="421.87" cy="389.50" r="0.38" fill="#111"/>
<circle cx="431.98" cy="390.04" r="0.38" fill="#111"/>
<circle cx="455.12" cy="387.61" r="0.38" fill="#111"/>
<circle cx="427.63" cy="388.24" r="0.38" fill="#111"/>
<circle cx="418.84" cy="390.10" r="0.38" fill="#111"/>
<circle cx="459.00" cy="388.76" r="0.38" fill="#111"/>
<circle cx="455.19" cy="390.39" r="0.38" fill="#111"/>
<circle cx="434.79" cy="390.34" r="0.38" fill="#111"/>
<circle cx="420.09" cy="390.78" r="0.38" fill="#111"/>
<circle cx="436.22" cy="392.75" r="0.38" fill="#111"/>
<circle cx="438.28" cy="390.97" r="0.38" fill="#111"/>
<circle cx="451.35" cy="388.06" r="0.38" fill="#111"/>
<circle cx="455.74" cy="388.12" r="0.38" fill="#111"/>
<circle cx="423.00" cy="389.80" r="0.38" fill="#111"/>
<circle cx="441.17" cy="389.58" r="0.38" fill="#111"/>
<circle cx="435.27" cy="389.78" r="0.38" fill="#111"/>
<circle cx="429.21" cy="390.68" r="0.38" fill="#111"/>
<circle cx="450.61" cy="388.87" r="0.38" fill="#111"/>
<circle cx="442.69" cy="390.11" r="0.38" fill="#111"/>
<circle cx="443.48" cy="389.82" r="0.38" fill="#111"/>
<circle cx="453.79" cy="385.76" r="0.38" fill="#111"/>
<circle cx="420.46" cy="391.36" r="0.38" fill="#111"/>
<circle cx="418.71" cy="390.86" r="0.38" fill="#111"/>
<circle cx="417.97" cy="391.52" r="0.38" fill="#111"/>
<circle cx="457.23" cy="385.75" r="0.38" fill="#111"/>
<circle cx="459.79" cy="389.50" r="0.38" fill="#111"/>
<circle cx="429.86" cy="389.27" r="0.38" fill="#111"/>
<circle cx="458.94" cy="387.35" r="0.38" fill="#111"/>
<circle cx="439.55" cy="387.90" r="0.38" fill="#111"/>
<circle cx="413.98" cy="394.35" r="0.38" fill="#111"/>
<circle cx="447.53" cy="388.74" r="0.38" fill="#111"/>
<circle cx="454.33" cy="387.90" r="0.38" fill="#111"/>
<circle cx="448.42" cy="387.54" r="0.38" fill="#111"/>
<circle cx="460.10" cy="386.55" r="0.38" fill="#111"/>
<circle cx="427.16" cy="388.27" r="0.38" fill="#111"/>
<circle cx="416.06" cy="387.72" r="0.38" fill="#111"/>
<circle cx="418.51" cy="387.48" r="0.38" fill="#111"/>
<circle cx="452.40" cy="389.25" r="0.38" fill="#111"/>
<circle cx="453.60" cy="387.05" r="0.38" fill="#111"/>
<circle cx="420.48" cy="390.12" r="0.38" fill="#111"/>
<circle cx="455.22" cy="389.77" r="0.38" fill="#111"/>
<circle cx="438.72" cy="393.19" r="0.38" fill="#111"/>
<circle cx="440.44" cy="391.58" r="0.38" fill="#111"/>
<circle cx="450.39" cy="388.42" r="0.38" fill="#111"/>
<circle cx="417.33" cy="393.00" r="0.38" fill="#111"/>
<circle cx="421.96" cy="388.89" r="0.38" fill="#111"/>
<circle cx="444.53" cy="389.56" r="0.38" fill="#111"/>
<circle cx="453.01" cy="386.16" r="0.38" fill="#111"/>
<circle cx="444.35" cy="392.71" r="0.38" fill="#111"/>
<circle cx="429.55" cy="392.10" r="0.38" fill="#111"/>
<circle cx="444.53" cy="393.35" r="0.38" fill="#111"/>
<circle cx="415.06" cy="390.64" r="0.38" fill="#111"/>
<circle cx="433.21" cy="387.99" r="0.38" fill="#111"/>
<circle cx="449.75" cy="388.51" r="0.38" fill="#111"/>
<circle cx="438.93" cy="390.82" r="0.38" fill="#111"/>
<circle cx="456.42" cy="390.29" r="0.38" fill="#111"/>
<circle cx="447.58" cy="390.05" r="0.38" fill="#111"/>
<circle cx="421.51" cy="389.37" r="0.38" fill="#111"/>
<circle cx="447.06" cy="386.64" r="0.38" fill="#111"/>
<circle cx="438.78" cy="388.36" r="0.38" fill="#111"/>
<circle cx="424.41" cy="392.75" r="0.38" fill="#111"/>
<circle cx="434.86" cy="388.84" r="0.38" fill="#111"/>
<circle cx="424.14" cy="391.13" r="0.38" fill="#111"/>
<circle cx="429.53" cy="388.09" r="0.38" fill="#111"/>
<circle cx="448.84" cy="389.65" r="0.38" fill="#111"/>
<circle cx="425.44" cy="388.77" r="0.38" fill="#111"/>
<circle cx="423.88" cy="390.01" r="0.38" fill="#111"/>
<circle cx="419.71" cy="395.49" r="0.38" fill="#111"/>
<circle cx="452.88" cy="387.08" r="0.38" fill="#111"/>
<circle cx="421.23" cy="391.41" r="0.38" fill="#111"/>
<circle cx="427.42" cy="391.07" r="0.38" fill="#111"/>
<circle cx="433.46" cy="391.85" r="0.38" fill="#111"/>
<circle cx="446.08" cy="388.70" r="0.38" fill="#111"/>
<circle cx="453.03" cy="388.03" r="0.38" fill="#111"/>
<circle cx="451.16" cy="388.26" r="0.38" fill="#111"/>
<circle cx="431.25" cy="389.51" r="0.38" fill="#111"/>
<circle cx="425.88" cy="391.51" r="0.38" fill="#111"/>
<circle cx="425.78" cy="390.39" r="0.38" fill="#111"/>
<circle cx="437.84" cy="390.82" r="0.38" fill="#111"/>
<circle cx="452.04" cy="387.49" r="0.38" fill="#111"/>
<circle cx="436.21" cy="391.45" r="0.38" fill="#111"/>
<circle cx="453.43" cy="388.44" r="0.38" fill="#111"/>
<circle cx="421.31" cy="385.07" r="0.38" fill="#111"/>
<circle cx="451.66" cy="387.54" r="0.38" fill="#111"/>
<circle cx="438.30" cy="391.84" r="0.38" fill="#111"/>
<circle cx="440.59" cy="388.78" r="0.38" fill="#111"/>
<circle cx="413.38" cy="392.26" r="0.38" fill="#111"/>
<circle cx="457.52" cy="388.94" r="0.38" fill="#111"/>
<circle cx="417.31" cy="389.76" r="0.38" fill="#111"/>
<circle cx="453.23" cy="386.18" r="0.38" fill="#111"/>
<circle cx="443.67" cy="388.82" r="0.38" fill="#111"/>
<circle cx="420.57" cy="391.64" r="0.38" fill="#111"/>
<circle cx="448.26" cy="391.31" r="0.38" fill="#111"/>
<circle cx="460.22" cy="383.45" r="0.38" fill="#111"/>
<circle cx="455.67" cy="389.50" r="0.38" fill="#111"/>
<circle cx="437.37" cy="390.34" r="0.38" fill="#111"/>
<circle cx="416.38" cy="390.55" r="0.38" fill="#111"/>
<circle cx="452.08" cy="389.30" r="0.38" fill="#111"/>
<circle cx="448.37" cy="389.91" r="0.38" fill="#111"/>
<circle cx="445.61" cy="389.19" r="0.38" fill="#111"/>
<circle cx="415.04" cy="394.87" r="0.38" fill="#111"/>
<circle cx="439.98" cy="391.19" r="0.38" fill="#111"/>
<circle cx="427.52" cy="388.79" r="0.38" fill="#111"/>
<circle cx="460.87" cy="386.88" r="0.38" fill="#111"/>
<circle cx="456.01" cy="384.93" r="0.38" fill="#111"/>
<circle cx="457.88" cy="384.89" r="0.38" fill="#111"/>
<circle cx="437.09" cy="387.76" r="0.38" fill="#111"/>
<circle cx="425.24" cy="390.22" r="0.38" fill="#111"/>
<circle cx="414.23" cy="393.02" r="0.38" fill="#111"/>
<circle cx="442.76" cy="385.36" r="0.38" fill="#111"/>
<circle cx="415.45" cy="393.95" r="0.38" fill="#111"/>
<circle cx="450.59" cy="388.70" r="0.38" fill="#111"/>
<circle cx="427.04" cy="392.00" r="0.38" fill="#111"/>
<circle cx="458.95" cy="386.37" r="0.38" fill="#111"/>
<circle cx="421.84" cy="389.02" r="0.38" fill="#111"/>
<circle cx="415.29" cy="387.76" r="0.38" fill="#111"/>
<circle cx="434.33" cy="393.68" r="0.38" fill="#111"/>
<circle cx="445.42" cy="389.05" r="0.38" fill="#111"/>
<circle cx="428.40" cy="389.79" r="0.38" fill="#111"/>
<circle cx="433.06" cy="390.09" r="0.38" fill="#111"/>
<circle cx="445.71" cy="390.21" r="0.38" fill="#111"/>
<circle cx="419.46" cy="390.44" r="0.38" fill="#111"/>
<circle cx="444.55" cy="387.18" r="0.38" fill="#111"/>
<circle cx="421.34" cy="391.36" r="0.38" fill="#111"/>
<circle cx="452.95" cy="386.39" r="0.38" fill="#111"/>
<circle cx="459.44" cy="387.13" r="0.38" fill="#111"/>
<circle cx="430.57" cy="389.82" r="0.38" fill="#111"/>
<circle cx="459.84" cy="385.83" r="0.38" fill="#111"/>
<circle cx="435.86" cy="386.79" r="0.38" fill="#111"/>
<circle cx="458.14" cy="389.37" r="0.38" fill="#111"/>
<circle cx="441.31" cy="387.53" r="0.38" fill="#111"/>
<circle cx="417.95" cy="392.51" r="0.38" fill="#111"/>
<circle cx="447.59" cy="388.54" r="0.38" fill="#111"/>
<circle cx="453.67" cy="388.35" r="0.38" fill="#111"/>
<circle cx="414.46" cy="387.32" r="0.38" fill="#111"/>
<circle cx="414.37" cy="391.46" r="0.38" fill="#111"/>
<circle cx="441.13" cy="389.45" r="0.38" fill="#111"/>
<circle cx="457.62" cy="388.19" r="0.38" fill="#111"/>
<circle cx="444.88" cy="388.17" r="0.38" fill="#111"/>
<circle cx="445.21" cy="387.80" r="0.38" fill="#111"/>
<circle cx="424.35" cy="388.86" r="0.38" fill="#111"/>
<circle cx="455.54" cy="389.86" r="0.38" fill="#111"/>
<circle cx="439.10" cy="387.44" r="0.38" fill="#111"/>
<circle cx="414.58" cy="391.21" r="0.38" fill="#111"/>
<circle cx="424.65" cy="392.01" r="0.38" fill="#111"/>
<circle cx="423.37" cy="389.18" r="0.38" fill="#111"/>
<circle cx="421.45" cy="388.21" r="0.38" fill="#111"/>
<circle cx="456.29" cy="391.70" r="0.38" fill="#111"/>
<circle cx="440.98" cy="389.10" r="0.38" fill="#111"/>
<circle cx="443.97" cy="388.21" r="0.38" fill="#111"/>
<circle cx="455.07" cy="390.22" r="0.38" fill="#111"/>
<circle cx="422.85" cy="393.10" r="0.38" fill="#111"/>
<circle cx="424.97" cy="393.12" r="0.38" fill="#111"/>
<circle cx="418.07" cy="389.86" r="0.38" fill="#111"/>
<circle cx="423.25" cy="390.74" r="0.38" fill="#111"/>
<circle cx="426.62" cy="393.56" r="0.38" fill="#111"/>
<circle cx="440.14" cy="391.03" r="0.38" fill="#111"/>
<circle cx="444.36" cy="387.88" r="0.38" fill="#111"/>
<circle cx="459.13" cy="390.12" r="0.38" fill="#111"/>
<circle cx="460.98" cy="388.61" r="0.38" fill="#111"/>
<circle cx="417.30" cy="391.67" r="0.38" fill="#111"/>
<circle cx="435.79" cy="388.05" r="0.38" fill="#111"/>
<circle cx="430.02" cy="387.78" r="0.38" fill="#111"/>
<circle cx="459.25" cy="383.59" r="0.38" fill="#111"/>
<circle cx="433.43" cy="385.02" r="0.38" fill="#111"/>
<circle cx="443.95" cy="390.83" r="0.38" fill="#111"/>
<circle cx="444.03" cy="390.25" r="0.38" fill="#111"/>
<circle cx="424.18" cy="389.84" r="0.38" fill="#111"/>
<circle cx="435.15" cy="388.86" r="0.38" fill="#111"/>
<circle cx="442.14" cy="387.84" r="0.38" fill="#111"/>
<circle cx="422.13" cy="390.92" r="0.38" fill="#111"/>
<circle cx="431.00" cy="388.75" r="0.38" fill="#111"/>
<circle cx="422.64" cy="388.99" r="0.38" fill="#111"/>
<circle cx="429.22" cy="389.75" r="0.38" fill="#111"/>
<circle cx="441.27" cy="390.07" r="0.38" fill="#111"/>
<circle cx="435.61" cy="389.51" r="0.38" fill="#111"/>
<circle cx="456.87" cy="387.73" r="0.38" fill="#111"/>
<circle cx="415.18" cy="392.65" r="0.38" fill="#111"/>
<circle cx="450.89" cy="389.07" r="0.38" fill="#111"/>
<circle cx="457.95" cy="387.62" r="0.38" fill="#111"/>
<circle cx="453.29" cy="386.89" r="0.38" fill="#111"/>
<circle cx="414.56" cy="392.20" r="0.38" fill="#111"/>
<circle cx="440.04" cy="389.80" r="0.38" fill="#111"/>
<circle cx="441.49" cy="385.63" r="0.38" fill="#111"/>
<circle cx="449.11" cy="385.57" r="0.38" fill="#111"/>
<circle cx="448.70" cy="390.02" r="0.38" fill="#111"/>
<circle cx="457.11" cy="390.74" r="0.38" fill="#111"/>
<circle cx="452.76" cy="390.23" r="0.38" fill="#111"/>
<circle cx="437.93" cy="390.89" r="0.38" fill="#111"/>
<circle cx="438.78" cy="388.89" r="0.38" fill="#111"/>
<circle cx="451.72" cy="390.85" r="0.38" fill="#111"/>
<circle cx="449.94" cy="387.44" r="0.38" fill="#111"/>
<circle cx="417.15" cy="394.32" r="0.38" fill="#111"/>
<circle cx="445.67" cy="388.83" r="0.38" fill="#111"/>
<circle cx="418.01" cy="391.19" r="0.38" fill="#111"/>
<circle cx="444.33" cy="391.01" r="0.38" fill="#111"/>
<circle cx="443.93" cy="388.59" r="0.38" fill="#111"/>
<circle cx="441.14" cy="391.94" r="0.38" fill="#111"/>
<circle cx="452.26" cy="384.51" r="0.38" fill="#111"/>
<circle cx="428.92" cy="393.97" r="0.38" fill="#111"/>
<circle cx="426.39" cy="392.24" r="0.38" fill="#111"/>
<circle cx="449.42" cy="388.96" r="0.38" fill="#111"/>
<circle cx="422.31" cy="389.85" r="0.38" fill="#111"/>
<circle cx="433.29" cy="391.95" r="0.38" fill="#111"/>
<circle cx="460.66" cy="384.71" r="0.38" fill="#111"/>
<circle cx="426.11" cy="387.51" r="0.38" fill="#111"/>
<circle cx="431.08" cy="387.14" r="0.38" fill="#111"/>
<circle cx="441.18" cy="389.69" r="0.38" fill="#111"/>
<circle cx="434.25" cy="393.58" r="0.38" fill="#111"/>
<circle cx="436.34" cy="388.52" r="0.38" fill="#111"/>
<circle cx="452.02" cy="386.92" r="0.38" fill="#111"/>
<circle cx="435.04" cy="386.71" r="0.38" fill="#111"/>
<circle cx="445.01" cy="389.82" r="0.38" fill="#111"/>
<circle cx="447.06" cy="390.59" r="0.38" fill="#111"/>
<circle cx="432.56" cy="387.26" r="0.38" fill="#111"/>
<circle cx="443.90" cy="389.26" r="0.38" fill="#111"/>
<circle cx="444.64" cy="388.24" r="0.38" fill="#111"/>
<circle cx="438.32" cy="388.50" r="0.38" fill="#111"/>
<circle cx="426.83" cy="390.93" r="0.38" fill="#111"/>
<circle cx="449.00" cy="391.87" r="0.38" fill="#111"/>
<circle cx="449.22" cy="385.22" r="0.38" fill="#111"/>
<circle cx="455.25" cy="388.24" r="0.38" fill="#111"/>
<circle cx="446.14" cy="387.76" r="0.38" fill="#111"/>
<circle cx="454.72" cy="387.86" r="0.38" fill="#111"/>
<circle cx="446.60" cy="387.29" r="0.38" fill="#111"/>
<circle cx="431.71" cy="386.96" r="0.38" fill="#111"/>
<circle cx="445.45" cy="389.74" r="0.38" fill="#111"/>
<circle cx="419.53" cy="390.57" r="0.38" fill="#111"/>
<circle cx="422.93" cy="390.16" r="0.38" fill="#111"/>
<circle cx="452.59" cy="389.08" r="0.38" fill="#111"/>
<circle cx="449.69" cy="387.66" r="0.38" fill="#111"/>
<circle cx="421.76" cy="388.96" r="0.38" fill="#111"/>
<circle cx="417.03" cy="391.26" r="0.38" fill="#111"/>
<circle cx="433.79" cy="386.03" r="0.38" fill="#111"/>
<circle cx="417.93" cy="389.90" r="0.38" fill="#111"/>
<circle cx="426.81" cy="391.73" r="0.38" fill="#111"/>
<circle cx="425.79" cy="390.48" r="0.38" fill="#111"/>
<circle cx="452.36" cy="389.09" r="0.38" fill="#111"/>
<circle cx="436.15" cy="388.99" r="0.38" fill="#111"/>
<circle cx="438.14" cy="384.29" r="0.38" fill="#111"/>
<circle cx="458.60" cy="387.73" r="0.38" fill="#111"/>
<circle cx="414.85" cy="389.38" r="0.38" fill="#111"/>
<circle cx="444.20" cy="390.13" r="0.38" fill="#111"/>
<circle cx="438.46" cy="389.70" r="0.38" fill="#111"/>
<circle cx="435.14" cy="388.78" r="0.38" fill="#111"/>
<circle cx="452.86" cy="388.49" r="0.38" fill="#111"/>
<circle cx="442.59" cy="390.02" r="0.38" fill="#111"/>
<circle cx="419.96" cy="389.98" r="0.38" fill="#111"/>
<circle cx="421.97" cy="390.50" r="0.38" fill="#111"/>
<circle cx="429.04" cy="390.72" r="0.38" fill="#111"/>
<circle cx="442.20" cy="386.28" r="0.38" fill="#111"/>
<circle cx="443.13" cy="384.53" r="0.38" fill="#111"/>
<circle cx="441.57" cy="392.33" r="0.38" fill="#111"/>
<circle cx="443.17" cy="390.27" r="0.38" fill="#111"/>
<circle cx="441.12" cy="389.69" r="0.38" fill="#111"/>
<circle cx="458.88" cy="387.32" r="0.38" fill="#111"/>
<circle cx="451.77" cy="387.60" r="0.38" fill="#111"/>
<circle cx="423.19" cy="389.61" r="0.38" fill="#111"/>
<circle cx="415.95" cy="390.60" r="0.38" fill="#111"/>
<circle cx="450.09" cy="386.09" r="0.38" fill="#111"/>
<circle cx="446.83" cy="388.75" r="0.38" fill="#111"/>
<circle cx="441.51" cy="387.51" r="0.38" fill="#111"/>
<circle cx="438.44" cy="390.19" r="0.38" fill="#111"/>
<circle cx="424.81" cy="390.25" r="0.38" fill="#111"/>
<circle cx="429.43" cy="393.76" r="0.38" fill="#111"/>
<circle cx="447.61" cy="387.72" r="0.38" fill="#111"/>
<circle cx="450.70" cy="386.59" r="0.38" fill="#111"/>
<circle cx="428.86" cy="394.06" r="0.38" fill="#111"/>
<circle cx="448.97" cy="388.43" r="0.38" fill="#111"/>
<circle cx="448.44" cy="389.85" r="0.38" fill="#111"/>
<circle cx="433.46" cy="388.77" r="0.38" fill="#111"/>
<circle cx="442.41" cy="390.08" r="0.38" fill="#111"/>
<circle cx="449.40" cy="387.39" r="0.38" fill="#111"/>
<circle cx="458.94" cy="387.46" r="0.38" fill="#111"/>
<circle cx="420.78" cy="391.27" r="0.38" fill="#111"/>
<circle cx="443.98" cy="389.84" r="0.38" fill="#111"/>
<circle cx="417.43" cy="395.96" r="0.38" fill="#111"/>
<circle cx="455.95" cy="385.55" r="0.38" fill="#111"/>
<circle cx="429.27" cy="393.71" r="0.38" fill="#111"/>
<circle cx="418.33" cy="390.36" r="0.38" fill="#111"/>
<circle cx="458.11" cy="386.34" r="0.38" fill="#111"/>
<circle cx="452.49" cy="387.97" r="0.38" fill="#111"/>
<circle cx="439.42" cy="391.54" r="0.38" fill="#111"/>
<circle cx="450.10" cy="388.08" r="0.38" fill="#111"/>
<circle cx="437.90" cy="391.93" r="0.38" fill="#111"/>
<circle cx="441.22" cy="387.06" r="0.38" fill="#111"/>
<circle cx="431.58" cy="389.20" r="0.38" fill="#111"/>
<circle cx="431.96" cy="392.32" r="0.38" fill="#111"/>
<circle cx="418.11" cy="391.05" r="0.38" fill="#111"/>
<circle cx="431.90" cy="390.20" r="0.38" fill="#111"/>
<circle cx="416.88" cy="388.24" r="0.38" fill="#111"/>
<circle cx="432.84" cy="386.13" r="0.38" fill="#111"/>
<circle cx="425.83" cy="391.60" r="0.38" fill="#111"/>
<circle cx="456.98" cy="387.77" r="0.38" fill="#111"/>
<circle cx="436.88" cy="389.08" r="0.38" fill="#111"/>
<circle cx="438.57" cy="386.46" r="0.38" fill="#111"/>
<circle cx="422.68" cy="387.66" r="0.38" fill="#111"/>
<circle cx="452.77" cy="391.04" r="0.38" fill="#111"/>
<circle cx="425.57" cy="390.68" r="0.38" fill="#111"/>
<circle cx="414.26" cy="393.54" r="0.38" fill="#111"/>
<circle cx="444.57" cy="383.85" r="0.38" fill="#111"/>
<circle cx="450.35" cy="387.27" r="0.38" fill="#111"/>
<circle cx="444.90" cy="389.64" r="0.38" fill="#111"/>
<circle cx="451.81" cy="387.93" r="0.38" fill="#111"/>
<circle cx="425.99" cy="392.36" r="0.38" fill="#111"/>
<circle cx="425.71" cy="390.61" r="0.38" fill="#111"/>
<circle cx="414.05" cy="391.33" r="0.38" fill="#111"/>
<circle cx="421.83" cy="391.37" r="0.38" fill="#111"/>
<circle cx="449.35" cy="386.30" r="0.38" fill="#111"/>
<circle cx="446.40" cy="390.22" r="0.38" fill="#111"/>
<circle cx="414.05" cy="389.79" r="0.38" fill="#111"/>
<circle cx="417.91" cy="390.30" r="0.38" fill="#111"/>
<circle cx="427.88" cy="390.79" r="0.38" fill="#111"/>
<circle cx="426.18" cy="395.56" r="0.38" fill="#111"/>
<circle cx="445.30" cy="388.26" r="0.38" fill="#111"/>
<circle cx="433.22" cy="389.13" r="0.38" fill="#111"/>
<circle cx="434.73" cy="390.04" r="0.38" fill="#111"/>
<circle cx="419.88" cy="387.37" r="0.38" fill="#111"/>
<circle cx="432.24" cy="389.13" r="0.38" fill="#111"/>
<circle cx="446.90" cy="389.95" r="0.38" fill="#111"/>
<circle cx="433.50" cy="385.68" r="0.38" fill="#111"/>
<circle cx="424.38" cy="392.38" r="0.38" fill="#111"/>
<circle cx="426.10" cy="388.92" r="0.38" fill="#111"/>
<circle cx="445.80" cy="391.64" r="0.38" fill="#111"/>
<circle cx="431.08" cy="385.64" r="0.38" fill="#111"/>
<circle cx="425.72" cy="390.45" r="0.38" fill="#111"/>
<circle cx="423.44" cy="392.34" r="0.38" fill="#111"/>
<circle cx="457.14" cy="387.29" r="0.38" fill="#111"/>
<circle cx="417.51" cy="390.71" r="0.38" fill="#111"/>
<circle cx="421.89" cy="392.59" r="0.38" fill="#111"/>
<circle cx="451.70" cy="387.83" r="0.38" fill="#111"/>
<circle cx="423.79" cy="392.23" r="0.38" fill="#111"/>
<circle cx="416.62" cy="395.78" r="0.38" fill="#111"/>
<circle cx="437.04" cy="387.65" r="0.38" fill="#111"/>
<circle cx="449.30" cy="388.07" r="0.38" fill="#111"/>
<circle cx="454.00" cy="388.09" r="0.38" fill="#111"/>
<circle cx="436.34" cy="391.18" r="0.38" fill="#111"/>
<circle cx="436.02" cy="387.20" r="0.38" fill="#111"/>
<circle cx="429.28" cy="387.58" r="0.38" fill="#111"/>
<circle cx="458.15" cy="387.17" r="0.38" fill="#111"/>
<circle cx="433.25" cy="389.91" r="0.38" fill="#111"/>
<circle cx="438.43" cy="390.99" r="0.38" fill="#111"/>
<circle cx="441.64" cy="392.78" r="0.38" fill="#111"/>
<circle cx="437.96" cy="389.12" r="0.38" fill="#111"/>
<circle cx="426.24" cy="391.45" r="0.38" fill="#111"/>
<circle cx="443.79" cy="387.59" r="0.38" fill="#111"/>
<circle cx="414.53" cy="388.69" r="0.38" fill="#111"/>
<circle cx="450.34" cy="387.42" r="0.38" fill="#111"/>
<circle cx="438.10" cy="386.49" r="0.38" fill="#111"/>
<circle cx="453.98" cy="389.97" r="0.38" fill="#111"/>
<circle cx="433.75" cy="389.11" r="0.38" fill="#111"/>
<circle cx="438.99" cy="390.21" r="0.38" fill="#111"/>
<circle cx="450.25" cy="385.96" r="0.38" fill="#111"/>
<circle cx="427.84" cy="389.09" r="0.38" fill="#111"/>
<circle cx="440.70" cy="388.23" r="0.38" fill="#111"/>
<circle cx="413.72" cy="388.38" r="0.38" fill="#111"/>
<circle cx="456.72" cy="387.12" r="0.38" fill="#111"/>
<circle cx="436.29" cy="390.44" r="0.38" fill="#111"/>
<circle cx="413.56" cy="390.59" r="0.38" fill="#111"/>
<circle cx="439.55" cy="388.10" r="0.38" fill="#111"/>
<circle cx="441.75" cy="390.68" r="0.38" fill="#111"/>
<circle cx="449.28" cy="389.25" r="0.38" fill="#111"/>
<circle cx="440.95" cy="387.74" r="0.38" fill="#111"/>
<circle cx="443.23" cy="387.83" r="0.38" fill="#111"/>
<circle cx="435.33" cy="387.16" r="0.38" fill="#111"/>
<circle cx="451.85" cy="390.89" r="0.38" fill="#111"/>
<circle cx="421.02" cy="391.32" r="0.38" fill="#111"/>
<circle cx="421.75" cy="389.77" r="0.38" fill="#111"/>
<circle cx="429.43" cy="388.18" r="0.38" fill="#111"/>
<circle cx="416.76" cy="392.76" r="0.38" fill="#111"/>
<circle cx="417.63" cy="391.68" r="0.38" fill="#111"/>
<circle cx="446.43" cy="389.07" r="0.38" fill="#111"/>
<circle cx="433.21" cy="391.65" r="0.38" fill="#111"/>
<circle cx="446.82" cy="389.47" r="0.38" fill="#111"/>
<circle cx="423.43" cy="388.08" r="0.38" fill="#111"/>
<circle cx="419.60" cy="389.23" r="0.38" fill="#111"/>
<circle cx="447.79" cy="387.91" r="0.38" fill="#111"/>
<circle cx="423.37" cy="389.98" r="0.38" fill="#111"/>
<circle cx="426.45" cy="388.64" r="0.38" fill="#111"/>
<circle cx="421.67" cy="390.88" r="0.38" fill="#111"/>
<circle cx="439.11" cy="386.88" r="0.38" fill="#111"/>
<circle cx="452.95" cy="389.98" r="0.38" fill="#111"/>
<circle cx="428.77" cy="390.60" r="0.38" fill="#111"/>
<circle cx="424.70" cy="391.25" r="0.38" fill="#111"/>
<circle cx="432.65" cy="388.52" r="0.38" fill="#111"/>
<circle cx="433.83" cy="390.84" r="0.38" fill="#111"/>
<circle cx="413.18" cy="392.90" r="0.38" fill="#111"/>
<circle cx="437.02" cy="383.86" r="0.38" fill="#111"/>
<circle cx="459.05" cy="382.82" r="0.38" fill="#111"/>
<circle cx="428.94" cy="391.08" r="0.38" fill="#111"/>
<circle cx="420.14" cy="390.74" r="0.38" fill="#111"/>
<circle cx="438.44" cy="388.21" r="0.38" fill="#111"/>
<circle cx="414.74" cy="388.99" r="0.38" fill="#111"/>
<circle cx="432.58" cy="387.86" r="0.38" fill="#111"/>
<circle cx="449.54" cy="388.39" r="0.38" fill="#111"/>
<circle cx="448.72" cy="389.92" r="0.38" fill="#111"/>
<circle cx="446.44" cy="389.52" r="0.38" fill="#111"/>
<circle cx="450.84" cy="385.91" r="0.38" fill="#111"/>
<circle cx="448.52" cy="384.64" r="0.38" fill="#111"/>
<circle cx="431.89" cy="391.30" r="0.38" fill="#111"/>
<circle cx="441.68" cy="386.65" r="0.38" fill="#111"/>
<circle cx="441.49" cy="389.09" r="0.38" fill="#111"/>
<circle cx="435.00" cy="386.48" r="0.38" fill="#111"/>
<circle cx="450.79" cy="385.89" r="0.38" fill="#111"/>
<circle cx="456.89" cy="388.90" r="0.38" fill="#111"/>
<circle cx="438.43" cy="391.91" r="0.38" fill="#111"/>
<circle cx="423.21" cy="394.17" r="0.38" fill="#111"/>
<circle cx="423.13" cy="392.69" r="0.38" fill="#111"/>
<circle cx="432.25" cy="390.46" r="0.38" fill="#111"/>
<circle cx="452.28" cy="388.80" r="0.38" fill="#111"/>
<circle cx="449.94" cy="389.65" r="0.38" fill="#111"/>
<circle cx="414.14" cy="390.53" r="0.38" fill="#111"/>
<circle cx="449.98" cy="388.74" r="0.38" fill="#111"/>
<circle cx="427.36" cy="390.92" r="0.38" fill="#111"/>
<circle cx="423.03" cy="391.45" r="0.38" fill="#111"/>
<circle cx="446.74" cy="388.90" r="0.38" fill="#111"/>
<circle cx="424.49" cy="390.95" r="0.38" fill="#111"/>
<circle cx="415.02" cy="391.02" r="0.38" fill="#111"/>
<circle cx="438.56" cy="385.95" r="0.38" fill="#111"/>
<circle cx="429.03" cy="393.23" r="0.38" fill="#111"/>
<circle cx="424.64" cy="391.32" r="0.38" fill="#111"/>
<circle cx="439.36" cy="390.71" r="0.38" fill="#111"/>
<circle cx="446.02" cy="388.54" r="0.38" fill="#111"/>
<circle cx="434.02" cy="387.72" r="0.38" fill="#111"/>
<circle cx="446.69" cy="388.22" r="0.38" fill="#111"/>
<circle cx="437.98" cy="392.98" r="0.38" fill="#111"/>
<circle cx="424.46" cy="391.32" r="0.38" fill="#111"/>
<circle cx="429.84" cy="387.42" r="0.38" fill="#111"/>
<circle cx="449.35" cy="388.61" r="0.38" fill="#111"/>
<circle cx="418.70" cy="389.02" r="0.38" fill="#111"/>
<circle cx="435.59" cy="391.44" r="0.38" fill="#111"/>
<circle cx="424.68" cy="392.01" r="0.38" fill="#111"/>
<circle cx="443.97" cy="383.88" r="0.38" fill="#111"/>
<circle cx="438.67" cy="390.58" r="0.38" fill="#111"/>
<circle cx="450.67" cy="389.72" r="0.38" fill="#111"/>
<circle cx="428.16" cy="388.22" r="0.38" fill="#111"/>
<circle cx="427.84" cy="391.10" r="0.38" fill="#111"/>
<circle cx="442.58" cy="387.64" r="0.38" fill="#111"/>
<circle cx="453.24" cy="391.44" r="0.38" fill="#111"/>
<circle cx="427.77" cy="390.67" r="0.38" fill="#111"/>
<circle cx="452.05" cy="388.23" r="0.38" fill="#111"/>
<circle cx="433.32" cy="390.23" r="0.38" fill="#111"/>
<circle cx="450.47" cy="388.57" r="0.38" fill="#111"/>
<circle cx="422.89" cy="392.36" r="0.38" fill="#111"/>
<circle cx="443.14" cy="387.99" r="0.38" fill="#111"/>
<circle cx="429.64" cy="389.48" r="0.38" fill="#111"/>
<circle cx="425.83" cy="389.53" r="0.38" fill="#111"/>
<circle cx="418.88" cy="393.44" r="0.38" fill="#111"/>
<circle cx="460.60" cy="388.11" r="0.38" fill="#111"/>
<circle cx="413.32" cy="392.76" r="0.38" fill="#111"/>
<circle cx="420.69" cy="389.77" r="0.38" fill="#111"/>
<circle cx="414.50" cy="390.97" r="0.38" fill="#111"/>
<circle cx="436.77" cy="390.15" r="0.38" fill="#111"/>
<circle cx="435.01" cy="391.68" r="0.38" fill="#111"/>
<circle cx="441.01" cy="392.68" r="0.38" fill="#111"/>
<circle cx="449.45" cy="388.47" r="0.38" fill="#111"/>
<circle cx="446.37" cy="391.15" r="0.38" fill="#111"/>
<circle cx="450.16" cy="389.79" r="0.38" fill="#111"/>
<circle cx="434.90" cy="394.12" r="0.38" fill="#111"/>
<circle cx="416.86" cy="392.76" r="0.38" fill="#111"/>
<circle cx="456.00" cy="387.09" r="0.38" fill="#111"/>
<circle cx="422.97" cy="392.86" r="0.38" fill="#111"/>
<circle cx="439.34" cy="390.29" r="0.38" fill="#111"/>
<circle cx="445.35" cy="387.73" r="0.38" fill="#111"/>
<circle cx="449.47" cy="387.14" r="0.38" fill="#111"/>
<circle cx="437.72" cy="391.00" r="0.38" fill="#111"/>
<circle cx="429.90" cy="392.17" r="0.38" fill="#111"/>
<circle cx="439.18" cy="390.08" r="0.38" fill="#111"/>
<circle cx="425.71" cy="391.74" r="0.38" fill="#111"/>
<circle cx="444.85" cy="390.79" r="0.38" fill="#111"/>
<circle cx="432.28" cy="390.17" r="0.38" fill="#111"/>
<circle cx="454.94" cy="389.20" r="0.38" fill="#111"/>
<circle cx="451.89" cy="389.44" r="0.38" fill="#111"/>
<circle cx="432.59" cy="391.31" r="0.38" fill="#111"/>
<circle cx="436.76" cy="389.04" r="0.38" fill="#111"/>
<circle cx="427.66" cy="390.13" r="0.38" fill="#111"/>
<circle cx="450.29" cy="388.84" r="0.38" fill="#111"/>
<circle cx="444.40" cy="389.95" r="0.38" fill="#111"/>
<circle cx="421.74" cy="388.86" r="0.38" fill="#111"/>
<circle cx="444.70" cy="391.09" r="0.38" fill="#111"/>
<circle cx="425.63" cy="389.44" r="0.38" fill="#111"/>
<circle cx="438.10" cy="391.58" r="0.38" fill="#111"/>
<circle cx="443.10" cy="385.95" r="0.38" fill="#111"/>
<circle cx="448.60" cy="389.25" r="0.38" fill="#111"/>
<circle cx="413.53" cy="391.77" r="0.38" fill="#111"/>
<circle cx="434.62" cy="389.28" r="0.38" fill="#111"/>
<circle cx="452.35" cy="388.08" r="0.38" fill="#111"/>
<circle cx="439.27" cy="388.63" r="0.38" fill="#111"/>
<circle cx="449.69" cy="384.17" r="0.38" fill="#111"/>
<circle cx="448.85" cy="387.11" r="0.38" fill="#111"/>
<circle cx="449.86" cy="386.79" r="0.38" fill="#111"/>
<circle cx="450.57" cy="387.35" r="0.38" fill="#111"/>
<circle cx="420.16" cy="394.40" r="0.38" fill="#111"/>
<circle cx="438.55" cy="390.53" r="0.38" fill="#111"/>
<circle cx="455.77" cy="387.21" r="0.38" fill="#111"/>
<circle cx="436.23" cy="389.36" r="0.38" fill="#111"/>
<circle cx="415.46" cy="390.24" r="0.38" fill="#111"/>
<circle cx="425.05" cy="387.03" r="0.38" fill="#111"/>
<circle cx="440.10" cy="386.78" r="0.38" fill="#111"/>
<circle cx="438.07" cy="387.63" r="0.38" fill="#111"/>
<circle cx="447.26" cy="389.81" r="0.38" fill="#111"/>
<circle cx="454.62" cy="386.49" r="0.38" fill="#111"/>
<circle cx="429.64" cy="392.56" r="0.38" fill="#111"/>
<circle cx="425.15" cy="392.42" r="0.38" fill="#111"/>
<circle cx="442.24" cy="389.66" r="0.38" fill="#111"/>
<circle cx="437.44" cy="386.15" r="0.38" fill="#111"/>
<circle cx="434.76" cy="390.74" r="0.38" fill="#111"/>
<circle cx="446.17" cy="384.94" r="0.38" fill="#111"/>
<circle cx="428.98" cy="388.48" r="0.38" fill="#111"/>
<circle cx="434.22" cy="389.88" r="0.38" fill="#111"/>
<circle cx="451.14" cy="386.84" r="0.38" fill="#111"/>
<circle cx="428.57" cy="391.63" r="0.38" fill="#111"/>
<circle cx="439.92" cy="391.25" r="0.38" fill="#111"/>
<circle cx="427.66" cy="389.27" r="0.38" fill="#111"/>
<circle cx="437.19" cy="396.30" r="0.38" fill="#111"/>
<circle cx="447.09" cy="386.76" r="0.38" fill="#111"/>
<circle cx="426.72" cy="391.58" r="0.38" fill="#111"/>
<circle cx="421.11" cy="392.38" r="0.38" fill="#111"/>
<circle cx="427.60" cy="387.66" r="0.38" fill="#111"/>
<circle cx="432.50" cy="389.16" r="0.38" fill="#111"/>
<circle cx="442.51" cy="388.67" r="0.38" fill="#111"/>
<circle cx="460.76" cy="386.59" r="0.38" fill="#111"/>
<circle cx="418.79" cy="389.02" r="0.38" fill="#111"/>
<circle cx="438.87" cy="386.58" r="0.38" fill="#111"/>
<circle cx="455.36" cy="386.57" r="0.38" fill="#111"/>
<circle cx="425.92" cy="394.61" r="0.38" fill="#111"/>
<circle cx="438.65" cy="392.52" r="0.38" fill="#111"/>
<circle cx="455.60" cy="385.04" r="0.38" fill="#111"/>
<circle cx="441.88" cy="386.38" r="0.38" fill="#111"/>
<circle cx="447.85" cy="385.83" r="0.38" fill="#111"/>
<circle cx="449.05" cy="385.40" r="0.38" fill="#111"/>
<circle cx="459.75" cy="386.45" r="0.38" fill="#111"/>
<circle cx="422.66" cy="391.41" r="0.38" fill="#111"/>
<circle cx="434.90" cy="386.76" r="0.38" fill="#111"/>
<circle cx="435.32" cy="388.53" r="0.38" fill="#111"/>
<circle cx="459.31" cy="387.26" r="0.38" fill="#111"/>
<circle cx="438.32" cy="389.47" r="0.38" fill="#111"/>
<circle cx="444.56" cy="388.93" r="0.38" fill="#111"/>
<circle cx="422.44" cy="394.04" r="0.38" fill="#111"/>
<circle cx="456.39" cy="383.97" r="0.38" fill="#111"/>
<circle cx="442.45" cy="390.60" r="0.38" fill="#111"/>
<circle cx="447.74" cy="389.38" r="0.38" fill="#111"/>
<circle cx="460.53" cy="390.50" r="0.38" fill="#111"/>
<circle cx="420.19" cy="389.91" r="0.38" fill="#111"/>
<circle cx="455.26" cy="387.34" r="0.38" fill="#111"/>
<circle cx="342.5" cy="392.5" r="0.4" fill="#666"/>
<line x1="288.1" y1="474.3" x2="467" y2="474.3" stroke="#000" stroke-width="1.3" />
<polygon points="465.5,471.4 473.2,474.3 465.5,477.2" fill="#000"/>
<text x="362.65" y="484.40" font-size="9.6" font-weight="bold" font-style="normal" fill="#000" textLength="40.60" lengthAdjust="spacingAndGlyphs" style="stroke-width:0">Munc13-4/GFP</text>
</svg>
</body></html>
